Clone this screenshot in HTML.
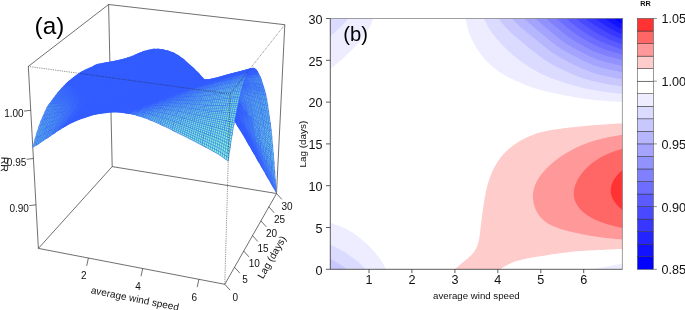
<!DOCTYPE html>
<html><head><meta charset="utf-8"><title>Figure</title>
<style>
html,body{margin:0;padding:0;background:#fff;}
svg{display:block;font-family:"Liberation Sans",sans-serif;fill:#000;}
svg{will-change:transform;opacity:0.9999;}
.f{fill:#84ffc8;}.l{fill:none;stroke:#325cff;}
</style></head><body>
<svg width="685" height="310" viewBox="0 0 685 310">
<rect width="685" height="310" fill="#fff"/>
<!-- panel a: 3D -->
<g stroke="#222" stroke-width="0.65" fill="none"><line x1="38.4" y1="248.4" x2="28.3" y2="66.4" /><line x1="28.3" y1="66.4" x2="108.6" y2="4.5" /><line x1="108.6" y1="4.5" x2="284.8" y2="24.7" /><line x1="284.8" y1="24.7" x2="276.5" y2="193.5" /><line x1="112.2" y1="166.6" x2="108.6" y2="4.5" /><line x1="112.2" y1="166.6" x2="276.5" y2="193.5" /><line x1="38.4" y1="248.4" x2="112.2" y2="166.6" /><line x1="38.4" y1="248.4" x2="224.8" y2="284.3" /><line x1="224.8" y1="284.3" x2="276.5" y2="193.5" /><line x1="88.4" y1="258.0" x2="86.7" y2="265.8" /><line x1="142.7" y1="268.5" x2="141.0" y2="276.3" /><line x1="198.9" y1="279.3" x2="197.2" y2="287.1" /><line x1="224.8" y1="284.3" x2="230.1" y2="290.2" /><line x1="234.5" y1="267.2" x2="239.8" y2="273.1" /><line x1="243.7" y1="251.0" x2="249.0" y2="256.9" /><line x1="252.5" y1="235.6" x2="257.8" y2="241.5" /><line x1="260.9" y1="220.9" x2="266.2" y2="226.8" /><line x1="268.9" y1="206.9" x2="274.2" y2="212.8" /><line x1="276.5" y1="193.5" x2="281.8" y2="199.4" /><line x1="36.0" y1="204.8" x2="29.3" y2="205.6" /><line x1="33.4" y1="158.5" x2="26.7" y2="159.3" /><line x1="30.7" y1="110.3" x2="24.0" y2="111.1" /></g>
<g stroke="none"><path d="M33.5 146.5l6-3.8l14.1-9.3l10.7-6.7l7.3-3.9l3.6-1.7l3.7-1.6l11.3-3.7l3.7-1.1l3.8-.8l7.6-1.2l3.9-.4l3.9-.2l3.9 0l3.8 .3l7.9 1l3.9 .7l7.8 1.9l4 1.2l4 1.6l7.9 3.4l11.9 5.5l20 10l16.1 8.2l12 6.7l4.1 2.5l7.5 5.3l2.7-18.8l1.8-11.3l1.6-8.8l.2-.3l.3-.1l.3 .2l3.8 6l9.7 16.2l19.1 33.2l8.5 15.1l-.8-8.9l-2.3-30l-1.4-16.5l-1.6-13.9l-2.7-18.3l-.9-5.5l-1.5-6.7l-3.8-12.4l-1.2-3.2l-1.1-2.7l-1.2-2.2l-1.2-1.7l-.6-.6l-1.2-.8l-.6-.2l-1.1-.1l-8 2.2l-15.2 3.9l-15.4 4.2l-5.1 1.2l-4.4 .2l-.2-.1l-2.6-3l-3.3-3.6l-6.7-6.3l-6.7-6l-3.3-2.6l-3.3-2.4l-3.4-2l-3.3-1.6l-3.3-1.1l-6.6-1.5l-3.3-.4l-3.3-.1l-3.2 .4l-3.3 .6l-3.3 .9l-3.2 1.1l-3.3 1.2l-8.1 3.6l-2.5 .9l-3.6 1.1l-5.5 1.3l-7.2 1.5l-15.3 2.7l-1.7 .8l-2.8 1.7l-6.5 2.9l-3.8 1.9l-2.8 1.7l-4.8 3.4l-4 3.1l-1.9 1.7l-4 3.8l-3 3.2l-3 3.5l-3.1 3.9l-5.1 7l-2.1 3.2l-2 4.1l-3.1 6.8l-3 7.6l-3 9.1z" fill="#325cff" fill-rule="evenodd"/><path d="M110 67.1l4.7-2.5l4.8-2.4l4.8-2.4l4.8-2.4l1.6-.8l-1.6 .6l-1.6 .6l-4.9 2.1l-4.8 2l-4.8 2.1l-4.7 2.2z" fill="#325cff"/><path d="M270.2 182.4l1.6 2.8l4.7 8.5l-.7-7l-4.8-8.1l-1.6-2.7z" fill="#3d71f8"/><path d="M265.4 174.2l1.6 2.7l4.8 8.3l1.5 2.9l-.7-6.8l-1.6-2.7l-4.8-8l-1.6-2.7z" fill="#3a6cfa"/><path d="M127.5 58.2l1.6-.8l4.9-2.3l1.6-.7l-1.6 .8l-1.7 .6l-4.8 2l-1.6 .7z" fill="#325cff"/><path d="M260.7 165.9l1.6 2.7l4.7 8.3l1.6 2.8l-.8-6.5l-1.6-2.6l-4.8-7.9l-1.6-2.6z" fill="#3766fb"/><path d="M132.4 55.9l1.6-.8l4.8-2.1l1.7-.7l-1.6 1.1l-1.7 .6l-4.9 1.8l-1.6 .7z" fill="#325cff"/><path d="M255.9 157.6l1.6 2.8l4.8 8.2l1.6 2.8l-.9-6.1l-1.6-2.6l-4.8-7.9l-1.6-2.6z" fill="#335efe"/><path d="M251.1 149.3l1.6 2.7l4.8 8.4l1.6 2.7l-.9-5.6l-1.6-2.7l-4.8-7.9l-1.6-2.6z" fill="#325cff"/><path d="M137.2 53.7l1.6-.7l5-1.9l1.6-.5l-1.6 1.3l-1.6 .5l-5 1.6l-1.6 .6z" fill="#325cff"/><path d="M246.3 141l1.6 2.7l4.8 8.3l1.6 2.8l-.9-5.2l-1.6-2.7l-4.9-7.9l-1.6-2.6z" fill="#325cff"/><path d="M142.1 51.7l1.7-.6l4.9-1.4l1.6-.3l-1.5 1.4l-1.7 .3l-4.9 1.3l-1.7 .5z" fill="#325cff"/><path d="M236.6 124.9l1.6 2.7l4.9 7.9l4.8 8.2l1.6 2.8l-1-4.8l-1.6-2.7l-4.9-7.8l-4.8-7.8l-1.7-2.6z" fill="#325cff"/><path d="M147 50.2l1.7-.5l4.9-.9l1.7-.1l-1.6 1.6l-1.6 .1l-5 .7l-1.6 .4z" fill="#325cff"/><path d="M231.7 117.2l1.7 2.6l4.8 7.8l1.7 2.6l-1.1-4.2l-1.6-2.6l-4.9-7.6l-1.7-2.5z" fill="#325cff"/><path d="M152 49.1l1.6-.3l5 0l1.7 .2l-1.6 1.6l-1.6-.2l-5 0l-1.7 .2z" fill="#325cff"/><path d="M226.8 109.6l1.7 2.5l4.9 7.7l1.6 2.5l-1.1-4l-1.6-2.5l-5-7.4l-1.6-2.4z" fill="#325cff"/><path d="M157 48.7l1.6 .1l5 .7l1.7 .4l-1.5 1.6l-1.7-.4l-5-.7l-1.7-.1z" fill="#325cff"/><path d="M217 95.4l1.6 2.3l5 7l4.9 7.4l1.6 2.5l-1.1-3.8l-1.7-2.4l-4.9-7l-5-6.4l-1.7-2z" fill="#325cff"/><path d="M162 49.2l1.6 .3l5 1.3l1.7 .5l-1.5 1.6l-1.7-.5l-5-1.3l-1.7-.3z" fill="#325cff"/><path d="M212 88.7l1.7 2.2l4.9 6.8l1.7 2.3l-1.2-2.9l-1.7-2.1l-5-6l-1.7-2z" fill="#325cff"/><path d="M167 50.3l1.6 .5l5.1 1.8l1.6 .8l-1.5 1.6l-1.7-.8l-5-1.8l-1.7-.5z" fill="#325cff"/><path d="M207.1 82.3l1.6 2.1l5 6.5l1.6 2.3l-1.2-2.3l-1.7-1.9l-5-5.8l-1.7-1.9z" fill="#325cff"/><path d="M172 51.9l1.7 .7l5 2.8l1.7 1.2l-1.5 1.3l-1.7-1.1l-5.1-2.6l-1.6-.7z" fill="#325cff"/><path d="M197.1 71.2l1.6 1.7l5 5.4l5 6.1l1.7 2.1l-1.3-1.4l-1.7-1.9l-5-5.4l-5.1-4.9l-1.6-1.5z" fill="#325cff"/><path d="M177 54.4l1.7 1l5 3.7l1.7 1.4l-1.5 1.1l-1.7-1.3l-5-3.5l-1.7-.9z" fill="#325cff"/><path d="M192.1 66.5l1.6 1.5l5 4.9l1.7 1.7l-1.4-.1l-1.7-1.6l-5-4.4l-1.7-1.4z" fill="#325cff"/><path d="M182 57.8l1.7 1.3l5 4.4l5 4.5l1.7 1.6l-1.4 .3l-1.7-1.4l-5-4.2l-5.1-4l-1.7-1.2z" fill="#325cff"/><path d="M108.7 66.5l4.8-2.4l4.7-2.1l4.8-2.1l4.9-2.2l4.8-2l1.7-.7l-2.1 1l-1.6 .5l-4.9 1.8l-4.9 1.6l-4.8 1.7l-4.8 1.8l-4.8 2z" fill="#325cff"/><path class="f" d="M269.6 177.6l1.6 2.7l1.6 2.7l1.6 2.8l1.6 2.7l-.9-9.6l-1.6-2.4l-1.6-2.5l-1.6-2.5l-1.6-2.5z"/><path class="l" stroke-width="0.66" d="M268.9 170.8l1.6 2.5l1.6 2.6l1.6 2.5l1.6 2.5M269.1 172.5l1.6 2.6l1.6 2.6l1.6 2.6l1.6 2.6M269.2 174.2l1.6 2.7l1.6 2.6l1.6 2.7l1.6 2.6M269.4 175.9l1.6 2.7l1.6 2.7l1.6 2.7l1.6 2.7M269.6 177.6l1.6 2.7l1.6 2.7l1.6 2.8l1.6 2.7M268.7 169l.2 1.8l.2 1.7l.1 1.7l.2 1.7l.2 1.7M270.3 171.5l.2 1.8l.2 1.8l.1 1.8l.2 1.7l.2 1.7M271.9 174l.2 1.9l.2 1.8l.1 1.8l.2 1.8l.2 1.7M273.5 176.5l.2 1.9l.2 1.9l.1 1.9l.2 1.8l.2 1.8M275.1 178.9l.2 2l.2 2l.1 1.9l.2 1.9l.2 1.8"/><path d="M131.1 56.3l1.6-.6l4.9-2l1.7-.6l-2.1 1.3l-1.6 .5l-4.9 1.6l-1.6 .6z" fill="#325cff"/><path d="M264.8 169.5l1.6 2.7l4.8 8.1l1.6 2.7l-.9-9l-1.6-2.5l-4.9-7.5l-1.6-2.5z" fill="#3f75f7"/><path d="M260 161.5l1.6 2.7l4.8 8l1.6 2.7l-.9-8.4l-1.7-2.5l-4.8-7.4l-1.6-2.4z" fill="#3b6ef9"/><path d="M136 54.3l1.6-.6l5-1.6l1.6-.5l-2 1.6l-1.7 .4l-4.9 1.3l-1.6 .5z" fill="#325cff"/><path d="M255.2 153.6l1.6 2.6l4.8 8l1.6 2.6l-1-7.7l-1.6-2.5l-4.9-7.4l-1.6-2.5z" fill="#3664fc"/><path d="M250.4 145.5l1.6 2.7l4.8 8l1.6 2.7l-1.1-7.2l-1.6-2.5l-4.9-7.4l-1.6-2.5z" fill="#335dff"/><path d="M140.9 52.6l1.7-.5l4.9-1.3l1.7-.3l-2 1.8l-1.7 .2l-5 1.1l-1.6 .4z" fill="#325cff"/><path d="M245.6 137.5l1.6 2.7l4.8 8l1.6 2.7l-1.2-6.6l-1.6-2.5l-4.9-7.5l-1.6-2.5z" fill="#325cff"/><path d="M145.8 51.2l1.7-.4l5-.8l1.6-.1l-1.9 2.1l-1.7 0l-5 .5l-1.6 .3z" fill="#325cff"/><path d="M240.7 129.6l1.6 2.7l4.9 7.9l1.6 2.7l-1.3-6.1l-1.6-2.5l-4.9-7.5l-1.6-2.6z" fill="#325cff"/><path d="M150.8 50.2l1.7-.2l5 0l1.6 .2l-1.9 2l-1.7-.1l-5-.1l-1.7 .1z" fill="#325cff"/><path d="M230.9 114.3l1.6 2.5l4.9 7.6l4.9 7.9l1.6 2.6l-1.3-5.6l-1.6-2.5l-4.9-7.6l-5-7.5l-1.6-2.4z" fill="#325cff"/><path d="M155.8 49.9l1.7 .1l5 .7l1.6 .4l-1.9 2l-1.7-.3l-5-.7l-1.7-.1z" fill="#325cff"/><path d="M226 106.9l1.6 2.4l4.9 7.5l1.7 2.5l-1.4-5.2l-1.7-2.4l-5-7.1l-1.6-2.2z" fill="#325cff"/><path d="M160.8 50.4l1.7 .3l5 1.3l1.7 .5l-1.9 2l-1.7-.5l-5.1-1.2l-1.6-.3z" fill="#325cff"/><path d="M221 100l1.7 2.3l4.9 7l1.7 2.5l-1.5-4.9l-1.7-2.3l-4.9-6.4l-1.7-2z" fill="#325cff"/><path d="M165.8 51.5l1.7 .5l5 1.8l1.7 .8l-1.9 2l-1.7-.8l-5-1.8l-1.7-.5z" fill="#325cff"/><path d="M216 93.6l1.7 2.1l5 6.6l1.6 2.3l-1.5-4.4l-1.6-2l-5.1-5.8l-1.6-1.8z" fill="#325cff"/><path d="M170.8 53.1l1.7 .7l5.1 2.7l1.6 1.1l-1.8 1.7l-1.7-1l-5.1-2.5l-1.7-.7z" fill="#325cff"/><path d="M211.1 87.4l1.6 2.1l5 6.2l1.7 2.2l-1.6-3.7l-1.7-1.8l-5-5.4l-1.7-1.7z" fill="#325cff"/><path d="M175.9 55.5l1.7 1l5 3.5l1.7 1.3l-1.9 1.3l-1.6-1.1l-5.1-3.2l-1.7-.9z" fill="#325cff"/><path d="M206.1 81.6l1.6 1.9l5 6l1.7 2l-1.6-2.7l-1.7-1.8l-5-5l-1.7-1.5z" fill="#325cff"/><path d="M180.9 58.8l1.7 1.2l5 4.1l1.7 1.4l-1.8 .9l-1.7-1.3l-5-3.6l-1.7-1.1z" fill="#325cff"/><path d="M201 76.2l1.7 1.7l5 5.6l1.7 1.9l-1.7-1.7l-1.6-1.7l-5.1-4.6l-1.7-1.5z" fill="#325cff"/><path d="M186 62.7l1.6 1.4l5.1 4.3l1.6 1.4l-1.7 .5l-1.7-1.4l-5.1-3.8l-1.7-1.2z" fill="#325cff"/><path d="M191 66.9l1.7 1.5l5 4.5l5 5l1.7 1.8l-1.7-.8l-1.7-1.5l-5.1-4.4l-5-4.1l-1.7-1.3z" fill="#325cff"/><path d="M106.9 65.6l4.8-2l4.8-1.9l4.9-1.8l4.8-1.7l4.9-1.8l4.9-1.7l4.9-1.4l1.7-.4l-2 1.5l-1.7 .3l-4.9 1.2l-5 1.3l-4.9 1.4l-4.9 1.4l-4.8 1.5l-4.8 1.5l-4.9 1.7z" fill="#325cff"/><path class="f" d="M264 163.2l1.6 2.5l1.7 2.5l1.6 2.6l1.6 2.5l1.6 2.6l1.6 2.5l1.6 2.5l-.8-10.6l-1.6-2.2l-1.7-2.1l-1.6-2.2l-1.7-2.3l-1.6-2.2l-1.7-2.2l-1.6-2.2z"/><path class="l" stroke-width="0.64" d="M263.2 156.6l1.6 2.3l1.7 2.2l1.6 2.3l1.7 2.3l1.6 2.3l1.6 2.3l1.7 2.2M263.4 158.2l1.6 2.4l1.7 2.4l1.6 2.3l1.6 2.4l1.7 2.3l1.6 2.4l1.6 2.2M263.6 159.9l1.6 2.4l1.7 2.4l1.6 2.5l1.6 2.4l1.6 2.4l1.6 2.4l1.7 2.4M263.8 161.5l1.6 2.5l1.7 2.5l1.6 2.5l1.6 2.5l1.6 2.5l1.6 2.5l1.6 2.4M264 163.2l1.6 2.5l1.7 2.5l1.6 2.6l1.6 2.5l1.6 2.6l1.6 2.5l1.6 2.5M263 154.9l.2 1.7l.2 1.6l.2 1.7l.2 1.6l.2 1.7M264.6 157.1l.2 1.8l.2 1.7l.2 1.7l.2 1.7l.2 1.7M266.3 159.3l.2 1.8l.2 1.9l.2 1.7l.2 1.8l.2 1.7M267.9 161.5l.2 1.9l.2 1.9l.2 1.9l.2 1.8l.2 1.8M269.6 163.8l.2 1.9l.1 2l.2 1.9l.2 1.9l.2 1.8M271.2 166l.2 2l.2 2l.1 2l.2 2l.2 1.9M272.9 168.1l.1 2.2l.2 2.1l.1 2l.2 2.1l.2 1.9M274.5 170.3l.2 2.2l.1 2.1l.2 2.2l.1 2.1l.2 2"/><path d="M139.3 53.7l1.6-.4l5-1.1l1.7-.3l-2 1.9l-1.7 .1l-5 .8l-1.6 .4z" fill="#325cff"/><path d="M259.2 155.7l1.6 2.5l4.8 7.5l1.7 2.5l-1-8.9l-1.7-2.2l-4.9-6.7l-1.6-2.3z" fill="#4078f5"/><path d="M254.3 148.1l1.6 2.5l4.9 7.6l1.6 2.5l-1-8.1l-1.7-2.2l-4.9-6.9l-1.7-2.4z" fill="#3b6ef9"/><path d="M144.3 52.5l1.6-.3l5-.6l1.7-.1l-2 2.1l-1.7 0l-5 .3l-1.7 .3z" fill="#325cff"/><path d="M249.4 140.5l1.7 2.6l4.8 7.5l1.7 2.5l-1.2-7.3l-1.6-2.3l-5-7l-1.6-2.4z" fill="#3562fd"/><path d="M149.2 51.7l1.7-.1l5 .1l1.7 .1l-2 2.1l-1.7-.2l-5-.1l-1.7 0z" fill="#325cff"/><path d="M239.6 125.3l1.7 2.6l4.9 7.6l4.9 7.6l1.6 2.5l-1.2-6.8l-1.7-2.3l-4.9-7l-5-7.2l-1.6-2.4z" fill="#325cff"/><path d="M154.2 51.6l1.7 .1l5 .7l1.7 .3l-1.9 2.1l-1.7-.4l-5.1-.7l-1.6-.1z" fill="#325cff"/><path d="M234.7 117.7l1.6 2.5l5 7.7l1.6 2.5l-1.3-5.6l-1.7-2.5l-4.9-7.4l-1.7-2.4z" fill="#325cff"/><path d="M159.2 52.1l1.7 .3l5.1 1.2l1.6 .5l-1.9 2.1l-1.7-.6l-5-1.2l-1.7-.3z" fill="#325cff"/><path d="M229.8 110.3l1.6 2.4l4.9 7.5l1.7 2.6l-1.4-5.4l-1.6-2.5l-5-7.2l-1.7-2.3z" fill="#325cff"/><path d="M164.3 53.1l1.7 .5l5 1.8l5.1 2.5l1.6 1.1l-1.8 1.6l-1.7-.9l-5.1-2.3l-5.1-1.8l-1.7-.4z" fill="#325cff"/><path d="M224.8 103.3l1.6 2.2l5 7.2l1.7 2.5l-1.5-5.1l-1.6-2.4l-5-6.6l-1.7-2z" fill="#325cff"/><path d="M174.4 57l1.7 .9l5 3.3l1.7 1.2l-1.8 1.3l-1.7-1.1l-5.1-2.9l-1.7-.8z" fill="#325cff"/><path d="M219.8 96.9l1.7 2.1l4.9 6.5l1.7 2.4l-1.5-4.7l-1.6-2.1l-5.1-5.8l-1.7-1.8z" fill="#325cff"/><path d="M179.4 60l1.7 1.2l5.1 3.7l1.7 1.3l-1.9 .8l-1.7-1.1l-5-3.3l-1.7-1z" fill="#325cff"/><path d="M214.8 91.1l1.6 1.9l5.1 6l1.6 2.1l-1.5-4l-1.7-1.8l-5-5.2l-1.7-1.6z" fill="#325cff"/><path d="M184.5 63.6l1.7 1.3l5 3.9l5.1 4.2l1.7 1.5l-1.8-.1l-1.7-1.3l-5.1-3.7l-5.1-3.5l-1.7-1.1z" fill="#325cff"/><path d="M209.7 85.7l1.7 1.8l5 5.5l1.7 1.9l-1.6-3.1l-1.6-1.7l-5.1-4.6l-1.7-1.5z" fill="#325cff"/><path d="M194.6 71.6l1.7 1.4l5 4.5l1.7 1.6l-1.7-.7l-1.7-1.4l-5.1-3.9l-1.7-1.3z" fill="#325cff"/><path d="M199.7 75.9l1.6 1.6l5.1 4.8l5 5.2l1.7 1.8l-1.6-2.3l-1.7-1.5l-5.1-4.4l-5.1-4.1l-1.7-1.3z" fill="#325cff"/><path d="M105.2 64.9l4.8-1.8l4.8-1.6l4.9-1.5l4.9-1.5l4.9-1.4l4.9-1.5l4.9-1.1l5-.9l5-.4l1.7 0l-2 1.9l-1.7 0l-5 .2l-5 .6l-5 .9l-4.9 1.1l-5 1.2l-4.9 1.1l-4.8 1.2l-4.9 1.3l-4.8 1.4z" fill="#325cff"/><path class="f" d="M268.1 163.4l1.7 2.3l1.6 2.3l1.6 2.3l1.7 2.2l-.8-11l-1.7-1.9l-1.7-1.9l-1.6-1.9l-1.7-1.9z"/><path class="l" stroke-width="0.61" d="M267.4 155.8l1.6 2l1.7 1.9l1.7 2l1.6 2M267.6 157.7l1.6 2.1l1.7 2l1.6 2l1.7 2.1M267.7 159.6l1.7 2.2l1.6 2.1l1.7 2.1l1.6 2.1M267.9 161.5l1.7 2.3l1.6 2.2l1.7 2.1l1.6 2.2M268.1 163.4l1.7 2.3l1.6 2.3l1.6 2.3l1.7 2.2M267.2 153.9l.2 1.9l.2 1.9l.1 1.9l.2 1.9l.2 1.9M268.9 155.8l.1 2l.2 2l.2 2l.2 2l.2 1.9M270.5 157.7l.2 2l.2 2.1l.1 2.1l.2 2.1l.2 2M272.2 159.6l.2 2.1l.1 2.1l.2 2.2l.2 2.1l.1 2.2M273.9 161.5l.1 2.2l.2 2.2l.1 2.2l.2 2.2l.2 2.2"/><path class="f" d="M263.2 156.6l1.6 2.3l1.7 2.2l1.6 2.3l1.7 2.3l1.6 2.3l-.9-10.3l-1.6-1.9l-1.7-1.9l-1.7-2l-1.7-1.9l-1.6-2z"/><path class="l" stroke-width="0.63" d="M262.4 149.7l1.6 2.1l1.7 2l1.7 2l1.6 2l1.7 1.9M262.6 151.5l1.6 2.1l1.7 2l1.7 2.1l1.6 2.1l1.7 2M262.8 153.2l1.6 2.1l1.7 2.2l1.6 2.1l1.7 2.2l1.6 2.1M263 154.9l1.6 2.2l1.7 2.2l1.6 2.2l1.7 2.3l1.6 2.2M263.2 156.6l1.6 2.3l1.7 2.2l1.6 2.3l1.7 2.3l1.6 2.3M262.2 148l.2 1.7l.2 1.8l.2 1.7l.2 1.7l.2 1.7M263.8 150l.2 1.8l.2 1.8l.2 1.7l.2 1.8l.2 1.8M265.5 151.9l.2 1.9l.2 1.8l.2 1.9l.2 1.8l.2 1.8M267.2 153.9l.2 1.9l.2 1.9l.1 1.9l.2 1.9l.2 1.9M268.9 155.8l.1 2l.2 2l.2 2l.2 2l.2 1.9M270.5 157.7l.2 2l.2 2.1l.1 2.1l.2 2.1l.2 2"/><path d="M147.6 53.3l1.7-.1l5 .1l1.7 .2l-2 2l-1.7-.2l-5-.2l-1.7 0z" fill="#325cff"/><path class="f" d="M258.3 149.6l1.6 2.3l1.7 2.4l1.6 2.3l1.6 2.3l1.7 2.2l-1-9.2l-1.7-1.9l-1.6-2l-1.7-2l-1.7-2l-1.6-2.1z"/><path class="l" stroke-width="0.65" d="M257.4 143.5l1.7 2.1l1.6 2.1l1.7 2l1.6 2.1l1.7 2M257.6 145l1.7 2.2l1.6 2.1l1.7 2.2l1.6 2.1l1.7 2M257.9 146.5l1.6 2.3l1.7 2.2l1.6 2.2l1.6 2.1l1.7 2.2M258.1 148.1l1.6 2.3l1.7 2.2l1.6 2.3l1.6 2.2l1.7 2.2M258.3 149.6l1.6 2.3l1.7 2.4l1.6 2.3l1.6 2.3l1.7 2.2M257.2 141.9l.2 1.6l.2 1.5l.3 1.5l.2 1.6l.2 1.5M258.8 144l.3 1.6l.2 1.6l.2 1.6l.2 1.6l.2 1.5M260.5 146l.2 1.7l.2 1.6l.3 1.7l.2 1.6l.2 1.7M262.2 148l.2 1.7l.2 1.8l.2 1.7l.2 1.7l.2 1.7M263.8 150l.2 1.8l.2 1.8l.2 1.7l.2 1.8l.2 1.8M265.5 151.9l.2 1.9l.2 1.8l.2 1.9l.2 1.8l.2 1.8"/><path d="M253.4 142.6l1.6 2.3l4.9 7l1.7 2.4l-1.1-8.3l-1.7-2l-4.9-6.4l-1.7-2.2z" fill="#3f75f7"/><path d="M152.6 53.2l1.7 .1l5.1 .7l1.6 .4l-1.9 2l-1.7-.4l-5.1-.7l-1.6-.1z" fill="#325cff"/><path d="M248.4 135.4l1.7 2.4l4.9 7.1l1.7 2.4l-1.2-7.5l-1.6-2.2l-5-6.6l-1.7-2.2z" fill="#3a6cfa"/><path d="M157.7 53.7l1.7 .3l5 1.2l1.7 .6l-1.9 1.9l-1.7-.5l-5.1-1.2l-1.7-.3z" fill="#325cff"/><path d="M243.5 128.3l1.6 2.4l5 7.1l1.6 2.4l-1.2-7l-1.6-2.2l-5-6.6l-1.7-2.1z" fill="#3562fd"/><path d="M238.5 121l1.7 2.4l4.9 7.3l1.7 2.4l-1.3-6.5l-1.6-2.2l-5.1-6.6l-1.6-2.3z" fill="#325cff"/><path d="M162.7 54.8l1.7 .4l5.1 1.8l5.1 2.4l1.6 .9l-1.8 1.6l-1.7-.8l-5.1-2.2l-5.1-1.7l-1.7-.4z" fill="#325cff"/><path d="M233.6 113.5l1.6 2.5l5 7.4l1.6 2.5l-1.3-5.8l-1.7-2.3l-5-7l-1.7-2.3z" fill="#325cff"/><path d="M172.9 58.5l1.7 .9l5 2.9l1.7 1.1l-1.8 1.2l-1.7-.9l-5.1-2.6l-1.7-.8z" fill="#325cff"/><path d="M228.6 106.4l1.7 2.3l4.9 7.3l1.7 2.5l-1.4-5.4l-1.7-2.3l-5-6.7l-1.7-2.1z" fill="#325cff"/><path d="M177.9 61.3l1.7 1l5.1 3.4l5.1 3.6l1.7 1.2l-1.8 .4l-1.7-1.1l-5.1-3.2l-5.1-2.9l-1.7-.9z" fill="#325cff"/><path d="M223.6 99.9l1.7 2.1l5 6.7l1.6 2.4l-1.4-4.8l-1.7-2.2l-5.1-6l-1.7-1.8z" fill="#325cff"/><path d="M188.1 68.1l1.7 1.2l5.1 3.8l5.1 4l1.6 1.4l-1.7-.5l-1.7-1.2l-5.1-3.6l-5.1-3.4l-1.7-1.1z" fill="#325cff"/><path d="M218.5 94.1l1.7 1.8l5.1 6.1l1.6 2.1l-1.5-4.1l-1.7-1.9l-5.1-5.1l-1.7-1.6z" fill="#325cff"/><path d="M198.3 75.7l1.7 1.4l5 4.2l5.1 4.5l1.7 1.6l-1.7-1.7l-1.7-1.4l-5.1-3.8l-5.1-3.7l-1.7-1.2z" fill="#325cff"/><path d="M208.4 84.3l1.7 1.5l5.1 4.8l5 5.3l1.7 2l-1.6-3.3l-1.7-1.6l-5.1-4.6l-5.1-4.1l-1.7-1.3z" fill="#325cff"/><path d="M103.4 64.2l4.8-1.4l4.9-1.4l4.9-1.2l4.9-1.3l4.9-1.2l4.9-1.1l5-1l5-.6l5-.3l5 .2l5.1 .7l1.7 .4l-2 1.9l-1.7-.3l-5.1-.7l-5-.3l-5 .1l-5.1 .5l-4.9 .7l-5 .8l-5 .9l-4.9 1l-4.9 .9l-4.9 1.1l-4.8 1.1z" fill="#325cff"/><path class="f" d="M267.4 155.8l1.6 2l1.7 1.9l1.7 2l1.6 2l-.8-10.8l-1.7-1.7l-1.7-1.7l-1.7-1.7l-1.7-1.6z"/><path class="l" stroke-width="0.60" d="M266.6 148.1l1.7 1.7l1.7 1.7l1.7 1.7l1.7 1.8M266.8 150l1.7 1.8l1.7 1.8l1.6 1.7l1.7 1.8M267 151.9l1.7 1.9l1.6 1.8l1.7 1.8l1.7 1.9M267.2 153.9l1.7 1.9l1.6 1.9l1.7 1.9l1.7 1.9M267.4 155.8l1.6 2l1.7 1.9l1.7 2l1.6 2M266.4 146.2l.2 1.9l.2 1.9l.2 1.9l.2 2l.2 1.9M268.1 147.8l.2 2l.2 2l.2 2l.2 2l.1 2M269.8 149.5l.2 2l.2 2.1l.1 2l.2 2.1l.2 2M271.5 151.2l.2 2l.1 2.1l.2 2.1l.2 2.2l.2 2.1M273.2 152.9l.2 2.1l.1 2.1l.2 2.2l.2 2.2l.1 2.2"/><path d="M156.1 55.3l1.7 .3l5.1 1.2l1.7 .5l-2 1.9l-1.7-.5l-5.1-1.1l-1.7-.3z" fill="#325cff"/><path class="f" d="M262.4 149.7l1.6 2.1l1.7 2l1.7 2l1.6 2l1.7 1.9l-.9-10.2l-1.7-1.7l-1.7-1.6l-1.7-1.7l-1.7-1.7l-1.7-1.7z"/><path class="l" stroke-width="0.61" d="M261.6 142.8l1.6 1.8l1.7 1.8l1.7 1.7l1.7 1.7l1.7 1.7M261.8 144.6l1.6 1.8l1.7 1.8l1.7 1.8l1.7 1.8l1.7 1.8M262 146.3l1.6 1.9l1.7 1.9l1.7 1.8l1.7 1.9l1.6 1.8M262.2 148l1.6 2l1.7 1.9l1.7 2l1.7 1.9l1.6 1.9M262.4 149.7l1.6 2.1l1.7 2l1.7 2l1.6 2l1.7 1.9M261.3 141.1l.3 1.7l.2 1.8l.2 1.7l.2 1.7l.2 1.7M263 142.8l.2 1.8l.2 1.8l.2 1.8l.2 1.8l.2 1.8M264.7 144.5l.2 1.9l.2 1.8l.2 1.9l.2 1.8l.2 1.9M266.4 146.2l.2 1.9l.2 1.9l.2 1.9l.2 2l.2 1.9M268.1 147.8l.2 2l.2 2l.2 2l.2 2l.1 2M269.8 149.5l.2 2l.2 2.1l.1 2l.2 2.1l.2 2"/><path class="f" d="M257.4 143.5l1.7 2.1l1.6 2.1l1.7 2l1.6 2.1l1.7 2l-1-9.3l-1.7-1.7l-1.7-1.7l-1.7-1.7l-1.6-1.8l-1.7-1.9z"/><path class="l" stroke-width="0.63" d="M256.5 137.2l1.7 2l1.7 1.8l1.7 1.8l1.6 1.8l1.7 1.8M256.7 138.8l1.7 2l1.7 1.9l1.7 1.9l1.6 1.8l1.7 1.8M257 140.3l1.6 2.1l1.7 2l1.7 1.9l1.6 1.9l1.7 1.9M257.2 141.9l1.6 2.1l1.7 2l1.7 2l1.6 2l1.7 1.9M257.4 143.5l1.7 2.1l1.6 2.1l1.7 2l1.6 2.1l1.7 2M256.3 135.7l.2 1.5l.2 1.6l.3 1.5l.2 1.6l.2 1.6M258 137.6l.2 1.6l.2 1.6l.2 1.6l.2 1.6l.3 1.6M259.6 139.4l.3 1.6l.2 1.7l.2 1.7l.2 1.6l.2 1.7M261.3 141.1l.3 1.7l.2 1.8l.2 1.7l.2 1.7l.2 1.7M263 142.8l.2 1.8l.2 1.8l.2 1.8l.2 1.8l.2 1.8M264.7 144.5l.2 1.9l.2 1.8l.2 1.9l.2 1.8l.2 1.9"/><path d="M161.2 56.4l1.7 .4l5 1.7l1.7 .7l-1.9 1.8l-1.7-.7l-5.1-1.6l-1.7-.4z" fill="#325cff"/><path class="f" d="M252.4 136.8l1.7 2.3l1.6 2.2l1.7 2.2l1.7 2.1l1.6 2.1l-1.1-8.3l-1.6-1.8l-1.7-1.9l-1.7-2l-1.7-2.1l-1.7-2.1z"/><path class="l" stroke-width="0.67" d="M251.5 131l1.6 2.1l1.7 2.1l1.7 2l1.7 2l1.7 1.8M251.7 132.4l1.7 2.2l1.7 2.1l1.6 2.1l1.7 2l1.7 1.9M252 133.9l1.6 2.2l1.7 2.1l1.7 2.1l1.6 2.1l1.7 2M252.2 135.4l1.7 2.2l1.6 2.2l1.7 2.1l1.6 2.1l1.7 2M252.4 136.8l1.7 2.3l1.6 2.2l1.7 2.2l1.7 2.1l1.6 2.1M251.2 129.5l.3 1.5l.2 1.4l.3 1.5l.2 1.5l.2 1.4M252.9 131.6l.2 1.5l.3 1.5l.2 1.5l.3 1.5l.2 1.5M254.6 133.7l.2 1.5l.3 1.5l.2 1.5l.2 1.6l.2 1.5M256.3 135.7l.2 1.5l.2 1.6l.3 1.5l.2 1.6l.2 1.6M258 137.6l.2 1.6l.2 1.6l.2 1.6l.2 1.6l.3 1.6M259.6 139.4l.3 1.6l.2 1.7l.2 1.7l.2 1.6l.2 1.7"/><path d="M247.4 130.1l1.7 2.3l5 6.7l1.6 2.2l-1.1-7.6l-1.7-2.1l-5-6.4l-1.7-2z" fill="#3e73f7"/><path d="M166.3 57.9l1.6 .6l5.1 2.2l1.7 .9l-1.9 1.5l-1.7-.8l-5.1-2l-1.7-.5z" fill="#325cff"/><path d="M242.4 123.5l1.7 2.2l5 6.7l1.7 2.2l-1.2-7.3l-1.7-2.1l-5.1-6.1l-1.7-2z" fill="#3b6ef9"/><path d="M171.3 59.9l1.7 .8l5.1 2.7l5.1 3.1l1.7 1l-1.8 .9l-1.7-1l-5.2-2.7l-5.1-2.4l-1.7-.7z" fill="#325cff"/><path d="M237.4 116.6l1.7 2.4l5 6.7l1.7 2.2l-1.3-6.8l-1.7-2l-5.1-6.1l-1.6-2.1z" fill="#3663fd"/><path d="M181.5 65.4l1.7 1.1l5.1 3.2l1.7 1.2l-1.8 .4l-1.7-1l-5.1-2.9l-1.7-.9z" fill="#325cff"/><path d="M232.4 109.5l1.7 2.3l5 7.2l1.7 2.3l-1.4-6.2l-1.7-2.1l-5-6.2l-1.7-2z" fill="#325cff"/><path d="M186.6 68.6l1.7 1.1l5.1 3.5l5.2 3.6l1.7 1.3l-1.8-.3l-1.7-1.1l-5.2-3.3l-5.1-3.1l-1.7-1z" fill="#325cff"/><path d="M227.4 102.8l1.7 2.2l5 6.8l1.7 2.4l-1.4-5.3l-1.7-2.1l-5.1-5.8l-1.7-1.8z" fill="#325cff"/><path d="M196.8 75.6l1.8 1.2l5.1 3.8l5.1 4l1.7 1.4l-1.7-1.2l-1.7-1.2l-5.2-3.5l-5.1-3.4l-1.7-1.1z" fill="#325cff"/><path d="M222.4 97l1.6 1.8l5.1 6.2l1.7 2.2l-1.5-4.3l-1.7-1.9l-5.1-5.2l-1.7-1.6z" fill="#325cff"/><path d="M207.1 83.2l1.7 1.4l5.1 4.2l1.7 1.5l-1.7-1.8l-1.7-1.3l-5.1-3.6l-1.8-1.2z" fill="#325cff"/><path d="M212.2 87.3l1.7 1.5l5.1 4.7l5 5.3l1.7 1.9l-1.5-3.3l-1.7-1.6l-5.2-4.5l-5.1-4.1l-1.7-1.2z" fill="#325cff"/><path d="M101.6 63.8l4.9-1.2l4.8-1.1l4.9-1l5-1l4.9-1l5-.9l5-.7l5-.5l5-.2l5 .3l5.1 .7l5.1 1.2l5.1 1.6l5.1 2l5.1 2.5l1.7 .9l-1.9 1.1l-1.7-.7l-5.1-2.2l-5.2-1.9l-5.1-1.5l-5.1-1.1l-5.1-.7l-5-.3l-5.1 0l-5 .3l-5 .6l-5 .6l-5 .7l-4.9 .8l-4.9 .8l-4.9 .8l-4.9 .9z" fill="#325cff"/><path class="f" d="M266.6 148.1l1.7 1.7l1.7 1.7l1.7 1.7l1.7 1.8l-.9-10.6l-1.7-1.5l-1.7-1.4l-1.8-1.5l-1.7-1.4z"/><path class="l" stroke-width="0.60" d="M265.8 140.5l1.7 1.5l1.7 1.5l1.8 1.5l1.7 1.5M266 142.4l1.7 1.5l1.7 1.6l1.7 1.5l1.7 1.6M266.2 144.3l1.7 1.6l1.7 1.6l1.7 1.6l1.7 1.6M266.4 146.2l1.7 1.6l1.7 1.7l1.7 1.7l1.7 1.7M266.6 148.1l1.7 1.7l1.7 1.7l1.7 1.7l1.7 1.8M265.6 138.6l.2 1.9l.2 1.9l.2 1.9l.2 1.9l.2 1.9M267.3 140l.2 2l.2 1.9l.2 2l.2 1.9l.2 2M269.1 141.5l.1 2l.2 2l.2 2l.2 2l.2 2M270.8 142.9l.2 2.1l.1 2l.2 2.1l.2 2.1l.2 2M272.5 144.4l.2 2.1l.1 2.1l.2 2.1l.2 2.2l.2 2.1"/><path d="M174.9 63.6l1.7 .9l5.1 2.7l1.8 1l-1.9 .8l-1.7-.8l-5.2-2.4l-1.7-.8z" fill="#325cff"/><path class="f" d="M256.5 137.2l1.7 2l1.7 1.8l1.7 1.8l1.6 1.8l1.7 1.8l1.7 1.7l1.7 1.7l1.7 1.7l-.9-10l-1.8-1.5l-1.7-1.4l-1.7-1.4l-1.7-1.5l-1.7-1.5l-1.7-1.5l-1.7-1.7l-1.7-1.7z"/><path class="l" stroke-width="0.61" d="M255.6 130.9l1.7 1.8l1.7 1.6l1.7 1.6l1.7 1.6l1.7 1.5l1.7 1.5l1.7 1.5l1.7 1.5M255.8 132.5l1.7 1.8l1.7 1.7l1.7 1.7l1.7 1.6l1.7 1.5l1.7 1.6l1.7 1.5l1.7 1.6M256 134.1l1.7 1.8l1.7 1.8l1.7 1.7l1.7 1.6l1.7 1.7l1.7 1.6l1.7 1.6l1.7 1.6M256.3 135.7l1.7 1.9l1.6 1.8l1.7 1.7l1.7 1.7l1.7 1.7l1.7 1.7l1.7 1.6l1.7 1.7M256.5 137.2l1.7 2l1.7 1.8l1.7 1.8l1.6 1.8l1.7 1.8l1.7 1.7l1.7 1.7l1.7 1.7M255.4 129.3l.2 1.6l.2 1.6l.2 1.6l.3 1.6l.2 1.5M257.1 131l.2 1.7l.2 1.6l.2 1.6l.3 1.7l.2 1.6M258.8 132.7l.2 1.6l.2 1.7l.2 1.7l.2 1.7l.3 1.6M260.5 134.2l.2 1.7l.2 1.8l.2 1.7l.2 1.7l.3 1.7M262.2 135.7l.2 1.8l.2 1.8l.2 1.7l.2 1.8l.2 1.8M263.9 137.2l.2 1.8l.2 1.8l.2 1.9l.2 1.8l.2 1.9M265.6 138.6l.2 1.9l.2 1.9l.2 1.9l.2 1.9l.2 1.9M267.3 140l.2 2l.2 1.9l.2 2l.2 1.9l.2 2M269.1 141.5l.1 2l.2 2l.2 2l.2 2l.2 2"/><path class="f" d="M251.5 131l1.6 2.1l1.7 2.1l1.7 2l1.7 2l1.7 1.8l-1.1-8.3l-1.7-1.7l-1.7-1.7l-1.7-1.9l-1.7-1.9l-1.7-2z"/><path class="l" stroke-width="0.65" d="M250.5 125l1.7 2l1.7 2l1.7 1.9l1.7 1.8l1.7 1.6M250.8 126.5l1.6 2l1.7 2.1l1.7 1.9l1.7 1.8l1.7 1.7M251 128l1.7 2.1l1.7 2l1.6 2l1.7 1.8l1.7 1.8M251.2 129.5l1.7 2.1l1.7 2.1l1.7 2l1.7 1.9l1.6 1.8M251.5 131l1.6 2.1l1.7 2.1l1.7 2l1.7 2l1.7 1.8M250.3 123.5l.2 1.5l.3 1.5l.2 1.5l.2 1.5l.3 1.5M252 125.5l.2 1.5l.2 1.5l.3 1.6l.2 1.5l.2 1.5M253.7 127.4l.2 1.6l.2 1.6l.3 1.5l.2 1.6l.2 1.5M255.4 129.3l.2 1.6l.2 1.6l.2 1.6l.3 1.6l.2 1.5M257.1 131l.2 1.7l.2 1.6l.2 1.6l.3 1.7l.2 1.6M258.8 132.7l.2 1.6l.2 1.7l.2 1.7l.2 1.7l.3 1.6"/><path d="M180 66.3l1.7 .9l5.2 3l1.7 1l-1.9 .6l-1.7-1l-5.1-2.6l-1.8-.8z" fill="#325cff"/><path d="M246.4 124.6l1.7 2.1l5 6.4l1.7 2.1l-1.1-7.8l-1.7-1.9l-5.1-6l-1.7-1.9z" fill="#3f76f6"/><path d="M185.2 69.2l1.7 1l5.1 3.2l5.1 3.3l1.7 1.1l-1.7-.1l-1.8-1.1l-5.1-2.9l-5.2-2.9l-1.7-.9z" fill="#325cff"/><path d="M241.4 118.4l1.7 2l5 6.3l1.7 2.1l-1.2-7.3l-1.7-2l-5.1-5.6l-1.8-1.8z" fill="#3d72f8"/><path d="M195.4 75.6l1.7 1.1l5.2 3.5l1.7 1.1l-1.8-.5l-1.7-1l-5.2-3.2l-1.7-1z" fill="#325cff"/><path d="M236.3 112.1l1.7 2.1l5.1 6.2l1.7 2.1l-1.3-6.8l-1.7-1.8l-5.2-5.4l-1.7-1.8z" fill="#3664fc"/><path d="M200.6 79l1.7 1.2l5.1 3.6l1.7 1.2l-1.7-.9l-1.7-1.1l-5.2-3.2l-1.7-1.1z" fill="#325cff"/><path d="M231.3 105.7l1.7 2.1l5 6.4l1.7 2.1l-1.4-6l-1.7-1.8l-5.1-5.3l-1.7-1.7z" fill="#325cff"/><path d="M205.7 82.6l1.7 1.2l5.1 3.7l1.8 1.3l-1.7-1.3l-1.7-1.2l-5.2-3.3l-1.7-1.1z" fill="#325cff"/><path d="M226.2 99.8l1.7 1.9l5.1 6.1l1.7 2.1l-1.5-5l-1.7-1.7l-5.1-4.9l-1.8-1.5z" fill="#325cff"/><path d="M210.8 86.2l1.7 1.3l5.2 4.1l5.1 4.7l5.1 5.4l1.7 2l-1.5-3.8l-1.7-1.6l-5.2-4.4l-5.2-4l-5.1-3.6l-1.8-1.1z" fill="#325cff"/><path d="M99.8 63.6l4.9-1l4.9-.8l4.9-.9l5-.8l4.9-.7l5-.7l5-.6l5-.3l5.1-.1l5 .4l5.1 .7l5.1 1.1l5.1 1.5l5.2 1.9l5.1 2.2l5.1 2.5l5.2 2.7l5.1 2.9l5.2 3l5.2 3.2l5.1 3.4l1.8 1.1l-1.8-.8l-1.7-1l-5.2-3l-5.2-2.9l-5.2-2.7l-5.2-2.5l-5.1-2.4l-5.2-2.2l-5.2-2l-5.1-1.7l-5.2-1.4l-5.1-1l-5.1-.7l-5.1-.4l-5 0l-5.1 .2l-5 .3l-5 .5l-5 .6l-5 .6l-4.9 .7l-4.9 .6l-4.9 .7z" fill="#325cff"/><path class="f" d="M255.6 130.9l1.7 1.8l1.7 1.6l1.7 1.6l1.7 1.6l1.7 1.5l-1-8.8l-1.8-1.3l-1.7-1.3l-1.7-1.4l-1.8-1.5l-1.7-1.6z"/><path class="l" stroke-width="0.62" d="M254.7 124.6l1.7 1.6l1.7 1.6l1.7 1.4l1.8 1.4l1.7 1.3M254.9 126.2l1.7 1.6l1.7 1.6l1.7 1.5l1.8 1.4l1.7 1.3M255.1 127.7l1.7 1.7l1.7 1.6l1.8 1.5l1.7 1.5l1.7 1.4M255.4 129.3l1.7 1.7l1.7 1.7l1.7 1.5l1.7 1.5l1.7 1.5M255.6 130.9l1.7 1.8l1.7 1.6l1.7 1.6l1.7 1.6l1.7 1.5M254.4 123.1l.3 1.5l.2 1.6l.2 1.5l.3 1.6l.2 1.6M256.1 124.7l.3 1.5l.2 1.6l.2 1.6l.3 1.6l.2 1.7M257.9 126.2l.2 1.6l.2 1.6l.2 1.6l.3 1.7l.2 1.6M259.6 127.6l.2 1.6l.2 1.7l.3 1.6l.2 1.7l.2 1.7M261.3 128.9l.3 1.7l.2 1.7l.2 1.7l.2 1.7l.2 1.8M263.1 130.2l.2 1.7l.2 1.7l.2 1.8l.2 1.8l.2 1.8"/><path class="f" d="M260.7 135.9l1.7 1.6l1.7 1.5l1.7 1.5l1.7 1.5l1.7 1.5l-.9-9.7l-1.8-1.2l-1.7-1.2l-1.7-1.2l-1.8-1.3l-1.7-1.3z"/><path class="l" stroke-width="0.60" d="M259.8 129.2l1.8 1.4l1.7 1.3l1.7 1.3l1.7 1.2l1.8 1.3M260 130.9l1.8 1.4l1.7 1.3l1.7 1.4l1.7 1.3l1.8 1.3M260.3 132.5l1.7 1.5l1.7 1.4l1.7 1.4l1.7 1.3l1.8 1.4M260.5 134.2l1.7 1.5l1.7 1.5l1.7 1.4l1.7 1.4l1.8 1.5M260.7 135.9l1.7 1.6l1.7 1.5l1.7 1.5l1.7 1.5l1.7 1.5M259.6 127.6l.2 1.6l.2 1.7l.3 1.6l.2 1.7l.2 1.7M261.3 128.9l.3 1.7l.2 1.7l.2 1.7l.2 1.7l.2 1.8M263.1 130.2l.2 1.7l.2 1.7l.2 1.8l.2 1.8l.2 1.8M264.8 131.4l.2 1.8l.2 1.8l.2 1.8l.2 1.8l.2 1.9M266.5 132.6l.2 1.8l.2 1.9l.2 1.8l.2 1.9l.2 2M268.3 133.8l.2 1.9l.2 1.9l.2 1.9l.2 2l.1 2"/><path class="f" d="M250.5 125l1.7 2l1.7 2l1.7 1.9l1.7 1.8l1.7 1.6l-1.1-8.1l-1.8-1.5l-1.7-1.6l-1.7-1.6l-1.7-1.7l-1.7-1.8z"/><path class="l" stroke-width="0.65" d="M249.5 119.3l1.7 1.9l1.7 1.7l1.8 1.7l1.7 1.6l1.7 1.6M249.8 120.7l1.7 1.9l1.7 1.8l1.7 1.8l1.7 1.6l1.7 1.6M250 122.1l1.7 1.9l1.7 1.9l1.7 1.8l1.7 1.7l1.7 1.6M250.3 123.5l1.7 2l1.7 1.9l1.7 1.9l1.7 1.7l1.7 1.7M250.5 125l1.7 2l1.7 2l1.7 1.9l1.7 1.8l1.7 1.6M249.3 118l.2 1.3l.3 1.4l.2 1.4l.3 1.4l.2 1.5M251 119.8l.2 1.4l.3 1.4l.2 1.4l.3 1.5l.2 1.5M252.7 121.5l.2 1.4l.3 1.5l.2 1.5l.3 1.5l.2 1.6M254.4 123.1l.3 1.5l.2 1.6l.2 1.5l.3 1.6l.2 1.6M256.1 124.7l.3 1.5l.2 1.6l.2 1.6l.3 1.6l.2 1.7M257.9 126.2l.2 1.6l.2 1.6l.2 1.6l.3 1.7l.2 1.6"/><path class="f" d="M265.8 140.5l1.7 1.5l1.7 1.5l1.8 1.5l1.7 1.5l-.9-10.1l-1.8-1.3l-1.7-1.3l-1.8-1.2l-1.7-1.2z"/><path class="l" stroke-width="0.60" d="M265 133.2l1.7 1.2l1.8 1.3l1.7 1.3l1.7 1.3M265.2 135l1.7 1.3l1.8 1.3l1.7 1.3l1.7 1.4M265.4 136.8l1.7 1.3l1.8 1.4l1.7 1.4l1.7 1.5M265.6 138.6l1.7 1.4l1.8 1.5l1.7 1.4l1.7 1.5M265.8 140.5l1.7 1.5l1.7 1.5l1.8 1.5l1.7 1.5M264.8 131.4l.2 1.8l.2 1.8l.2 1.8l.2 1.8l.2 1.9M266.5 132.6l.2 1.8l.2 1.9l.2 1.8l.2 1.9l.2 2M268.3 133.8l.2 1.9l.2 1.9l.2 1.9l.2 2l.1 2M270 135.1l.2 1.9l.2 1.9l.2 2l.2 2l.2 2.1M271.8 136.4l.1 1.9l.2 2l.2 2.1l.2 2l.2 2.1"/><path d="M204.3 82.1l1.7 1.1l5.2 3.4l1.7 1.1l-1.7-1.1l-1.7-1l-5.2-3.1l-1.7-1z" fill="#325cff"/><path d="M245.4 118.9l1.7 2l5.1 6.1l1.7 2l-1.2-7.5l-1.7-1.7l-5.2-5.4l-1.7-1.7z" fill="#3e74f7"/><path d="M209.5 85.4l1.7 1.2l5.2 3.6l1.7 1.3l-1.7-1.6l-1.7-1.1l-5.2-3.2l-1.7-1.1z" fill="#325cff"/><path d="M240.3 113.3l1.7 1.9l5.1 5.7l1.7 2.1l-1.3-6.8l-1.7-1.8l-5.1-5l-1.8-1.6z" fill="#396bfa"/><path d="M214.6 89l1.8 1.2l5.1 4.1l1.7 1.5l-1.6-2.3l-1.7-1.2l-5.2-3.5l-1.7-1.1z" fill="#325cff"/><path d="M235.2 107.7l1.7 1.9l5.1 5.6l1.7 1.8l-1.3-6l-1.7-1.6l-5.2-4.7l-1.7-1.5z" fill="#345ffe"/><path d="M230.1 102.3l1.7 1.8l5.1 5.5l1.7 1.8l-1.4-5.1l-1.7-1.6l-5.2-4.5l-1.7-1.4z" fill="#325cff"/><path d="M219.8 92.9l1.7 1.4l5.2 4.6l5.1 5.2l1.7 1.7l-1.5-4.1l-1.7-1.5l-5.2-4.1l-5.2-3.8l-1.7-1.2z" fill="#325cff"/><path d="M98 63.7l4.9-.7l4.9-.7l5-.7l4.9-.6l5-.6l5-.6l5-.4l5.1-.2l5 .1l5.1 .3l5.1 .7l5.1 1.1l5.2 1.4l5.1 1.7l5.2 2l5.1 2.3l5.2 2.4l5.2 2.7l5.2 2.7l5.1 3l5.2 3l5.2 3.2l5.2 3.3l5.2 3.6l5.2 3.9l1.7 1.4l-1.5-2.7l-1.8-1.1l-5.2-3.3l-5.3-3.2l-5.2-3l-5.2-2.8l-5.2-2.7l-5.3-2.5l-5.2-2.5l-5.2-2.3l-5.2-2.1l-5.2-2l-5.1-1.8l-5.2-1.5l-5.2-1.3l-5.1-1l-5.1-.6l-5.1-.4l-5.1-.1l-5.1 0l-5 .3l-5 .4l-5 .5l-5 .5l-5 .5l-4.9 .5l-4.9 .5z" fill="#325cff"/><path class="f" d="M249.5 119.3l1.7 1.9l1.7 1.7l1.8 1.7l1.7 1.6l1.7 1.6l-1.2-7.6l-1.7-1.3l-1.8-1.4l-1.7-1.5l-1.7-1.5l-1.8-1.5z"/><path class="l" stroke-width="0.65" d="M248.5 114.2l1.7 1.6l1.8 1.5l1.7 1.6l1.7 1.4l1.8 1.3M248.7 115.4l1.8 1.7l1.7 1.6l1.7 1.6l1.8 1.4l1.7 1.4M249 116.7l1.7 1.7l1.7 1.7l1.8 1.6l1.7 1.5l1.7 1.4M249.3 118l1.7 1.8l1.7 1.7l1.7 1.6l1.7 1.6l1.8 1.5M249.5 119.3l1.7 1.9l1.7 1.7l1.8 1.7l1.7 1.6l1.7 1.6M248.2 113l.3 1.2l.2 1.2l.3 1.3l.3 1.3l.2 1.3M250 114.5l.2 1.3l.3 1.3l.2 1.3l.3 1.4l.2 1.4M251.7 116l.3 1.3l.2 1.4l.2 1.4l.3 1.4l.2 1.4M253.4 117.5l.3 1.4l.2 1.4l.3 1.4l.2 1.4l.3 1.5M255.2 118.9l.2 1.4l.3 1.4l.2 1.5l.2 1.5l.3 1.5M256.9 120.2l.3 1.4l.2 1.5l.2 1.5l.3 1.6l.2 1.6"/><path d="M223.7 95.3l1.7 1.3l5.2 4.3l1.7 1.6l-1.5-3.6l-1.7-1.2l-5.3-3.5l-1.7-1.1z" fill="#325cff"/><path class="f" d="M254.7 124.6l1.7 1.6l1.7 1.6l1.7 1.4l1.8 1.4l1.7 1.3l-1.1-8.3l-1.8-1.1l-1.7-1.1l-1.8-1.2l-1.7-1.3l-1.8-1.4z"/><path class="l" stroke-width="0.62" d="M253.7 118.9l1.7 1.4l1.8 1.3l1.7 1.3l1.8 1.2l1.7 1.1M253.9 120.3l1.8 1.4l1.7 1.4l1.7 1.3l1.8 1.3l1.7 1.1M254.2 121.7l1.7 1.5l1.7 1.4l1.8 1.4l1.7 1.3l1.8 1.2M254.4 123.1l1.7 1.6l1.8 1.5l1.7 1.4l1.7 1.3l1.8 1.3M254.7 124.6l1.7 1.6l1.7 1.6l1.7 1.4l1.8 1.4l1.7 1.3M253.4 117.5l.3 1.4l.2 1.4l.3 1.4l.2 1.4l.3 1.5M255.2 118.9l.2 1.4l.3 1.4l.2 1.5l.2 1.5l.3 1.5M256.9 120.2l.3 1.4l.2 1.5l.2 1.5l.3 1.6l.2 1.6M258.7 121.4l.2 1.5l.2 1.5l.3 1.6l.2 1.6l.2 1.6M260.4 122.5l.3 1.6l.2 1.6l.2 1.6l.2 1.6l.3 1.7M262.2 123.6l.2 1.6l.2 1.6l.3 1.7l.2 1.7l.2 1.7"/><path d="M244.4 113.9l1.7 1.7l5.1 5.6l1.7 1.7l-1.2-6.9l-1.7-1.5l-5.3-4.6l-1.7-1.5z" fill="#3d72f8"/><path d="M228.9 99.5l1.7 1.4l5.2 4.7l1.7 1.6l-1.5-4.4l-1.7-1.3l-5.2-3.8l-1.8-1.2z" fill="#325cff"/><path class="f" d="M259.8 129.2l1.8 1.4l1.7 1.3l1.7 1.3l1.7 1.2l1.8 1.3l-1-8.9l-1.8-1l-1.8-1.1l-1.7-1.1l-1.8-1.1l-1.7-1.1z"/><path class="l" stroke-width="0.60" d="M258.9 122.9l1.8 1.2l1.7 1.1l1.8 1.1l1.7 1.1l1.8 1.1M259.1 124.4l1.8 1.3l1.7 1.1l1.8 1.2l1.7 1.1l1.8 1.1M259.4 126l1.7 1.3l1.8 1.2l1.7 1.2l1.7 1.2l1.8 1.1M259.6 127.6l1.7 1.3l1.8 1.3l1.7 1.2l1.7 1.2l1.8 1.2M259.8 129.2l1.8 1.4l1.7 1.3l1.7 1.3l1.7 1.2l1.8 1.3M258.7 121.4l.2 1.5l.2 1.5l.3 1.6l.2 1.6l.2 1.6M260.4 122.5l.3 1.6l.2 1.6l.2 1.6l.2 1.6l.3 1.7M262.2 123.6l.2 1.6l.2 1.6l.3 1.7l.2 1.7l.2 1.7M263.9 124.7l.3 1.6l.2 1.7l.2 1.7l.2 1.7l.2 1.8M265.7 125.8l.2 1.6l.2 1.7l.2 1.8l.2 1.7l.2 1.8M267.5 126.8l.2 1.7l.2 1.7l.2 1.8l.2 1.8l.2 1.9"/><path d="M234 104l1.8 1.6l5.1 4.9l1.8 1.6l-1.4-5.1l-1.8-1.4l-5.2-4.1l-1.7-1.3z" fill="#325cff"/><path d="M239.2 108.8l1.7 1.7l5.2 5.1l1.7 1.9l-1.3-6l-1.8-1.6l-5.2-4.3l-1.7-1.4z" fill="#3663fd"/><path class="f" d="M265 133.2l1.7 1.2l1.8 1.3l1.7 1.3l1.7 1.3l-.9-9.2l-1.8-1.2l-1.7-1.1l-1.8-1l-1.8-1.1z"/><path class="l" stroke-width="0.60" d="M264.2 126.3l1.7 1.1l1.8 1.1l1.7 1.1l1.8 1.2M264.4 128l1.7 1.1l1.8 1.1l1.7 1.2l1.8 1.2M264.6 129.7l1.7 1.2l1.8 1.1l1.7 1.2l1.8 1.2M264.8 131.4l1.7 1.2l1.8 1.2l1.7 1.3l1.8 1.3M265 133.2l1.7 1.2l1.8 1.3l1.7 1.3l1.7 1.3M263.9 124.7l.3 1.6l.2 1.7l.2 1.7l.2 1.7l.2 1.8M265.7 125.8l.2 1.6l.2 1.7l.2 1.8l.2 1.7l.2 1.8M267.5 126.8l.2 1.7l.2 1.7l.2 1.8l.2 1.8l.2 1.9M269.2 127.9l.2 1.7l.2 1.8l.2 1.8l.2 1.9l.2 1.9M271 129.1l.2 1.7l.2 1.8l.2 1.8l.2 2l.1 1.9"/><path d="M96.2 64.2l4.9-.6l5-.5l4.9-.6l5-.5l5-.5l5-.4l5.1-.3l5-.1l5.1 .1l5.1 .4l5.1 .6l5.1 1l5.2 1.3l5.2 1.6l5.1 1.8l5.2 2.1l5.2 2.2l5.2 2.3l5.2 2.6l5.2 2.6l5.2 2.7l5.3 2.9l5.2 3.1l5.2 3.2l5.2 3.4l5.3 3.7l5.2 4l5.2 4.2l1.8 1.4l-1.5-4.6l-1.7-1.2l-5.3-3.5l-5.3-3.2l-5.3-3.1l-5.2-2.9l-5.3-2.9l-5.3-2.7l-5.2-2.5l-5.3-2.4l-5.2-2.2l-5.3-2.2l-5.2-2.1l-5.2-1.9l-5.2-1.7l-5.2-1.6l-5.2-1.4l-5.2-1.1l-5.1-.9l-5.2-.6l-5.1-.4l-5.1-.2l-5.1 0l-5 .1l-5.1 .3l-5 .4l-5 .5l-4.9 .5l-5 .5l-4.9 .5z" fill="#325cff"/><path d="M238.1 105l1.7 1.5l5.2 4.5l1.8 1.6l-1.4-5.5l-1.8-1.3l-5.2-3.7l-1.8-1.2z" fill="#3561fd"/><path d="M243.3 109.4l1.7 1.6l5.2 4.8l1.8 1.5l-1.3-6.4l-1.8-1.2l-5.3-3.9l-1.7-1.2z" fill="#3e73f7"/><path class="f" d="M248.5 114.2l1.7 1.6l1.8 1.5l1.7 1.6l1.7 1.4l1.8 1.3l-1.2-7.1l-1.8-1.2l-1.8-1.1l-1.7-1.3l-1.8-1.2l-1.7-1.3z"/><path class="l" stroke-width="0.65" d="M247.4 109.5l1.8 1.4l1.7 1.3l1.8 1.3l1.7 1.2l1.8 1.2M247.7 110.7l1.7 1.4l1.8 1.3l1.7 1.4l1.8 1.3l1.7 1.2M248 111.8l1.7 1.5l1.7 1.4l1.8 1.4l1.7 1.3l1.8 1.3M248.2 113l1.8 1.5l1.7 1.5l1.7 1.5l1.8 1.4l1.7 1.3M248.5 114.2l1.7 1.6l1.8 1.5l1.7 1.6l1.7 1.4l1.8 1.3M247.2 108.4l.2 1.1l.3 1.2l.3 1.1l.2 1.2l.3 1.2M248.9 109.7l.3 1.2l.2 1.2l.3 1.2l.3 1.2l.2 1.3M250.7 110.9l.2 1.3l.3 1.2l.2 1.3l.3 1.3l.3 1.3M252.4 112.2l.3 1.3l.2 1.3l.3 1.3l.2 1.4l.3 1.4M254.2 113.3l.2 1.4l.3 1.4l.2 1.3l.3 1.5l.2 1.4M256 114.5l.2 1.4l.2 1.4l.3 1.4l.2 1.5l.3 1.4"/><path class="f" d="M253.7 118.9l1.7 1.4l1.8 1.3l1.7 1.3l1.8 1.2l1.7 1.1l1.8 1.1l1.7 1.1l1.8 1.1l-1.1-8l-1.8-1l-1.8-1l-1.7-.9l-1.8-1l-1.8-1.1l-1.7-1l-1.8-1.2l-1.8-1.1z"/><path class="l" stroke-width="0.61" d="M252.7 113.5l1.7 1.2l1.8 1.2l1.8 1.1l1.7 1l1.8 1.1l1.8 1l1.7 .9l1.8 1M252.9 114.8l1.8 1.3l1.7 1.2l1.8 1.1l1.8 1.1l1.7 1.1l1.8 1l1.8 1l1.7 1M253.2 116.1l1.7 1.3l1.8 1.3l1.7 1.2l1.8 1.1l1.8 1.1l1.7 1l1.8 1.1l1.8 1M253.4 117.5l1.8 1.4l1.7 1.3l1.8 1.2l1.7 1.1l1.8 1.1l1.7 1.1l1.8 1.1l1.8 1M253.7 118.9l1.7 1.4l1.8 1.3l1.7 1.3l1.8 1.2l1.7 1.1l1.8 1.1l1.7 1.1l1.8 1.1M252.4 112.2l.3 1.3l.2 1.3l.3 1.3l.2 1.4l.3 1.4M254.2 113.3l.2 1.4l.3 1.4l.2 1.3l.3 1.5l.2 1.4M256 114.5l.2 1.4l.2 1.4l.3 1.4l.2 1.5l.3 1.4M257.7 115.5l.3 1.5l.2 1.4l.2 1.5l.3 1.5l.2 1.5M259.5 116.6l.2 1.4l.3 1.5l.2 1.5l.2 1.5l.3 1.6M261.3 117.6l.2 1.5l.2 1.5l.3 1.5l.2 1.5l.2 1.6M263 118.5l.3 1.6l.2 1.5l.2 1.5l.2 1.6l.3 1.6M264.8 119.5l.2 1.5l.3 1.6l.2 1.6l.2 1.6l.2 1.6M266.6 120.5l.2 1.5l.2 1.6l.3 1.6l.2 1.6l.2 1.7"/><path class="f" d="M264.2 126.3l1.7 1.1l1.8 1.1l1.7 1.1l1.8 1.2l-1-8.3l-1.8-1l-1.8-1l-1.8-1l-1.8-1z"/><path class="l" stroke-width="0.60" d="M263.3 120.1l1.7 .9l1.8 1l1.8 1l1.8 1.1M263.5 121.6l1.8 1l1.7 1l1.8 1l1.8 1.1M263.7 123.1l1.8 1.1l1.8 1l1.7 1.1l1.8 1.1M263.9 124.7l1.8 1.1l1.8 1l1.7 1.1l1.8 1.2M264.2 126.3l1.7 1.1l1.8 1.1l1.7 1.1l1.8 1.2M263 118.5l.3 1.6l.2 1.5l.2 1.5l.2 1.6l.3 1.6M264.8 119.5l.2 1.5l.3 1.6l.2 1.6l.2 1.6l.2 1.6M266.6 120.5l.2 1.5l.2 1.6l.3 1.6l.2 1.6l.2 1.7M268.4 121.5l.2 1.5l.2 1.6l.2 1.7l.2 1.6l.2 1.7M270.2 122.5l.2 1.6l.2 1.6l.2 1.7l.2 1.7l.2 1.7"/><path d="M94.4 65.1l5-.5l4.9-.5l5-.5l5-.5l5-.4l5-.3l5.1-.2l5 0l5.1 .2l5.1 .4l5.2 .6l5.1 .9l5.2 1.2l5.2 1.4l5.2 1.6l5.2 1.8l5.2 2l5.2 2.1l5.2 2.3l5.3 2.3l5.2 2.5l5.3 2.5l5.2 2.8l5.3 3l5.3 3l5.2 3.2l5.3 3.3l5.3 3.6l1.7 1.3l-1.4-4.4l-1.8-1.1l-5.3-2.9l-5.4-2.8l-5.3-2.6l-5.3-2.6l-5.3-2.5l-5.3-2.5l-5.3-2.1l-5.3-2.1l-5.2-1.9l-5.3-1.9l-5.2-1.8l-5.3-1.7l-5.2-1.5l-5.2-1.4l-5.2-1.2l-5.2-1l-5.2-.9l-5.1-.6l-5.2-.4l-5.1-.2l-5.1 0l-5 0l-5.1 .2l-5 .3l-5 .4l-5 .5l-5 .5l-4.9 .5z" fill="#325cff"/><path d="M236.9 101.7l1.8 1.2l5.2 3.9l1.8 1.4l-1.4-5.3l-1.8-1l-5.3-3.2l-1.8-1z" fill="#3868fb"/><path d="M242.2 105.5l1.7 1.3l5.3 4.1l1.7 1.3l-1.3-6.1l-1.8-1.1l-5.3-3.1l-1.8-1.1z" fill="#4078f5"/><path class="f" d="M247.4 109.5l1.8 1.4l1.7 1.3l1.8 1.3l1.7 1.2l1.8 1.2l-1.2-6.8l-1.8-1l-1.8-1l-1.8-1l-1.8-1.1l-1.7-1z"/><path class="l" stroke-width="0.64" d="M246.3 105.1l1.8 1.1l1.8 1.1l1.8 1l1.7 1.1l1.8 1M246.6 106.2l1.8 1.1l1.7 1.2l1.8 1.1l1.8 1.1l1.8 1M246.9 107.3l1.7 1.2l1.8 1.2l1.8 1.2l1.7 1.1l1.8 1.1M247.2 108.4l1.7 1.3l1.8 1.2l1.7 1.3l1.8 1.1l1.8 1.2M247.4 109.5l1.8 1.4l1.7 1.3l1.8 1.3l1.7 1.2l1.8 1.2M246.1 104l.2 1.1l.3 1.1l.3 1.1l.3 1.1l.2 1.1M247.8 105l.3 1.2l.3 1.1l.2 1.2l.3 1.2l.3 1.2M249.6 106.1l.3 1.2l.2 1.2l.3 1.2l.3 1.2l.2 1.3M251.4 107.1l.3 1.2l.2 1.3l.3 1.3l.2 1.3l.3 1.3M253.2 108.1l.2 1.3l.3 1.3l.2 1.3l.3 1.3l.2 1.4M255 109.1l.2 1.3l.3 1.3l.2 1.4l.3 1.4l.2 1.4"/><path class="f" d="M252.7 113.5l1.7 1.2l1.8 1.2l1.8 1.1l1.7 1l1.8 1.1l1.8 1l1.7 .9l1.8 1l-1.1-7.5l-1.8-.9l-1.8-.9l-1.8-.9l-1.8-.9l-1.7-.9l-1.8-.9l-1.8-1l-1.8-1z"/><path class="l" stroke-width="0.61" d="M251.7 108.3l1.7 1.1l1.8 1l1.8 1l1.8 .9l1.8 .9l1.8 .9l1.7 1l1.8 .9M251.9 109.6l1.8 1.1l1.8 1l1.7 1l1.8 1l1.8 1l1.8 .9l1.8 .9l1.8 1M252.2 110.9l1.7 1.1l1.8 1.1l1.8 1l1.8 1l1.7 1l1.8 1l1.8 .9l1.8 1M252.4 112.2l1.8 1.1l1.8 1.2l1.7 1l1.8 1.1l1.8 1l1.7 .9l1.8 1l1.8 1M252.7 113.5l1.7 1.2l1.8 1.2l1.8 1.1l1.7 1l1.8 1.1l1.8 1l1.7 .9l1.8 1M251.4 107.1l.3 1.2l.2 1.3l.3 1.3l.2 1.3l.3 1.3M253.2 108.1l.2 1.3l.3 1.3l.2 1.3l.3 1.3l.2 1.4M255 109.1l.2 1.3l.3 1.3l.2 1.4l.3 1.4l.2 1.4M256.8 110l.2 1.4l.2 1.3l.3 1.4l.2 1.4l.3 1.5M258.5 110.9l.3 1.4l.2 1.4l.3 1.4l.2 1.5l.2 1.4M260.3 111.8l.3 1.4l.2 1.5l.2 1.4l.3 1.5l.2 1.5M262.1 112.7l.3 1.4l.2 1.5l.2 1.5l.2 1.4l.3 1.6M263.9 113.6l.2 1.5l.3 1.4l.2 1.5l.2 1.5l.2 1.5M265.7 114.5l.2 1.5l.3 1.5l.2 1.5l.2 1.5l.2 1.5"/><path class="f" d="M263.3 120.1l1.7 .9l1.8 1l1.8 1l1.8 1.1l-1.1-7.8l-1.8-.9l-1.8-.9l-1.8-.9l-1.8-.9z"/><path class="l" stroke-width="0.60" d="M262.4 114.1l1.7 1l1.8 .9l1.8 .9l1.8 .9M262.6 115.6l1.8 .9l1.8 1l1.7 .9l1.8 1M262.8 117.1l1.8 .9l1.8 1l1.8 .9l1.7 1M263 118.5l1.8 1l1.8 1l1.8 1l1.8 1M263.3 120.1l1.7 .9l1.8 1l1.8 1l1.8 1.1M262.1 112.7l.3 1.4l.2 1.5l.2 1.5l.2 1.4l.3 1.6M263.9 113.6l.2 1.5l.3 1.4l.2 1.5l.2 1.5l.2 1.5M265.7 114.5l.2 1.5l.3 1.5l.2 1.5l.2 1.5l.2 1.5M267.5 115.4l.2 1.5l.2 1.5l.3 1.5l.2 1.6l.2 1.5M269.3 116.3l.2 1.5l.2 1.6l.2 1.5l.3 1.6l.2 1.6"/><path d="M92.6 66.3l5-.5l4.9-.6l5-.5l5-.4l5-.3l5.1-.2l5.1-.1l5.1 0l5.1 .2l5.1 .4l5.1 .7l5.2 .8l5.2 1l5.2 1.3l5.2 1.4l5.2 1.6l5.3 1.8l5.2 1.8l5.3 2l5.2 2l5.3 2.1l5.3 2.3l5.3 2.5l5.3 2.6l5.3 2.7l5.3 2.7l5.3 2.9l1.7 1l-1.5-3.7l-1.8-.8l-5.3-2.4l-5.4-2.2l-5.3-2.2l-5.4-2.1l-5.3-2.2l-5.3-1.9l-5.3-1.7l-5.3-1.6l-5.3-1.6l-5.3-1.5l-5.2-1.5l-5.3-1.3l-5.2-1.2l-5.2-1.1l-5.2-.9l-5.2-.7l-5.2-.6l-5.1-.4l-5.2-.2l-5.1-.1l-5.1 0l-5 .1l-5.1 .2l-5 .4l-5 .3l-5 .4l-5 .4z" fill="#325cff"/><path d="M230.4 95.5l1.8 1l5.3 3.1l1.8 1.1l-1.5-4.4l-1.8-.9l-5.4-2.4l-1.8-.8z" fill="#335efe"/><path d="M235.7 98.5l1.8 1.1l5.3 3.2l1.8 1.2l-1.4-5.1l-1.8-.9l-5.4-2.6l-1.8-.8z" fill="#3a6df9"/><path class="f" d="M241 101.7l1.8 1.1l1.8 1.2l1.7 1.1l1.8 1.1l1.8 1.1l-1.4-5.8l-1.8-.9l-1.7-.9l-1.8-.8l-1.8-.9l-1.8-.9z"/><path class="l" stroke-width="0.68" d="M239.9 98l1.8 1l1.7 .9l1.8 .9l1.8 .9l1.8 .9M240.2 99l1.7 .9l1.8 1l1.8 .9l1.8 1l1.8 .9M240.4 99.9l1.8 1l1.8 1l1.8 1l1.8 1l1.8 1M240.7 100.8l1.8 1.1l1.8 1l1.8 1.1l1.7 1l1.8 1.1M241 101.7l1.8 1.1l1.8 1.2l1.7 1.1l1.8 1.1l1.8 1.1M239.6 97.1l.3 .9l.3 1l.2 .9l.3 .9l.3 .9M241.4 98l.3 1l.2 .9l.3 1l.3 1l.3 .9M243.2 98.9l.2 1l.3 1l.3 1l.3 1l.3 1.1M245 99.7l.2 1.1l.3 1l.3 1.1l.3 1.1l.2 1.1M246.7 100.6l.3 1.1l.3 1.1l.3 1.1l.2 1.1l.3 1.2M248.5 101.5l.3 1.1l.3 1.1l.3 1.2l.2 1.2l.3 1.2"/><path class="f" d="M246.3 105.1l1.8 1.1l1.8 1.1l1.8 1l1.7 1.1l1.8 1l-1.3-6.5l-1.8-.8l-1.8-.8l-1.8-.8l-1.8-.9l-1.7-.9z"/><path class="l" stroke-width="0.64" d="M245.2 100.8l1.8 .9l1.8 .9l1.8 .9l1.8 .8l1.8 .9M245.5 101.8l1.8 1l1.8 .9l1.8 1l1.8 .9l1.8 .9M245.8 102.9l1.8 1l1.8 1l1.7 1l1.8 .9l1.8 1M246.1 104l1.7 1l1.8 1.1l1.8 1l1.8 1l1.8 1M246.3 105.1l1.8 1.1l1.8 1.1l1.8 1l1.7 1.1l1.8 1M245 99.7l.2 1.1l.3 1l.3 1.1l.3 1.1l.2 1.1M246.7 100.6l.3 1.1l.3 1.1l.3 1.1l.2 1.1l.3 1.2M248.5 101.5l.3 1.1l.3 1.1l.3 1.2l.2 1.2l.3 1.2M250.3 102.3l.3 1.2l.3 1.2l.2 1.2l.3 1.2l.3 1.2M252.1 103.1l.3 1.2l.3 1.3l.2 1.2l.3 1.3l.2 1.3M253.9 103.9l.3 1.3l.3 1.3l.2 1.3l.3 1.3l.2 1.3"/><path class="f" d="M251.7 108.3l1.7 1.1l1.8 1l1.8 1l1.8 .9l1.8 .9l1.8 .9l1.7 1l1.8 .9l-1.1-7.4l-1.8-.7l-1.8-.8l-1.8-.8l-1.9-.8l-1.8-.8l-1.8-.8l-1.8-.8l-1.8-.8z"/><path class="l" stroke-width="0.62" d="M250.6 103.5l1.8 .8l1.8 .9l1.8 .8l1.8 .9l1.8 .8l1.8 .8l1.8 .8l1.8 .8M250.9 104.7l1.8 .9l1.8 .9l1.8 .8l1.7 .9l1.8 .8l1.8 .9l1.8 .8l1.8 .8M251.1 105.9l1.8 .9l1.8 1l1.8 .9l1.8 .8l1.8 .9l1.8 .9l1.8 .8l1.8 .9M251.4 107.1l1.8 1l1.8 1l1.8 .9l1.7 .9l1.8 .9l1.8 .9l1.8 .9l1.8 .9M251.7 108.3l1.7 1.1l1.8 1l1.8 1l1.8 .9l1.8 .9l1.8 .9l1.7 1l1.8 .9M250.3 102.3l.3 1.2l.3 1.2l.2 1.2l.3 1.2l.3 1.2M252.1 103.1l.3 1.2l.3 1.3l.2 1.2l.3 1.3l.2 1.3M253.9 103.9l.3 1.3l.3 1.3l.2 1.3l.3 1.3l.2 1.3M255.7 104.7l.3 1.3l.3 1.3l.2 1.4l.3 1.3l.2 1.4M257.5 105.5l.3 1.4l.2 1.3l.3 1.3l.2 1.4l.3 1.4M259.4 106.3l.2 1.4l.2 1.3l.3 1.4l.2 1.4l.3 1.4M261.2 107.1l.2 1.4l.2 1.4l.3 1.4l.2 1.4l.3 1.4M263 107.9l.2 1.4l.2 1.4l.3 1.4l.2 1.5l.2 1.5M264.8 108.6l.2 1.5l.2 1.4l.3 1.5l.2 1.5l.2 1.5"/><path class="f" d="M262.4 114.1l1.7 1l1.8 .9l1.8 .9l1.8 .9l-1.1-7.6l-1.8-.8l-1.8-.8l-1.8-.7l-1.8-.8z"/><path class="l" stroke-width="0.60" d="M261.4 108.5l1.8 .8l1.8 .8l1.8 .8l1.8 .8M261.6 109.9l1.8 .8l1.8 .8l1.8 .9l1.8 .8M261.9 111.3l1.8 .8l1.8 .9l1.8 .9l1.8 .8M262.1 112.7l1.8 .9l1.8 .9l1.8 .9l1.8 .9M262.4 114.1l1.7 1l1.8 .9l1.8 .9l1.8 .9M261.2 107.1l.2 1.4l.2 1.4l.3 1.4l.2 1.4l.3 1.4M263 107.9l.2 1.4l.2 1.4l.3 1.4l.2 1.5l.2 1.5M264.8 108.6l.2 1.5l.2 1.4l.3 1.5l.2 1.5l.2 1.5M266.6 109.4l.2 1.5l.2 1.5l.3 1.5l.2 1.5l.2 1.5M268.4 110.2l.2 1.5l.2 1.5l.3 1.5l.2 1.6l.2 1.5"/><path d="M90.8 67.1l4.9-.3l5-.4l5-.5l5-.3l5.1-.3l5.1-.1l5 0l5.2 .1l5.1 .2l5.1 .4l5.2 .6l5.2 .8l5.2 .9l5.2 1.1l5.2 1.2l5.3 1.4l5.2 1.5l5.3 1.6l5.3 1.7l5.2 1.7l5.3 1.8l5.4 1.9l5.3 2.3l5.3 2.2l5.3 2.3l5.4 2.3l5.3 2.5l1.8 .8l-1.5-3.6l-1.8-.6l-5.4-2l-5.4-1.8l-5.4-1.8l-5.4-1.8l-5.3-1.8l-5.4-1.5l-5.3-1.4l-5.3-1.4l-5.3-1.3l-5.3-1.3l-5.3-1.2l-5.3-1.2l-5.2-1l-5.3-.9l-5.2-.8l-5.2-.7l-5.2-.5l-5.1-.4l-5.2-.2l-5.1-.2l-5.1-.1l-5.1 .1l-5.1 .1l-5 .3l-5.1 .2l-5 .3l-4.9 .1z" fill="#325cff"/><path d="M229.2 92.9l1.7 .8l5.4 2.6l1.8 .8l-1.5-4.1l-1.8-.7l-5.4-2l-1.8-.7z" fill="#3460fe"/><path d="M234.5 95.4l1.8 .9l5.4 2.7l1.7 .9l-1.4-4.8l-1.8-.7l-5.4-2.1l-1.8-.7z" fill="#3b6ff9"/><path class="f" d="M239.9 98l1.8 1l1.7 .9l1.8 .9l1.8 .9l1.8 .9l-1.4-5.4l-1.8-.7l-1.8-.7l-1.8-.7l-1.8-.7l-1.8-.7z"/><path class="l" stroke-width="0.68" d="M238.7 94.5l1.8 .8l1.8 .7l1.8 .7l1.8 .8l1.8 .7M239 95.4l1.8 .8l1.8 .7l1.8 .8l1.8 .8l1.8 .8M239.3 96.3l1.8 .8l1.8 .8l1.8 .8l1.8 .8l1.8 .9M239.6 97.1l1.8 .9l1.8 .9l1.8 .8l1.7 .9l1.8 .9M239.9 98l1.8 1l1.7 .9l1.8 .9l1.8 .9l1.8 .9M238.4 93.7l.3 .8l.3 .9l.3 .9l.3 .8l.3 .9M240.2 94.4l.3 .9l.3 .9l.3 .9l.3 .9l.3 1M242 95.1l.3 .9l.3 .9l.3 1l.3 1l.2 1M243.8 95.8l.3 .9l.3 1l.3 1l.3 1l.2 1.1M245.6 96.5l.3 1l.3 1l.3 1l.2 1.1l.3 1.1M247.4 97.2l.3 1l.3 1.1l.3 1.1l.2 1.1l.3 1.1"/><path class="f" d="M245.2 100.8l1.8 .9l1.8 .9l1.8 .9l1.8 .8l1.8 .9l-1.3-6l-1.8-.7l-1.8-.7l-1.9-.6l-1.8-.7l-1.8-.7z"/><path class="l" stroke-width="0.64" d="M244.1 96.7l1.8 .8l1.8 .7l1.8 .7l1.8 .7l1.9 .7M244.4 97.7l1.8 .8l1.8 .8l1.8 .7l1.8 .8l1.8 .7M244.7 98.7l1.8 .8l1.8 .9l1.8 .8l1.8 .7l1.8 .8M245 99.7l1.7 .9l1.8 .9l1.8 .8l1.8 .8l1.8 .8M245.2 100.8l1.8 .9l1.8 .9l1.8 .9l1.8 .8l1.8 .9M243.8 95.8l.3 .9l.3 1l.3 1l.3 1l.2 1.1M245.6 96.5l.3 1l.3 1l.3 1l.2 1.1l.3 1.1M247.4 97.2l.3 1l.3 1.1l.3 1.1l.2 1.1l.3 1.1M249.3 97.8l.2 1.1l.3 1.1l.3 1.2l.2 1.1l.3 1.2M251.1 98.5l.2 1.1l.3 1.2l.3 1.1l.2 1.2l.3 1.2M252.9 99.2l.3 1.1l.2 1.2l.3 1.2l.2 1.2l.3 1.3"/><path class="f" d="M250.6 103.5l1.8 .8l1.8 .9l1.8 .8l1.8 .9l1.8 .8l1.8 .8l1.8 .8l1.8 .8l-1.2-7.2l-1.8-.6l-1.8-.6l-1.8-.6l-1.9-.6l-1.8-.7l-1.8-.6l-1.8-.7l-1.8-.7z"/><path class="l" stroke-width="0.62" d="M249.5 98.9l1.8 .7l1.9 .7l1.8 .7l1.8 .7l1.8 .7l1.8 .6l1.9 .7l1.8 .6M249.8 100l1.8 .8l1.8 .7l1.8 .7l1.8 .7l1.9 .8l1.8 .7l1.8 .6l1.8 .7M250.1 101.2l1.8 .7l1.8 .8l1.8 .8l1.8 .7l1.8 .8l1.8 .7l1.8 .7l1.8 .8M250.3 102.3l1.8 .8l1.8 .8l1.8 .8l1.8 .8l1.9 .8l1.8 .8l1.8 .8l1.8 .7M250.6 103.5l1.8 .8l1.8 .9l1.8 .8l1.8 .9l1.8 .8l1.8 .8l1.8 .8l1.8 .8M249.3 97.8l.2 1.1l.3 1.1l.3 1.2l.2 1.1l.3 1.2M251.1 98.5l.2 1.1l.3 1.2l.3 1.1l.2 1.2l.3 1.2M252.9 99.2l.3 1.1l.2 1.2l.3 1.2l.2 1.2l.3 1.3M254.7 99.8l.3 1.2l.2 1.2l.3 1.3l.2 1.2l.3 1.3M256.5 100.5l.3 1.2l.2 1.2l.3 1.3l.2 1.3l.3 1.4M258.4 101.1l.2 1.3l.3 1.3l.2 1.3l.3 1.3l.2 1.4M260.2 101.7l.2 1.3l.3 1.4l.2 1.3l.3 1.4l.2 1.4M262 102.3l.3 1.4l.2 1.3l.2 1.4l.3 1.5l.2 1.4M263.8 102.9l.3 1.4l.2 1.4l.2 1.5l.3 1.4l.2 1.5"/><path class="f" d="M261.4 108.5l1.8 .8l1.8 .8l1.8 .8l1.8 .8l-1.1-7.6l-1.8-.6l-1.9-.6l-1.8-.6l-1.8-.6z"/><path class="l" stroke-width="0.60" d="M260.4 103l1.9 .7l1.8 .6l1.8 .7l1.8 .6M260.7 104.4l1.8 .6l1.8 .7l1.8 .7l1.9 .7M260.9 105.7l1.8 .7l1.8 .8l1.9 .7l1.8 .7M261.2 107.1l1.8 .8l1.8 .7l1.8 .8l1.8 .8M261.4 108.5l1.8 .8l1.8 .8l1.8 .8l1.8 .8M260.2 101.7l.2 1.3l.3 1.4l.2 1.3l.3 1.4l.2 1.4M262 102.3l.3 1.4l.2 1.3l.2 1.4l.3 1.5l.2 1.4M263.8 102.9l.3 1.4l.2 1.4l.2 1.5l.3 1.4l.2 1.5M265.7 103.5l.2 1.5l.2 1.4l.3 1.5l.2 1.5l.2 1.5M267.5 104.1l.2 1.5l.3 1.5l.2 1.5l.2 1.6l.2 1.5"/><path d="M88.9 67.9l5-.1l5-.3l5-.3l5.1-.3l5-.2l5.1 0l5.1 0l5.1 .2l5.2 .2l5.1 .4l5.2 .6l5.2 .6l5.2 .8l5.3 1l5.2 1.1l5.3 1.2l5.3 1.2l5.2 1.4l5.3 1.4l5.4 1.4l5.3 1.5l5.3 1.6l5.4 1.9l5.3 1.9l5.4 1.8l5.4 2l5.4 2l1.8 .7l-1.6-3.3l-1.8-.5l-5.5-1.6l-5.4-1.4l-5.4-1.5l-5.4-1.4l-5.4-1.4l-5.4-1.2l-5.3-1.2l-5.4-1.1l-5.3-1.1l-5.3-1l-5.3-1l-5.3-1l-5.3-.9l-5.2-.8l-5.2-.6l-5.3-.6l-5.2-.5l-5.2-.3l-5.1-.3l-5.2-.2l-5.1-.2l-5.1 0l-5.1 .1l-5 .1l-5.1 .1l-5 .1l-5 .1z" fill="#325cff"/><path d="M227.9 90.2l1.8 .7l5.4 2.2l1.8 .7l-1.5-3.8l-1.9-.6l-5.4-1.6l-1.8-.5z" fill="#335dff"/><path d="M233.3 92.3l1.8 .8l5.4 2.2l1.8 .7l-1.5-4.4l-1.8-.5l-5.5-1.7l-1.8-.5z" fill="#396bfa"/><path d="M238.7 94.5l1.8 .8l5.4 2.2l1.8 .7l-1.4-4.9l-1.8-.6l-5.5-1.6l-1.8-.6z" fill="#4078f5"/><path class="f" d="M244.1 96.7l1.8 .8l1.8 .7l1.8 .7l1.8 .7l1.9 .7l1.8 .7l1.8 .7l1.8 .7l-1.3-6.1l-1.8-.4l-1.9-.5l-1.8-.6l-1.8-.5l-1.9-.5l-1.8-.5l-1.8-.6l-1.8-.5z"/><path class="l" stroke-width="0.64" d="M242.9 93l1.9 .6l1.8 .6l1.8 .6l1.9 .5l1.8 .6l1.8 .5l1.8 .6l1.9 .5M243.2 93.9l1.9 .6l1.8 .7l1.8 .6l1.8 .6l1.9 .5l1.8 .6l1.8 .6l1.8 .5M243.5 94.8l1.8 .7l1.9 .6l1.8 .7l1.8 .6l1.8 .6l1.8 .7l1.9 .6l1.8 .5M243.8 95.8l1.8 .7l1.8 .7l1.9 .6l1.8 .7l1.8 .7l1.8 .6l1.8 .7l1.9 .6M244.1 96.7l1.8 .8l1.8 .7l1.8 .7l1.8 .7l1.9 .7l1.8 .7l1.8 .7l1.8 .7M242.7 92.2l.2 .8l.3 .9l.3 .9l.3 1l.3 .9M244.5 92.7l.3 .9l.3 .9l.2 1l.3 1l.3 1M246.3 93.3l.3 .9l.3 1l.3 .9l.2 1.1l.3 1M248.1 93.8l.3 1l.3 1l.3 1l.3 1l.2 1.1M250 94.3l.3 1l.2 1.1l.3 1l.3 1.1l.2 1.1M251.8 94.8l.3 1.1l.3 1l.2 1.1l.3 1.2l.3 1.1M253.6 95.4l.3 1l.3 1.1l.2 1.2l.3 1.1l.3 1.2M255.5 95.9l.2 1.1l.3 1.1l.3 1.2l.2 1.2l.3 1.2M257.3 96.3l.3 1.2l.2 1.1l.3 1.2l.3 1.3l.2 1.3"/><path class="f" d="M255 101l1.8 .7l1.8 .7l1.8 .6l1.9 .7l1.8 .6l-1.2-6.6l-1.9-.4l-1.8-.5l-1.9-.5l-1.8-.4l-1.9-.5z"/><path class="l" stroke-width="0.62" d="M253.9 96.4l1.8 .6l1.9 .5l1.8 .5l1.9 .5l1.8 .4M254.2 97.5l1.8 .6l1.8 .5l1.9 .6l1.8 .5l1.9 .5M254.4 98.7l1.9 .6l1.8 .5l1.8 .6l1.9 .6l1.8 .6M254.7 99.8l1.8 .7l1.9 .6l1.8 .6l1.8 .6l1.8 .6M255 101l1.8 .7l1.8 .7l1.8 .6l1.9 .7l1.8 .6M253.6 95.4l.3 1l.3 1.1l.2 1.2l.3 1.1l.3 1.2M255.5 95.9l.2 1.1l.3 1.1l.3 1.2l.2 1.2l.3 1.2M257.3 96.3l.3 1.2l.2 1.1l.3 1.2l.3 1.3l.2 1.3M259.2 96.8l.2 1.2l.3 1.2l.2 1.2l.3 1.3l.2 1.3M261 97.3l.3 1.2l.2 1.2l.3 1.3l.2 1.3l.3 1.4M262.9 97.7l.2 1.2l.3 1.3l.2 1.4l.2 1.3l.3 1.4"/><path class="f" d="M260.4 103l1.9 .7l1.8 .6l1.8 .7l1.8 .6l-1.1-7l-1.9-.5l-1.8-.4l-1.9-.4l-1.8-.5z"/><path class="l" stroke-width="0.61" d="M259.4 98l1.9 .5l1.8 .4l1.9 .5l1.8 .5M259.7 99.2l1.8 .5l1.9 .5l1.8 .5l1.8 .6M259.9 100.4l1.9 .6l1.8 .6l1.8 .5l1.9 .6M260.2 101.7l1.8 .6l1.8 .6l1.9 .6l1.8 .6M260.4 103l1.9 .7l1.8 .6l1.8 .7l1.8 .6M259.2 96.8l.2 1.2l.3 1.2l.2 1.2l.3 1.3l.2 1.3M261 97.3l.3 1.2l.2 1.2l.3 1.3l.2 1.3l.3 1.4M262.9 97.7l.2 1.2l.3 1.3l.2 1.4l.2 1.3l.3 1.4M264.7 98.1l.3 1.3l.2 1.3l.2 1.4l.3 1.4l.2 1.5M266.6 98.6l.2 1.3l.2 1.4l.3 1.4l.2 1.4l.2 1.5"/><path d="M87.1 68.8l5-.1l5-.2l5-.1l5.1-.2l5.1-.1l5.1 0l5.1 .2l5.1 .2l5.2 .3l5.2 .3l5.2 .5l5.2 .6l5.2 .7l5.2 .8l5.3 .9l5.3 1l5.3 1.1l5.3 1.1l5.3 1.1l5.4 1.2l5.3 1.2l5.4 1.4l5.4 1.4l5.4 1.6l5.4 1.5l5.4 1.5l5.4 1.7l5.5 1.7l1.8 .6l-1.6-3.4l-1.8-.4l-5.5-1.3l-5.5-1.2l-5.5-1.1l-5.4-1.1l-5.4-1.1l-5.4-1l-5.4-1l-5.4-.9l-5.4-.9l-5.4-.8l-5.3-.9l-5.3-.8l-5.3-.8l-5.3-.7l-5.3-.7l-5.2-.5l-5.3-.5l-5.2-.4l-5.2-.4l-5.2-.3l-5.1-.2l-5.2-.2l-5.1-.1l-5.1-.1l-5.1 0l-5 0l-5.1 0l-5-.1z" fill="#325cff"/><path d="M232 89.5l1.9 .6l5.4 1.8l1.8 .5l-1.5-3.8l-1.8-.4l-5.5-1.3l-1.9-.4z" fill="#3561fd"/><path d="M237.5 91.3l1.8 .6l5.5 1.7l1.8 .6l-1.5-4.3l-1.8-.4l-5.5-1.3l-1.9-.4z" fill="#3c70f8"/><path class="f" d="M242.9 93l1.9 .6l1.8 .6l1.8 .6l1.9 .5l1.8 .6l-1.4-4.8l-1.9-.4l-1.8-.4l-1.9-.4l-1.8-.4l-1.8-.5z"/><path class="l" stroke-width="0.68" d="M241.8 89.8l1.8 .4l1.8 .5l1.9 .4l1.8 .5l1.9 .4M242.1 90.6l1.8 .4l1.8 .5l1.9 .5l1.8 .4l1.9 .5M242.4 91.4l1.8 .5l1.8 .5l1.9 .5l1.8 .5l1.8 .4M242.7 92.2l1.8 .5l1.8 .6l1.8 .5l1.9 .5l1.8 .5M242.9 93l1.9 .6l1.8 .6l1.8 .6l1.9 .5l1.8 .6M241.5 89l.3 .8l.3 .8l.3 .8l.3 .8l.2 .8M243.3 89.5l.3 .7l.3 .8l.3 .9l.3 .8l.3 .9M245.1 89.9l.3 .8l.3 .8l.3 .9l.3 .9l.3 .9M247 90.3l.3 .8l.3 .9l.3 .9l.2 .9l.3 1M248.8 90.7l.3 .9l.3 .8l.3 1l.3 .9l.3 1M250.7 91.1l.3 .9l.3 .9l.2 .9l.3 1l.3 1.1"/><path class="f" d="M248.4 94.8l1.9 .5l1.8 .6l1.8 .5l1.8 .6l1.9 .5l1.8 .5l1.9 .5l1.8 .4l-1.3-5.6l-1.8-.4l-1.9-.3l-1.9-.4l-1.8-.3l-1.9-.4l-1.8-.4l-1.9-.4l-1.8-.4z"/><path class="l" stroke-width="0.64" d="M247.3 91.1l1.8 .5l1.9 .4l1.8 .4l1.9 .4l1.8 .4l1.9 .4l1.8 .3l1.9 .4M247.6 92l1.8 .4l1.9 .5l1.8 .4l1.8 .5l1.9 .4l1.8 .4l1.9 .4l1.9 .4M247.9 92.9l1.8 .5l1.8 .4l1.9 .5l1.8 .5l1.9 .4l1.8 .5l1.9 .4l1.8 .4M248.1 93.8l1.9 .5l1.8 .5l1.8 .6l1.9 .5l1.8 .4l1.9 .5l1.8 .5l1.9 .4M248.4 94.8l1.9 .5l1.8 .6l1.8 .5l1.8 .6l1.9 .5l1.8 .5l1.9 .5l1.8 .4M247 90.3l.3 .8l.3 .9l.3 .9l.2 .9l.3 1M248.8 90.7l.3 .9l.3 .8l.3 1l.3 .9l.3 1M250.7 91.1l.3 .9l.3 .9l.2 .9l.3 1l.3 1.1M252.5 91.5l.3 .9l.3 .9l.3 1l.2 1.1l.3 1M254.4 91.9l.3 .9l.2 1l.3 1l.3 1.1l.2 1.1M256.2 92.2l.3 1l.3 1l.3 1l.2 1.1l.3 1.2M258.1 92.6l.3 1l.2 1l.3 1.1l.3 1.1l.2 1.2M260 92.9l.2 1l.3 1.1l.3 1.1l.2 1.2l.3 1.2M261.8 93.3l.3 1l.3 1.1l.2 1.1l.3 1.2l.2 1.2"/><path class="f" d="M259.4 98l1.9 .5l1.8 .4l1.9 .5l1.8 .5l-1.2-6l-1.9-.3l-1.9-.3l-1.8-.4l-1.9-.3z"/><path class="l" stroke-width="0.62" d="M258.4 93.6l1.8 .3l1.9 .4l1.9 .3l1.8 .4M258.6 94.6l1.9 .4l1.9 .4l1.8 .3l1.9 .5M258.9 95.7l1.9 .4l1.8 .4l1.9 .4l1.8 .4M259.2 96.8l1.8 .5l1.9 .4l1.8 .4l1.9 .5M259.4 98l1.9 .5l1.8 .4l1.9 .5l1.8 .5M258.1 92.6l.3 1l.2 1l.3 1.1l.3 1.1l.2 1.2M260 92.9l.2 1l.3 1.1l.3 1.1l.2 1.2l.3 1.2M261.8 93.3l.3 1l.3 1.1l.2 1.1l.3 1.2l.2 1.2M263.7 93.6l.3 1l.2 1.1l.3 1.2l.2 1.2l.3 1.3M265.6 93.9l.2 1.1l.3 1.2l.2 1.1l.3 1.3l.2 1.3"/><path d="M85.2 69.6l5 .1l5-.1l5.1 0l5.1 0l5.1 0l5.1 .1l5.1 .2l5.2 .2l5.2 .3l5.2 .4l5.2 .4l5.2 .5l5.2 .6l5.3 .7l5.3 .7l5.3 .9l5.3 .8l5.3 .9l5.4 .9l5.3 1l5.4 .9l5.4 1.1l5.4 1.1l5.5 1.1l5.4 1.2l5.4 1.3l5.5 1.3l5.5 1.3l5.5 1.4l1.8 .4l-1.5-3.3l-1.9-.3l-5.5-1l-5.5-.9l-5.5-1l-5.5-.8l-5.5-.8l-5.5-.7l-5.4-.7l-5.5-.7l-5.4-.7l-5.4-.7l-5.3-.6l-5.4-.7l-5.3-.6l-5.3-.6l-5.4-.6l-5.2-.5l-5.3-.5l-5.3-.4l-5.2-.4l-5.2-.3l-5.2-.3l-5.2-.3l-5.1-.2l-5.2-.2l-5.1-.1l-5.1-.2l-5.1-.1l-5.1-.1l-5-.2z" fill="#325cff"/><path d="M236.3 88.4l1.8 .5l5.5 1.3l1.8 .5l-1.5-3.7l-1.8-.4l-5.6-.9l-1.8-.3z" fill="#3765fc"/><path d="M241.8 89.8l1.8 .4l5.5 1.4l1.9 .4l-1.5-4.1l-1.8-.3l-5.6-1l-1.9-.3z" fill="#3d71f8"/><path class="f" d="M247.3 91.1l1.8 .5l1.9 .4l1.8 .4l1.9 .4l1.8 .4l-1.4-4.5l-1.8-.3l-1.9-.2l-1.9-.3l-1.8-.3l-1.9-.3z"/><path class="l" stroke-width="0.69" d="M246.1 88l1.9 .3l1.8 .3l1.9 .3l1.8 .3l1.9 .3M246.4 88.7l1.9 .4l1.8 .3l1.9 .4l1.8 .3l1.9 .3M246.7 89.5l1.8 .4l1.9 .3l1.9 .4l1.8 .4l1.9 .3M247 90.3l1.8 .4l1.9 .4l1.8 .4l1.9 .4l1.8 .3M247.3 91.1l1.8 .5l1.9 .4l1.8 .4l1.9 .4l1.8 .4M245.8 87.3l.3 .7l.3 .7l.3 .8l.3 .8l.3 .8M247.7 87.6l.3 .7l.3 .8l.2 .8l.3 .8l.3 .9M249.5 87.9l.3 .7l.3 .8l.3 .8l.3 .9l.3 .9M251.4 88.2l.3 .7l.3 .9l.3 .8l.2 .9l.3 .9M253.3 88.4l.2 .8l.3 .9l.3 .9l.3 .9l.3 .9M255.1 88.7l.3 .8l.3 .9l.3 .9l.2 .9l.3 1"/><path class="f" d="M252.8 92.4l1.9 .4l1.8 .4l1.9 .4l1.8 .3l1.9 .4l1.9 .3l1.8 .4l-1.3-5l-1.9-.3l-1.8-.2l-1.9-.3l-1.9-.2l-1.9-.3l-1.8-.3l-1.9-.2z"/><path class="l" stroke-width="0.65" d="M251.7 88.9l1.8 .3l1.9 .3l1.9 .3l1.9 .3l1.8 .3l1.9 .3l1.9 .2M252 89.8l1.8 .3l1.9 .3l1.9 .3l1.8 .3l1.9 .3l1.9 .3l1.8 .3M252.3 90.6l1.8 .4l1.9 .3l1.8 .3l1.9 .3l1.9 .4l1.8 .3l1.9 .3M252.5 91.5l1.9 .4l1.8 .3l1.9 .4l1.9 .3l1.8 .4l1.9 .3l1.9 .3M252.8 92.4l1.9 .4l1.8 .4l1.9 .4l1.8 .3l1.9 .4l1.9 .3l1.8 .4M251.4 88.2l.3 .7l.3 .9l.3 .8l.2 .9l.3 .9M253.3 88.4l.2 .8l.3 .9l.3 .9l.3 .9l.3 .9M255.1 88.7l.3 .8l.3 .9l.3 .9l.2 .9l.3 1M257 89l.3 .8l.3 .9l.2 .9l.3 1l.3 1M258.9 89.2l.3 .9l.2 .9l.3 .9l.3 1l.2 1M260.8 89.5l.2 .9l.3 .9l.3 1l.2 1l.3 1M262.6 89.7l.3 1l.3 .9l.2 1l.3 1l.3 1M264.5 90l.3 .9l.2 1l.3 1l.3 1l.2 1.1"/><path d="M83.3 70.6l5 .1l5.1 .1l5.1 .1l5.1 .1l5.1 .1l5.1 .2l5.2 .2l5.1 .2l5.2 .3l5.2 .4l5.3 .4l5.2 .4l5.3 .5l5.3 .6l5.3 .6l5.3 .7l5.3 .6l5.4 .7l5.3 .7l5.4 .7l5.4 .8l5.4 .8l5.5 .7l5.4 .8l5.5 .9l5.5 .9l5.5 1l5.5 1l5.5 1.1l1.9 .3l-1.6-2.9l-1.8-.2l-5.6-.7l-5.6-.6l-5.5-.7l-5.6-.6l-5.5-.5l-5.5-.4l-5.4-.4l-5.5-.5l-5.4-.4l-5.4-.5l-5.4-.4l-5.4-.5l-5.4-.4l-5.3-.5l-5.3-.4l-5.3-.5l-5.3-.4l-5.3-.3l-5.2-.4l-5.3-.3l-5.2-.3l-5.2-.2l-5.1-.3l-5.2-.2l-5.1-.3l-5.2-.2l-5.1-.2l-5-.3l-5.1-.2z" fill="#325cff"/><path d="M235 85.9l1.8 .4l5.6 1l1.8 .3l-1.5-3.2l-1.8-.2l-5.6-.7l-1.9-.2z" fill="#335dff"/><path d="M240.5 87l1.9 .3l5.6 1l1.8 .3l-1.5-3.6l-1.8-.2l-5.6-.6l-1.9-.3z" fill="#3868fb"/><path d="M246.1 88l1.9 .3l5.5 .9l1.9 .3l-1.4-3.9l-1.9-.2l-5.6-.6l-1.9-.2z" fill="#3e73f7"/><path class="f" d="M251.7 88.9l1.8 .3l1.9 .3l1.9 .3l1.9 .3l1.8 .3l-1.3-4.3l-1.9-.1l-1.9-.2l-1.9-.2l-1.9-.2l-1.9-.2z"/><path class="l" stroke-width="0.69" d="M250.5 85.9l1.9 .2l1.9 .2l1.9 .2l1.8 .3l1.9 .2M250.8 86.6l1.9 .3l1.9 .2l1.8 .2l1.9 .3l1.9 .2M251.1 87.4l1.9 .2l1.9 .3l1.8 .3l1.9 .2l1.9 .2M251.4 88.2l1.9 .2l1.8 .3l1.9 .3l1.9 .2l1.9 .3M251.7 88.9l1.8 .3l1.9 .3l1.9 .3l1.9 .3l1.8 .3M250.2 85.2l.3 .7l.3 .7l.3 .8l.3 .8l.3 .7M252.1 85.4l.3 .7l.3 .8l.3 .7l.3 .8l.2 .8M254 85.6l.3 .7l.3 .8l.3 .8l.2 .8l.3 .8M255.9 85.8l.3 .7l.2 .8l.3 .9l.3 .8l.3 .8M257.8 86l.2 .8l.3 .8l.3 .8l.3 .8l.3 .9M259.7 86.1l.2 .9l.3 .8l.3 .8l.3 .9l.2 .9"/><path class="f" d="M257.3 89.8l1.9 .3l1.8 .3l1.9 .3l1.9 .2l-1.4-4.4l-1.8-.2l-1.9-.2l-1.9-.1l-1.9-.2z"/><path class="l" stroke-width="0.67" d="M256.2 86.5l1.8 .3l1.9 .2l1.9 .2l1.9 .1M256.4 87.3l1.9 .3l1.9 .2l1.9 .2l1.9 .2M256.7 88.2l1.9 .2l1.9 .2l1.9 .3l1.9 .2M257 89l1.9 .2l1.9 .3l1.8 .2l1.9 .3M257.3 89.8l1.9 .3l1.8 .3l1.9 .3l1.9 .2M255.9 85.8l.3 .7l.2 .8l.3 .9l.3 .8l.3 .8M257.8 86l.2 .8l.3 .8l.3 .8l.3 .8l.3 .9M259.7 86.1l.2 .9l.3 .8l.3 .8l.3 .9l.2 .9M261.6 86.3l.2 .9l.3 .8l.3 .9l.2 .8l.3 1M263.4 86.5l.3 .8l.3 .9l.3 .9l.2 .9l.3 .9"/><path d="M81.4 71.6l5 .2l5.1 .2l5.1 .3l5.1 .2l5.2 .2l5.1 .2l5.2 .2l5.2 .3l5.2 .3l5.2 .3l5.3 .4l5.2 .4l5.3 .4l5.3 .4l5.3 .5l5.4 .5l5.3 .5l5.4 .5l5.4 .5l5.4 .5l5.4 .5l5.5 .5l5.4 .5l5.5 .5l5.5 .6l5.5 .6l5.6 .7l5.5 .8l5.6 .7l5.6 .8l1.8 .2l-1.5-3l-1.9-.1l-5.6-.3l-5.7-.3l-5.6-.4l-5.5-.5l-5.6-.3l-5.5-.3l-5.5-.1l-5.5-.2l-5.5-.2l-5.5-.2l-5.4-.3l-5.4-.2l-5.4-.3l-5.4-.3l-5.4-.3l-5.3-.3l-5.3-.4l-5.3-.3l-5.3-.3l-5.3-.3l-5.2-.3l-5.2-.3l-5.3-.2l-5.1-.3l-5.2-.3l-5.2-.3l-5.1-.4l-5.1-.3l-5.1-.3l-5.1-.3z" fill="#325cff"/><path d="M239.3 84.5l1.9 .3l5.6 .7l1.8 .2l-1.5-3.3l-1.9-.1l-5.6-.4l-1.9-.1z" fill="#3561fd"/><path d="M244.9 85.2l1.9 .3l5.6 .6l1.9 .2l-1.5-3.7l-1.9-.1l-5.7-.2l-1.8-.2z" fill="#3b6ff9"/><path d="M250.5 85.9l1.9 .2l5.6 .7l1.9 .2l-1.4-4.1l-1.9-.1l-5.7-.3l-1.9-.1z" fill="#4179f5"/><path class="f" d="M256.2 86.5l1.8 .3l1.9 .2l1.9 .2l1.9 .1l-1.3-4.2l-2-.1l-1.9-.1l-1.9-.1l-1.9-.1z"/><path class="l" stroke-width="0.67" d="M255 83.5l1.9 .1l1.9 .1l1.9 .1l1.9 .1M255.3 84.2l1.9 .2l1.9 .1l1.9 .2l1.9 .1M255.6 85l1.9 .2l1.9 .1l1.9 .2l1.9 .1M255.9 85.8l1.9 .2l1.9 .1l1.9 .2l1.8 .2M256.2 86.5l1.8 .3l1.9 .2l1.9 .2l1.9 .1M254.7 82.7l.3 .8l.3 .7l.3 .8l.3 .8l.3 .7M256.6 82.8l.3 .8l.3 .8l.3 .8l.3 .8l.2 .8M258.5 82.9l.3 .8l.3 .8l.3 .8l.3 .8l.2 .9M260.4 83l.3 .8l.3 .9l.3 .8l.3 .8l.2 .9M262.4 83.1l.2 .8l.3 .9l.3 .8l.2 .9l.3 .8"/><path d="M79.5 72.7l5 .3l5.1 .4l5.2 .3l5.1 .3l5.1 .3l5.2 .3l5.2 .2l5.2 .3l5.2 .3l5.3 .3l5.2 .3l5.3 .3l5.3 .4l5.3 .3l5.4 .4l5.3 .3l5.4 .3l5.4 .4l5.4 .3l5.4 .3l5.5 .3l5.4 .2l5.5 .2l5.5 .3l5.6 .3l5.5 .4l5.6 .5l5.6 .4l5.6 .5l5.6 .4l1.9 .1l-1.6-2.7l-1.9 0l-5.7 .1l-5.6-.1l-5.6-.1l-5.6-.1l-5.6-.2l-5.6 0l-5.5 .1l-5.6 0l-5.5 0l-5.4 0l-5.5-.1l-5.4 0l-5.5-.2l-5.4-.1l-5.3-.2l-5.4-.2l-5.3-.3l-5.3-.2l-5.3-.3l-5.3-.2l-5.3-.3l-5.2-.3l-5.3-.2l-5.2-.3l-5.2-.4l-5.1-.4l-5.2-.4l-5.1-.4l-5.2-.4l-5.1-.3z" fill="#325cff"/><path d="M238 82.3l1.9 .2l5.7 .4l1.8 .1l-1.5-3.2l-1.9 0l-5.7 .1l-1.9 0z" fill="#345ffe"/><path d="M243.7 82.7l1.9 .2l5.6 .3l1.9 .1l-1.5-3.6l-1.9 0l-5.7 .1l-1.9 .1z" fill="#3c70f8"/><path class="f" d="M249.3 83.1l1.9 .1l1.9 .1l1.9 .2l1.9 .1l1.9 .1l-1.4-4.1l-1.9 0l-1.9 0l-2 .1l-1.9 0l-1.9 0z"/><path class="l" stroke-width="0.69" d="M248.1 80.4l1.9 0l1.9 0l2 0l1.9 0l1.9 0M248.4 81.1l1.9 0l1.9 0l1.9 .1l2 0l1.9 0M248.7 81.8l1.9 0l1.9 .1l1.9 0l1.9 .1l2 .1M249 82.4l1.9 .1l1.9 .1l1.9 .1l1.9 .1l1.9 .1M249.3 83.1l1.9 .1l1.9 .1l1.9 .2l1.9 .1l1.9 .1M247.8 79.7l.3 .7l.3 .7l.3 .7l.3 .6l.3 .7M249.7 79.7l.3 .7l.3 .7l.3 .7l.3 .7l.3 .7M251.6 79.7l.3 .7l.3 .7l.3 .8l.3 .7l.3 .7M253.6 79.6l.3 .8l.2 .8l.3 .7l.3 .8l.3 .8M255.5 79.6l.3 .8l.3 .8l.2 .8l.3 .8l.3 .8M257.4 79.6l.3 .8l.3 .8l.3 .9l.2 .8l.3 .8"/><path class="f" d="M255 83.5l1.9 .1l1.9 .1l1.9 .1l1.9 .1l-1.3-4.4l-2 .1l-1.9 0l-1.9 0l-1.9 0z"/><path class="l" stroke-width="0.66" d="M253.9 80.4l1.9 0l1.9 0l1.9 0l1.9 0M254.1 81.2l2 0l1.9 0l1.9 .1l1.9 0M254.4 81.9l1.9 .1l2 .1l1.9 0l1.9 .1M254.7 82.7l1.9 .1l1.9 .1l1.9 .1l2 .1M255 83.5l1.9 .1l1.9 .1l1.9 .1l1.9 .1M253.6 79.6l.3 .8l.2 .8l.3 .7l.3 .8l.3 .8M255.5 79.6l.3 .8l.3 .8l.2 .8l.3 .8l.3 .8M257.4 79.6l.3 .8l.3 .8l.3 .9l.2 .8l.3 .8M259.3 79.6l.3 .8l.3 .9l.3 .8l.2 .9l.3 .8M261.3 79.5l.2 .9l.3 .9l.3 .9l.3 .9l.2 .8"/><path d="M77.5 74l5.1 .4l5.1 .4l5.2 .4l5.1 .3l5.2 .4l5.2 .3l5.2 .3l5.2 .3l5.3 .3l5.2 .3l5.3 .2l5.3 .3l5.3 .3l5.3 .2l5.4 .2l5.4 .3l5.4 .2l5.4 .1l5.4 .2l5.4 .1l5.5 0l5.5 .1l5.5 0l5.6 0l5.5 0l5.6 .2l5.6 .3l5.6 .2l5.7 .1l5.6 0l1.9 0l-1.6-2.4l-1.9 .1l-5.7 .5l-5.7 .3l-5.7 .2l-5.6 .1l-5.6 .1l-5.6 .2l-5.6 .2l-5.5 .2l-5.5 .2l-5.5 .1l-5.5 .1l-5.5 .1l-5.4 0l-5.4 0l-5.4-.1l-5.4-.1l-5.4-.1l-5.3-.2l-5.3-.2l-5.3-.2l-5.3-.3l-5.2-.2l-5.3-.3l-5.2-.3l-5.2-.4l-5.2-.4l-5.2-.5l-5.1-.5l-5.2-.4l-5.1-.4z" fill="#325cff"/><path d="M236.7 80.4l1.9 0l5.7 0l1.9 0l-1.5-3l-1.9 .2l-5.8 .5l-1.9 .2z" fill="#335dff"/><path d="M242.4 80.4l1.9 0l5.7 0l1.9 0l-1.5-3.5l-1.9 .2l-5.7 .5l-2 .2z" fill="#396bfa"/><path d="M248.1 80.4l1.9 0l5.8 0l1.9 0l-1.5-3.8l-1.9 .1l-5.8 .4l-1.9 .1z" fill="#4077f6"/><path class="f" d="M253.9 80.4l1.9 0l1.9 0l1.9 0l1.9 0l-1.4-4.1l-1.9 .1l-2 .2l-1.9 .1l-1.9 .1z"/><path class="l" stroke-width="0.68" d="M252.7 77.5l1.9-.1l1.9-.1l2-.1l1.9-.2M253 78.2l1.9-.1l1.9-.1l2-.1l1.9-.1M253.3 78.9l1.9 0l1.9-.1l1.9-.1l2-.1M253.6 79.6l1.9 0l1.9 0l1.9 0l2-.1M253.9 80.4l1.9 0l1.9 0l1.9 0l1.9 0M252.4 76.8l.3 .7l.3 .7l.3 .7l.3 .7l.3 .8M254.3 76.7l.3 .7l.3 .7l.3 .8l.3 .7l.3 .8M256.2 76.6l.3 .7l.3 .7l.3 .8l.3 .8l.3 .8M258.2 76.4l.3 .8l.3 .7l.2 .8l.3 .9l.3 .8M260.1 76.3l.3 .7l.3 .8l.3 .8l.3 .9l.2 .9"/><path d="M75.6 75.4l5.1 .4l5.1 .5l5.2 .4l5.2 .5l5.2 .4l5.2 .3l5.2 .3l5.2 .3l5.3 .3l5.2 .2l5.3 .3l5.3 .2l5.4 .2l5.3 .1l5.4 .2l5.4 .1l5.4 0l5.4 .1l5.5-.1l5.5 0l5.5-.1l5.5-.2l5.5-.2l5.6-.2l5.6-.1l5.6 0l5.6 0l5.7-.2l5.6-.2l5.7-.3l5.8-.5l1.9-.1l-1.6-2.6l-1.9 .3l-5.8 .9l-5.8 .8l-5.7 .7l-5.7 .5l-5.6 .4l-5.7 .3l-5.6 .3l-5.6 .4l-5.6 .4l-5.5 .3l-5.5 .3l-5.5 .2l-5.5 .2l-5.5 .2l-5.4 .1l-5.4 0l-5.4 0l-5.4-.1l-5.3-.1l-5.4-.2l-5.3-.1l-5.3-.3l-5.3-.2l-5.2-.3l-5.3-.3l-5.2-.4l-5.2-.5l-5.2-.5l-5.2-.5l-5.1-.5l-5.2-.4z" fill="#325cff"/><path d="M241.2 78.3l1.9-.2l5.7-.4l1.9-.1l-1.5-3l-1.9 .3l-5.8 .8l-2 .3z" fill="#345ffe"/><path d="M246.9 77.8l1.9-.1l5.8-.3l1.9-.1l-1.5-3.3l-1.9 .2l-5.8 .7l-2 .2z" fill="#396afa"/><path d="M252.7 77.5l1.9-.1l5.8-.4l-1.4-3.5l-5.9 .7l-1.9 .2z" fill="#3e73f7"/><path d="M73.6 76.9l5.2 .4l5.1 .5l5.2 .5l5.2 .5l5.2 .4l5.2 .4l5.2 .4l5.3 .2l5.3 .3l5.3 .2l5.3 .2l5.3 .2l5.3 .1l5.4 .1l5.4 .1l5.4-.1l5.4 0l5.5-.1l5.5-.2l5.5-.2l5.5-.3l5.5-.3l5.6-.3l5.6-.3l5.6-.3l5.6-.3l5.7-.3l5.7-.4l5.7-.6l5.7-.7l5.8-.8l5.8-.8l1.9-.2l-1.6-2.4l-1.9 .3l-5.8 1.1l-5.9 1.2l-5.8 1.1l-5.7 1.1l-5.7 .7l-5.7 .7l-5.7 .5l-5.6 .5l-5.7 .5l-5.5 .4l-5.6 .5l-5.6 .4l-5.5 .4l-5.5 .4l-5.5 .2l-5.4 .2l-5.4 .1l-5.4 .1l-5.4 0l-5.4-.1l-5.4-.1l-5.3-.1l-5.3-.2l-5.3-.3l-5.3-.3l-5.2-.3l-5.3-.4l-5.2-.5l-5.2-.5l-5.2-.6l-5.2-.5l-5.1-.5z" fill="#325cff"/><path d="M245.7 75.6l1.9-.2l5.8-.6l1.9-.2l-1.5-2.7l-1.9 .2l-5.9 1l-2 .3z" fill="#335dff"/><path d="M251.5 75l1.9-.2l5.8-.6l-1.4-2.9l-5.9 .8l-2 .3z" fill="#3562fd"/><path d="M71.7 78.4l5.1 .5l5.2 .5l5.2 .5l5.2 .6l5.2 .4l5.2 .5l5.3 .3l5.3 .3l5.3 .2l5.3 .2l5.3 .2l5.3 .1l5.4 .1l5.4 0l5.4 0l5.4-.1l5.5-.2l5.4-.2l5.5-.3l5.5-.4l5.6-.4l5.5-.4l5.6-.5l5.6-.4l5.7-.5l5.6-.4l5.7-.6l5.7-.7l5.8-1l5.8-1.1l5.8-1.1l5.8-1l5.9-.9l5.9-.8l-1.6-2.2l-5.9 1l-5.9 1.2l-5.9 1.2l-5.8 1.4l-5.9 1.4l-5.7 1.3l-5.8 1.1l-5.7 .9l-5.7 .7l-5.7 .6l-5.6 .6l-5.6 .6l-5.6 .6l-5.6 .6l-5.5 .5l-5.6 .4l-5.4 .4l-5.5 .3l-5.5 .2l-5.4 .1l-5.4 .1l-5.4 0l-5.3-.1l-5.4-.1l-5.3-.2l-5.3-.2l-5.3-.3l-5.3-.4l-5.3-.4l-5.2-.5l-5.2-.5l-5.2-.6l-5.2-.5l-5.2-.6z" fill="#325cff"/><path d="M69.7 80l5.2 .5l5.2 .6l5.2 .5l5.2 .6l5.2 .5l5.3 .4l5.2 .3l5.3 .3l5.3 .3l5.4 .2l5.3 .1l5.4 .1l5.3 0l5.4 0l5.5-.2l5.4-.2l5.5-.2l5.5-.4l5.5-.4l5.5-.5l5.6-.5l5.6-.5l5.6-.6l5.6-.6l5.7-.6l5.7-.7l5.7-.8l5.7-1l5.8-1.2l5.8-1.4l5.9-1.3l5.8-1.2l5.9-1.1l5.9-1.1l-1.6-1.5l-5.9 1.3l-5.9 1.3l-6 1.4l-5.8 1.5l-5.9 1.5l-5.8 1.5l-5.8 1.3l-5.7 1.1l-5.8 .9l-5.6 .8l-5.7 .7l-5.6 .7l-5.7 .8l-5.5 .6l-5.6 .7l-5.5 .5l-5.5 .5l-5.5 .3l-5.5 .3l-5.4 .2l-5.5 .1l-5.4 .1l-5.4-.1l-5.3-.1l-5.4-.2l-5.3-.2l-5.3-.3l-5.3-.4l-5.3-.4l-5.2-.4l-5.3-.6l-5.2-.5l-5.2-.5l-5.2-.6z" fill="#325cff"/><path d="M67.7 81.8l5.2 .5l5.2 .5l5.2 .6l5.3 .5l5.2 .5l5.3 .4l5.3 .4l5.3 .3l5.3 .2l5.3 .2l5.4 .1l5.4 .1l5.4-.1l5.4-.1l5.4-.2l5.5-.2l5.5-.4l5.5-.4l5.5-.5l5.6-.6l5.6-.7l5.6-.7l5.6-.7l5.7-.7l5.6-.7l5.7-.9l5.8-1l5.8-1.3l5.8-1.4l5.8-1.5l5.9-1.5l5.9-1.4l5.9-1.2l6-1.3l-1.7-.8l-6 1.5l-5.9 1.4l-6 1.5l-5.9 1.5l-5.8 1.7l-5.9 1.6l-5.8 1.4l-5.8 1.3l-5.7 1l-5.7 .9l-5.7 .9l-5.7 .9l-5.6 .8l-5.6 .8l-5.6 .7l-5.5 .6l-5.6 .6l-5.5 .4l-5.5 .4l-5.4 .2l-5.5 .2l-5.4 .1l-5.4 0l-5.4-.1l-5.3-.2l-5.4-.2l-5.3-.3l-5.3-.4l-5.3-.4l-5.3-.4l-5.2-.5l-5.3-.5l-5.2-.5l-5.2-.6z" fill="#325cff"/><path d="M65.7 83.7l5.2 .5l1.8 .2l-2.5 2.5l-1.8-.2l-5.2-.5z" fill="#345ffe"/><path d="M69.2 84l1.7 .2l5.2 .5l1.8 .2l-2.5 2.4l-1.7-.1l-5.3-.5l-1.7-.2z" fill="#335dff"/><path d="M74.4 84.5l1.7 .2l5.3 .5l5.2 .5l5.3 .5l5.3 .4l5.3 .3l5.3 .3l5.3 .3l5.4 .1l5.4 .1l5.4 0l5.4 0l5.4-.2l5.5-.2l5.5-.4l5.5-.4l5.5-.5l5.5-.6l5.6-.7l5.6-.8l5.6-.8l5.7-.8l5.7-.8l5.7-.9l5.7-1l5.8-1.3l5.8-1.4l5.8-1.6l5.9-1.6l5.9-1.5l5.9-1.4l6-1.4l6-1.5l-1.7-.2l-6 1.7l-6 1.6l-6 1.5l-5.9 1.6l-5.9 1.6l-5.9 1.7l-5.8 1.5l-5.8 1.3l-5.8 1.2l-5.7 1l-5.7 1l-5.7 1l-5.7 .9l-5.6 .9l-5.6 .8l-5.6 .7l-5.5 .6l-5.5 .5l-5.5 .4l-5.5 .3l-5.5 .2l-5.4 .2l-5.4 0l-5.4-.1l-5.4-.1l-5.4-.2l-5.3-.3l-5.3-.4l-5.3-.3l-5.3-.4l-5.3-.5l-5.2-.4l-1.8-.2z" fill="#325cff"/><path d="M63.7 85.7l5.2 .5l1.8 .2l-2.5 2.6l-1.8-.2l-5.2-.4z" fill="#3663fd"/><path d="M67.2 86l1.7 .2l5.3 .5l1.7 .1l-2.5 2.6l-1.7-.1l-5.3-.5l-1.7-.1z" fill="#3561fd"/><path d="M72.4 86.5l1.8 .2l5.2 .4l1.8 .2l-2.5 2.5l-1.8-.1l-5.2-.4l-1.8-.2z" fill="#335efe"/><path d="M77.7 87l1.7 .1l5.3 .5l5.3 .4l5.3 .4l5.3 .3l5.3 .3l5.4 .2l5.3 .2l5.4 .1l5.5-.1l5.4-.1l5.4-.2l5.5-.3l5.5-.4l5.5-.5l5.6-.5l5.5-.7l5.6-.8l5.7-.9l5.6-.9l5.7-.9l5.7-1l5.7-1l5.8-1.1l5.8-1.4l5.8-1.5l5.9-1.6l5.9-1.6l5.9-1.6l5.9-1.5l6-1.6l6-1.6l-1.7 .5l-6 1.8l-6 1.7l-6 1.6l-6 1.6l-5.9 1.6l-5.9 1.6l-5.8 1.6l-5.9 1.4l-5.8 1.2l-5.7 1.1l-5.7 1.1l-5.7 1.1l-5.7 1l-5.7 .9l-5.6 .9l-5.6 .8l-5.5 .6l-5.6 .6l-5.5 .4l-5.5 .4l-5.5 .2l-5.4 .2l-5.5 0l-5.4 0l-5.4-.1l-5.4-.2l-5.3-.3l-5.4-.3l-5.3-.3l-5.3-.4l-5.3-.3l-1.7-.2z" fill="#325cff"/><path d="M61.7 87.8l5.2 .5l1.8 .1l-2.5 2.8l-1.8-.1l-5.2-.4z" fill="#3868fb"/><path d="M65.2 88.1l1.7 .2l5.3 .4l1.7 .2l-2.5 2.7l-1.7-.1l-5.3-.4l-1.7-.1z" fill="#3664fc"/><path d="M70.4 88.6l1.8 .1l5.2 .4l1.8 .2l-2.5 2.6l-1.8-.1l-5.2-.3l-1.8-.2z" fill="#3561fd"/><path d="M75.7 89l1.7 .1l5.3 .4l1.8 .2l-2.5 2.5l-1.8-.1l-5.3-.3l-1.7-.1z" fill="#335dff"/><path d="M81 89.4l1.7 .1l5.3 .4l5.3 .3l5.4 .4l5.3 .2l5.4 .2l5.4 .2l5.4 0l5.4-.1l5.5-.1l5.4-.3l5.5-.3l5.6-.4l5.5-.6l5.6-.6l5.5-.8l5.7-.8l5.6-.9l5.7-1l5.7-1.1l5.7-1.1l5.7-1l5.8-1.3l5.8-1.4l5.9-1.5l5.9-1.6l5.9-1.7l5.9-1.6l6-1.5l6-1.7l6.1-1.8l-1.8 1.3l-6.1 1.9l-6 1.8l-6 1.5l-6 1.6l-5.9 1.6l-5.9 1.6l-5.9 1.6l-5.8 1.4l-5.9 1.3l-5.7 1.1l-5.8 1.1l-5.7 1.1l-5.7 1.1l-5.7 1l-5.6 .9l-5.6 .8l-5.6 .7l-5.6 .6l-5.5 .4l-5.5 .4l-5.5 .3l-5.5 .2l-5.4 .1l-5.5 0l-5.4-.1l-5.4-.2l-5.3-.2l-5.4-.3l-5.3-.2l-5.4-.3l-1.7-.1z" fill="#325cff"/><path d="M59.7 90.1l5.2 .4l1.8 .2l-2.6 2.9l-1.7-.1l-5.3-.4z" fill="#3a6cfa"/><path d="M63.2 90.4l1.7 .1l5.3 .4l1.7 .1l-2.5 2.8l-1.7-.1l-5.3-.2l-1.8-.1z" fill="#3868fb"/><path d="M68.4 90.8l1.8 .1l5.2 .3l1.8 .1l-2.5 2.7l-1.8 0l-5.2-.3l-1.8 0z" fill="#3663fd"/><path d="M73.7 91.1l1.7 .1l5.3 .3l1.8 .1l-2.5 2.6l-1.7 0l-5.4-.2l-1.7-.1z" fill="#345ffe"/><path d="M79 91.4l1.7 .1l5.4 .4l1.7 .1l-2.4 2.5l-1.8-.1l-5.3-.2l-1.8-.1z" fill="#335dff"/><path d="M84.3 91.8l1.8 .1l5.3 .2l5.3 .3l5.4 .3l5.4 .1l5.4 .1l5.4 0l5.5-.1l5.4-.1l5.5-.3l5.5-.4l5.6-.4l5.5-.6l5.6-.7l5.6-.8l5.7-.9l5.6-1l5.7-1l5.7-1.1l5.8-1.2l5.7-1.1l5.8-1.2l5.9-1.5l5.9-1.5l5.9-1.6l5.9-1.6l6-1.6l6-1.6l6-1.7l6.1-1.9l-1.8 2.3l-6.1 1.8l-6.1 1.7l-6 1.5l-6 1.5l-6 1.6l-5.9 1.6l-5.9 1.5l-5.9 1.4l-5.8 1.3l-5.8 1.1l-5.8 1.1l-5.7 1.1l-5.7 1.1l-5.7 1l-5.6 .9l-5.7 .8l-5.6 .7l-5.6 .6l-5.5 .5l-5.6 .3l-5.5 .4l-5.5 .2l-5.4 .1l-5.5 .1l-5.4-.1l-5.4-.1l-5.4-.2l-5.4-.2l-5.3-.2l-1.8-.1z" fill="#325cff"/><path d="M57.6 92.5l5.3 .4l1.7 .1l-2.5 3l-1.8 0l-5.2-.3z" fill="#3b6ff9"/><path d="M61.1 92.8l1.8 .1l5.3 .3l1.7 0l-2.5 3l-1.8-.1l-5.3-.1l-1.7-.1z" fill="#396bfa"/><path d="M66.4 93.1l1.8 .1l5.2 .2l1.8 .1l-2.5 2.8l-1.8-.1l-5.3-.1l-1.7 0z" fill="#3765fc"/><path d="M71.7 93.3l1.7 .1l5.4 .2l1.7 .1l-2.5 2.7l-1.7 0l-5.4-.2l-1.7 0z" fill="#3562fd"/><path d="M77 93.6l1.8 0l5.3 .3l1.8 .1l-2.5 2.5l-1.8 0l-5.3-.1l-1.8-.1z" fill="#335efe"/><path d="M82.3 93.8l1.8 .1l5.3 .2l5.4 .2l5.4 .2l5.4 .2l5.4 0l5.5 0l5.4-.1l5.5-.3l5.5-.3l5.5-.3l5.6-.5l5.6-.6l5.6-.7l5.6-.8l5.6-.9l5.7-1l5.7-1.1l5.8-1.1l5.7-1.1l5.8-1.2l5.9-1.2l5.8-1.4l5.9-1.6l5.9-1.6l6-1.5l6-1.6l6-1.5l2-.6l-1.9 3l-2 .5l-6 1.4l-6.1 1.5l-5.9 1.5l-6 1.5l-5.9 1.5l-5.9 1.4l-5.8 1.1l-5.8 1.1l-5.8 1l-5.8 1.1l-5.7 1l-5.7 .9l-5.7 .9l-5.7 .8l-5.6 .7l-5.6 .6l-5.5 .5l-5.6 .4l-5.5 .3l-5.5 .3l-5.5 .2l-5.5 .1l-5.4 0l-5.4-.1l-5.5-.1l-5.3-.2l-5.4-.1l-1.8-.1z" fill="#325cff"/><path d="M234.6 74.8l2-.5l6-1.7l2.1-.6l-1.9 3.2l-2 .5l-6.1 1.5l-2 .5z" fill="#335efe"/><path d="M240.6 73.2l2-.6l6.1-1.9l-1.8 3.3l-6.1 1.7l-2.1 .5z" fill="#345ffe"/><path d="M55.6 95.1l5.3 .2l1.7 .1l-2.5 3.2l-1.8 0l-5.3-.1z" fill="#3d72f8"/><path d="M59.1 95.3l1.8 0l5.2 .2l1.8 .1l-2.5 3l-1.8 0l-5.3 0l-1.8 0z" fill="#3a6cfa"/><path d="M64.4 95.5l1.7 0l5.3 .2l1.8 0l-2.5 2.9l-1.8 0l-5.3 0l-1.8 0z" fill="#3869fb"/><path d="M69.7 95.6l1.7 .1l5.4 .1l1.7 .1l-2.5 2.8l-1.8-.1l-5.3 0l-1.8 0z" fill="#3664fc"/><path d="M75 95.8l1.8 0l5.3 .2l1.8 0l-2.5 2.7l-1.8 0l-5.4-.1l-1.7 0z" fill="#3460fe"/><path d="M80.3 95.9l1.8 .1l5.4 .1l1.7 .1l-2.4 2.6l-1.8-.1l-5.4 0l-1.8 0z" fill="#335dff"/><path d="M85.7 96.1l1.8 0l5.3 .2l5.4 .1l5.5 .1l5.4 0l5.5-.1l5.4-.1l5.5-.3l5.6-.3l5.5-.4l5.6-.5l5.6-.6l5.6-.7l5.6-.8l5.7-.9l5.7-1l5.7-1l5.8-1.1l5.8-1l5.8-1.1l5.8-1.2l2-.4l-2.1 3l-1.9 .4l-5.9 1.1l-5.8 .9l-5.8 .9l-5.8 .9l-5.7 .9l-5.8 .9l-5.7 .8l-5.6 .8l-5.7 .7l-5.6 .6l-5.6 .5l-5.6 .4l-5.5 .3l-5.5 .3l-5.5 .2l-5.5 .1l-5.5 .1l-5.4 0l-5.4 0l-5.4-.1l-1.8 0z" fill="#325cff"/><path d="M197.4 85.8l1.9-.4l5.9-1.4l2-.4l-2 3.2l-2 .4l-5.9 1.2l-2 .4z" fill="#335efe"/><path d="M203.2 84.5l2-.5l5.9-1.5l2-.5l-2 3.3l-2 .5l-5.9 1.4l-2 .4z" fill="#3460fe"/><path d="M209.1 83l2-.5l6-1.5l2-.5l-2 3.4l-2 .4l-6 1.5l-2 .5z" fill="#3561fd"/><path d="M215.1 81.5l2-.5l5.9-1.5l2-.5l-1.9 3.4l-2 .5l-6 1.4l-2 .5z" fill="#3664fc"/><path d="M221 80l2-.5l6-1.5l2.1-.5l-2 3.6l-2 .5l-6 1.3l-2 .5z" fill="#3868fb"/><path d="M227 78.5l2-.5l6.1-1.5l2-.4l-1.9 3.7l-2 .5l-6.1 1.3l-2 .4z" fill="#3a6df9"/><path d="M233.1 77l2-.5l6.1-1.5l2-.6l-1.9 4l-2.1 .5l-6 1.4l-2.1 .4z" fill="#3d71f8"/><path d="M239.1 75.5l2.1-.5l6.1-1.8l-1.9 4.2l-6.2 1.5l-2 .5z" fill="#3f75f7"/><path d="M53.5 97.8l5.3 .1l1.8 0l-2.6 3.4l-1.8 0l-5.2 0z" fill="#3d72f8"/><path d="M57.1 97.9l1.7 0l5.3 .1l1.8 0l-2.6 3.2l-1.8 0l-5.3 .1l-1.7 0z" fill="#3b6ff9"/><path d="M62.3 98l1.8 0l5.3 0l1.8 0l-2.6 3.1l-1.7 0l-5.4 .1l-1.7 .1z" fill="#3a6cfa"/><path d="M67.6 98l1.8 0l5.3 .1l1.8 0l-2.5 2.9l-1.8 .1l-5.3 0l-1.8 .1z" fill="#3868fb"/><path d="M73 98l1.7 .1l5.4 0l1.8 0l-2.5 2.8l-1.8 .1l-5.4 .1l-1.8 0z" fill="#3663fd"/><path d="M78.3 98.1l1.8 0l5.4 .1l1.8 0l-2.5 2.7l-1.8 0l-5.4 .1l-1.8 0z" fill="#345ffe"/><path d="M83.7 98.2l1.8 0l5.4 .1l5.4 0l5.4 .1l5.5-.1l5.4-.1l5.5-.2l5.6-.3l5.5-.4l5.6-.3l5.6-.5l5.6-.6l5.6-.7l5.7-.8l5.7-.9l5.7-.9l5.7-.9l5.8-.9l5.8-1l1.9-.3l-2.1 3.1l-1.9 .2l-5.8 .7l-5.8 .8l-5.8 .8l-5.7 .8l-5.7 .7l-5.7 .8l-5.7 .6l-5.6 .6l-5.6 .4l-5.6 .4l-5.6 .4l-5.5 .3l-5.6 .2l-5.5 .2l-5.4 .2l-5.5 .1l-5.4 .1l-5.4 0l-1.8 0z" fill="#325cff"/><path d="M184.1 90.1l1.9-.3l5.8-1l2-.3l-2.1 3.3l-2 .3l-5.8 .7l-1.9 .3z" fill="#3460fe"/><path d="M189.9 89.2l1.9-.4l5.9-1l2-.4l-2.1 3.5l-2 .4l-5.9 .8l-1.9 .2z" fill="#3868fb"/><path d="M195.7 88.1l2-.3l5.9-1.3l2-.4l-2.1 3.8l-2 .4l-5.9 1l-1.9 .2z" fill="#3b6ef9"/><path d="M201.6 86.9l2-.4l5.9-1.4l2-.5l-2 4.1l-2 .4l-6 1.2l-1.9 .3z" fill="#3e73f7"/><path d="M207.5 85.6l2-.5l6-1.5l2-.5l-2 4.2l-2 .5l-6 1.3l-2 .4z" fill="#4077f6"/><path class="f" d="M213.5 84.1l2-.5l2-.5l2-.5l2-.5l2-.4l2-.5l2-.4l2-.5l2-.4l2-.5l2.1-.4l-2 4.6l-2 .4l-2 .4l-2.1 .4l-2 .3l-2 .5l-2 .4l-2 .4l-2 .4l-2 .5l-2 .5l-2 .4z"/><path class="l" stroke-width="0.68" d="M211.9 87.3l2-.4l2-.5l2-.5l2-.4l2-.5l2-.4l2-.4l2-.4l2.1-.4l2-.4l2-.4M212.3 86.5l2-.5l2-.5l2-.5l2-.4l2-.5l2-.4l2-.4l2-.5l2-.4l2.1-.4l2-.4M212.7 85.6l2-.5l2-.4l2-.5l2-.5l2-.4l2-.5l2-.4l2-.4l2-.5l2.1-.4l2-.4M213.1 84.8l2-.5l2-.4l2-.5l2-.5l2-.5l2-.4l2-.4l2-.5l2-.4l2.1-.4l2-.5M213.5 84.1l2-.5l2-.5l2-.5l2-.5l2-.4l2-.5l2-.4l2-.5l2-.4l2-.5l2.1-.4M211.5 88.2l.4-.9l.4-.8l.4-.9l.4-.8l.4-.7M213.5 87.8l.4-.9l.4-.9l.4-.9l.4-.8l.4-.7M215.5 87.3l.4-.9l.4-.9l.4-.8l.4-.8l.4-.8M217.5 86.8l.4-.9l.4-.9l.4-.8l.4-.8l.4-.8M219.5 86.4l.4-.9l.4-.9l.4-.9l.4-.8l.4-.8M221.5 86l.4-1l.4-.9l.4-.8l.4-.9l.4-.7M223.5 85.6l.4-1l.4-.9l.4-.9l.4-.8l.4-.8M225.5 85.1l.4-.9l.4-.9l.4-.9l.4-.8l.4-.8M227.5 84.8l.4-1l.4-1l.4-.8l.4-.9l.4-.8M229.6 84.4l.4-1l.3-1l.4-.9l.4-.8l.4-.8M231.6 84l.4-1l.4-1l.4-.9l.4-.8l.3-.9M233.6 83.6l.4-1l.4-1l.4-.9l.4-.9l.4-.8"/><path class="f" d="M231.5 79.9l2-.5l2.1-.4l2-.5l2-.4l2.1-.5l2-.6l2.1-.5l-2 5.1l-2 .4l-2.1 .4l-2 .4l-2.1 .4l-2 .4l-2 .4l-2 .4z"/><path class="l" stroke-width="0.65" d="M230 83.4l2-.4l2-.4l2-.4l2.1-.4l2-.5l2.1-.4l2-.5M230.3 82.4l2.1-.4l2-.4l2-.4l2.1-.4l2-.5l2-.4l2.1-.5M230.7 81.5l2.1-.4l2-.4l2-.4l2.1-.5l2-.4l2-.5l2.1-.5M231.1 80.7l2.1-.4l2-.5l2-.4l2-.5l2.1-.5l2-.5l2.1-.5M231.5 79.9l2-.5l2.1-.4l2-.5l2-.4l2.1-.5l2-.6l2.1-.5M229.6 84.4l.4-1l.3-1l.4-.9l.4-.8l.4-.8M231.6 84l.4-1l.4-1l.4-.9l.4-.8l.3-.9M233.6 83.6l.4-1l.4-1l.4-.9l.4-.9l.4-.8M235.6 83.2l.4-1l.4-1l.4-.9l.4-.9l.4-.9M237.7 82.8l.4-1l.4-1l.4-1l.3-.9l.4-.8M239.7 82.4l.4-1.1l.4-1l.4-.9l.4-1l.4-.8M241.8 82l.4-1.1l.3-1l.4-1l.4-1l.4-.9M243.8 81.6l.4-1.2l.4-1l.4-1l.4-1l.4-.9"/><path d="M51.5 100.6l5.3 0l1.7 0l-2.5 3.6l-1.8 0l-5.3 .1z" fill="#4077f6"/><path d="M55 100.6l1.8 0l5.3 0l1.7-.1l-2.5 3.5l-1.8 .1l-5.3 .1l-1.8 .1z" fill="#3e74f7"/><path d="M60.3 100.6l1.8 0l5.3-.1l1.8 0l-2.6 3.3l-1.8 .1l-5.3 .2l-1.8 0z" fill="#3d71f8"/><path d="M65.6 100.5l1.8 0l5.3-.1l1.8 0l-2.5 3.1l-1.8 .1l-5.4 .3l-1.8 0z" fill="#3a6cfa"/><path d="M70.9 100.5l1.8-.1l5.4 0l1.8 0l-2.5 2.9l-1.8 .1l-5.4 .2l-1.8 .1z" fill="#3766fb"/><path d="M76.3 100.4l1.8 0l5.4 0l1.8-.1l-2.5 2.8l-1.8 .1l-5.4 .2l-1.8 .1z" fill="#3561fd"/><path d="M81.7 100.4l1.8 0l5.4-.1l1.8 0l-2.5 2.6l-1.8 .1l-5.4 .2l-1.8 0z" fill="#335dff"/><path d="M87.1 100.3l1.8 0l5.4 0l5.5-.1l5.4-.1l5.5-.2l5.5-.2l5.6-.3l5.5-.4l5.6-.4l5.6-.5l5.7-.5l5.6-.7l5.7-.7l5.7-.8l5.7-.8l5.8-.9l5.8-.7l1.9-.3l-2.1 3l-1.9 .2l-5.9 .6l-5.7 .6l-5.8 .7l-5.7 .7l-5.7 .6l-5.7 .6l-5.7 .5l-5.6 .5l-5.6 .4l-5.6 .3l-5.6 .4l-5.5 .3l-5.5 .2l-5.5 .3l-5.5 .2l-5.4 .2l-1.8 .1z" fill="#325cff"/><path d="M176.6 93.2l1.9-.2l5.8-.8l2-.3l-2.2 3.4l-1.9 .1l-5.8 .5l-2 .2z" fill="#3562fd"/><path d="M182.4 92.4l1.9-.2l5.9-.8l1.9-.3l-2.1 3.7l-1.9 .2l-5.9 .4l-2 .2z" fill="#3a6cfa"/><path d="M188.2 91.7l2-.3l5.8-.9l2-.3l-2.1 4l-1.9 .2l-5.9 .6l-2 .1z" fill="#3f75f7"/><path class="f" d="M194.1 90.8l1.9-.3l2-.3l2-.4l2-.3l1.9-.4l-2 4.4l-2 .3l-2 .2l-2 .2l-1.9 .2l-2 .2z"/><path class="l" stroke-width="0.68" d="M192.4 93.8l2-.2l1.9-.2l2-.3l2-.2l2-.3M192.8 93l2-.2l2-.3l1.9-.2l2-.3l2-.3M193.2 92.3l2-.3l2-.3l2-.3l1.9-.3l2-.3M193.7 91.5l1.9-.2l2-.4l2-.3l1.9-.3l2-.4M194.1 90.8l1.9-.3l2-.3l2-.4l2-.3l1.9-.4M192 94.6l.4-.8l.4-.8l.4-.7l.5-.8l.4-.7M194 94.4l.4-.8l.4-.8l.4-.8l.4-.7l.4-.8M195.9 94.2l.4-.8l.5-.9l.4-.8l.4-.8l.4-.7M197.9 94l.4-.9l.4-.8l.5-.9l.4-.8l.4-.8M199.9 93.8l.4-.9l.4-.9l.4-.9l.4-.8l.5-.8M201.9 93.5l.4-.9l.4-.9l.4-.9l.4-.9l.4-.8"/><path class="f" d="M200 89.8l2-.3l1.9-.4l2-.4l2-.5l2-.4l2-.5l2-.4l2-.5l2-.5l2-.4l2-.5l-2 5.3l-2.1 .4l-2 .4l-2 .4l-2 .4l-2 .4l-2 .3l-2 .3l-2 .3l-1.9 .3l-2 .3l-2 .2z"/><path class="l" stroke-width="0.65" d="M198.3 93.1l2-.2l2-.3l2-.3l1.9-.4l2-.3l2-.4l2-.4l2-.4l2-.4l2.1-.5l2-.4M198.7 92.3l2-.3l2-.3l2-.4l2-.3l2-.4l1.9-.4l2-.5l2-.4l2.1-.4l2-.5l2-.4M199.2 91.4l1.9-.3l2-.3l2-.4l2-.4l2-.4l2-.4l2-.5l2-.4l2-.5l2-.4l2-.4M199.6 90.6l1.9-.3l2-.4l2-.4l2-.4l2-.4l2-.5l2-.4l2-.5l2-.5l2-.4l2-.4M200 89.8l2-.3l1.9-.4l2-.4l2-.5l2-.4l2-.5l2-.4l2-.5l2-.5l2-.4l2-.5M197.9 94l.4-.9l.4-.8l.5-.9l.4-.8l.4-.8M199.9 93.8l.4-.9l.4-.9l.4-.9l.4-.8l.5-.8M201.9 93.5l.4-.9l.4-.9l.4-.9l.4-.9l.4-.8M203.8 93.2l.5-.9l.4-1l.4-.9l.4-.9l.4-.8M205.8 92.9l.4-1l.5-.9l.4-1l.4-.9l.4-.9M207.8 92.6l.4-1l.5-1l.4-1l.4-.9l.4-.9M209.8 92.3l.4-1.1l.4-1l.5-1l.4-1l.4-.9M211.8 91.9l.4-1.1l.4-1.1l.5-1l.4-.9l.4-.9M213.8 91.5l.4-1.1l.4-1.1l.5-1l.4-1l.4-.9M215.8 91.1l.4-1.1l.5-1.1l.4-1.1l.4-1l.4-.9M217.8 90.7l.5-1.2l.4-1.1l.4-1l.4-1l.4-.9M219.9 90.3l.4-1.2l.4-1.1l.4-1l.4-1l.4-1"/><path class="f" d="M217.9 85.9l2-.4l2-.5l2-.4l2-.4l2-.4l2.1-.4l2-.4l2-.4l2-.4l2.1-.4l2-.5l2.1-.4l2-.5l-2 6.2l-2 .3l-2.1 .4l-2 .3l-2.1 .3l-2 .3l-2 .3l-2.1 .4l-2 .3l-2 .3l-2 .4l-2 .4l-2.1 .4l-2 .4z"/><path class="l" stroke-width="0.62" d="M216.2 90l2.1-.5l2-.4l2-.4l2-.3l2-.4l2-.3l2.1-.4l2-.3l2-.4l2.1-.3l2-.3l2.1-.4l2-.4M216.7 88.9l2-.5l2-.4l2-.4l2-.4l2-.3l2.1-.4l2-.3l2-.4l2-.4l2.1-.3l2-.4l2.1-.4l2-.3M217.1 87.8l2-.4l2-.4l2-.4l2-.4l2-.4l2.1-.4l2-.4l2-.3l2-.4l2.1-.4l2-.4l2.1-.4l2-.4M217.5 86.8l2-.4l2-.4l2-.4l2-.5l2-.3l2.1-.4l2-.4l2-.4l2-.4l2.1-.4l2-.4l2.1-.4l2-.4M217.9 85.9l2-.4l2-.5l2-.4l2-.4l2-.4l2.1-.4l2-.4l2-.4l2-.4l2.1-.4l2-.5l2.1-.4l2-.5M215.8 91.1l.4-1.1l.5-1.1l.4-1.1l.4-1l.4-.9M217.8 90.7l.5-1.2l.4-1.1l.4-1l.4-1l.4-.9M219.9 90.3l.4-1.2l.4-1.1l.4-1l.4-1l.4-1M221.9 89.9l.4-1.2l.4-1.1l.4-1l.4-1l.4-1M223.9 89.5l.4-1.1l.4-1.2l.4-1l.4-1.1l.4-.9M225.9 89.2l.4-1.2l.4-1.1l.4-1.1l.4-1l.4-1M227.9 88.9l.4-1.2l.5-1.2l.4-1.1l.4-1l.4-1M230 88.5l.4-1.2l.4-1.1l.4-1.2l.4-1l.4-1M232 88.2l.4-1.2l.4-1.2l.4-1.1l.4-1.1l.4-1M234 87.9l.4-1.3l.4-1.2l.4-1.1l.4-1.1l.4-1M236.1 87.6l.4-1.3l.4-1.2l.4-1.2l.4-1.1l.4-1M238.1 87.3l.4-1.3l.4-1.3l.4-1.2l.4-1.1l.4-1.1M240.2 86.9l.4-1.3l.4-1.3l.4-1.2l.4-1.1l.4-1.1M242.2 86.6l.4-1.4l.4-1.2l.4-1.3l.4-1.1l.4-1.2"/><path class="f" d="M49.4 103.6l1.8-.1l1.7 0l1.8 0l1.8-.1l-2.6 4.1l-1.8 .2l-1.7 .1l-1.8 .1l-1.8 .1z"/><path class="l" stroke-width="0.65" d="M47.3 107l1.8-.1l1.8-.1l1.7-.1l1.8 0M47.9 106.1l1.7-.1l1.8-.1l1.8 0l1.7-.1M48.4 105.2l1.7-.1l1.8 0l1.8-.1l1.7 0M48.9 104.3l1.8 0l1.7 0l1.8-.1l1.8 0M49.4 103.6l1.8-.1l1.7 0l1.8 0l1.8-.1M46.8 108l.5-1l.6-.9l.5-.9l.5-.9l.5-.7M48.6 107.9l.5-1l.5-.9l.5-.9l.6-.8l.5-.8M50.4 107.8l.5-1l.5-.9l.5-.8l.5-.8l.5-.8M52.1 107.7l.5-1l.6-.8l.5-.9l.5-.8l.5-.7M53.9 107.5l.5-.8l.5-.9l.5-.8l.6-.8l.5-.8"/><path class="f" d="M52.9 103.5l1.8 0l1.8-.1l1.7 0l1.8-.1l1.8 0l-2.6 3.8l-1.8 .2l-1.7 .1l-1.8 .1l-1.8 .2l-1.7 .1z"/><path class="l" stroke-width="0.67" d="M50.9 106.8l1.7-.1l1.8 0l1.8-.2l1.8-.1l1.7-.1M51.4 105.9l1.8 0l1.7-.1l1.8-.1l1.8-.1l1.7-.1M51.9 105.1l1.8-.1l1.7 0l1.8-.1l1.8-.1l1.8 0M52.4 104.3l1.8-.1l1.8 0l1.7-.1l1.8 0l1.8-.1M52.9 103.5l1.8 0l1.8-.1l1.7 0l1.8-.1l1.8 0M50.4 107.8l.5-1l.5-.9l.5-.8l.5-.8l.5-.8M52.1 107.7l.5-1l.6-.8l.5-.9l.5-.8l.5-.7M53.9 107.5l.5-.8l.5-.9l.5-.8l.6-.8l.5-.8M55.7 107.4l.5-.9l.5-.8l.5-.8l.5-.8l.5-.7M57.4 107.3l.6-.9l.5-.8l.5-.8l.5-.7l.5-.8M59.2 107.1l.5-.8l.5-.8l.6-.7l.5-.8l.5-.7"/><path d="M58.2 103.4l1.8-.1l5.3-.1l1.8-.1l-2.5 3.6l-1.8 .1l-5.4 .5l-1.7 .1z" fill="#3f76f6"/><path d="M63.6 103.2l1.7 0l5.4-.2l1.8-.1l-2.6 3.3l-1.8 .2l-5.3 .4l-1.8 .2z" fill="#3d71f8"/><path d="M68.9 103l1.8 0l5.4-.2l1.8-.1l-2.6 3.1l-1.8 .1l-5.4 .5l-1.8 .1z" fill="#396bfa"/><path d="M74.3 102.8l1.8 0l5.4-.2l1.8 0l-2.6 2.8l-1.8 .2l-5.4 .3l-1.8 .2z" fill="#3664fc"/><path d="M79.7 102.7l1.8-.1l5.4-.2l1.8 0l-2.5 2.7l-1.8 .1l-5.5 .4l-1.8 .1z" fill="#335efe"/><path d="M85.1 102.5l1.8-.1l5.4-.1l5.5-.2l5.5-.2l5.5-.3l5.5-.3l5.6-.3l5.5-.3l5.7-.4l5.6-.5l5.6-.5l5.7-.6l5.7-.7l5.7-.7l5.8-.7l5.8-.7l1.9-.2l-2.2 3l-1.9 .1l-5.8 .5l-5.8 .5l-5.8 .6l-5.7 .6l-5.7 .5l-5.7 .4l-5.6 .4l-5.6 .4l-5.6 .3l-5.6 .4l-5.6 .4l-5.5 .4l-5.5 .3l-5.5 .4l-5.4 .3l-1.8 .1z" fill="#325cff"/><path d="M169 96.1l2-.2l5.8-.6l1.9-.2l-2.1 3.3l-2 0l-5.8 .4l-2 .2z" fill="#3561fd"/><path d="M174.8 95.5l2-.2l5.8-.5l2-.2l-2.2 3.5l-1.9 .1l-5.9 .2l-1.9 .2z" fill="#3a6cfa"/><path d="M180.7 94.9l1.9-.1l5.9-.6l1.9-.2l-2.1 4l-1.9 0l-5.9 .2l-2 .1z" fill="#3f75f7"/><path class="f" d="M186.5 94.4l2-.2l1.9-.2l2-.2l2-.2l1.9-.2l-2.1 4.4l-1.9 0l-2 .1l-2 .1l-1.9 0l-2 .1z"/><path class="l" stroke-width="0.68" d="M184.8 97.3l2-.1l1.9 0l2-.1l2-.1l2-.1M185.2 96.6l2-.1l2-.1l1.9-.2l2-.1l2-.1M185.7 95.8l1.9-.1l2-.1l2-.2l1.9-.1l2-.2M186.1 95.1l2-.1l1.9-.2l2-.2l2-.2l1.9-.2M186.5 94.4l2-.2l1.9-.2l2-.2l2-.2l1.9-.2M184.4 98.1l.4-.8l.4-.7l.5-.8l.4-.7l.4-.7M186.4 98l.4-.8l.4-.7l.4-.8l.5-.7l.4-.8M188.3 98l.4-.8l.5-.8l.4-.8l.4-.8l.4-.8M190.3 97.9l.4-.8l.4-.9l.5-.8l.4-.8l.4-.8M192.3 97.8l.4-.8l.4-.9l.4-.8l.5-.9l.4-.8M194.2 97.8l.5-.9l.4-.9l.4-.9l.4-.9l.4-.8"/><path class="f" d="M192.4 93.8l2-.2l1.9-.2l2-.3l2-.2l2-.3l-2.1 4.9l-2 .1l-2 .1l-2 .1l-1.9 0l-2 .1z"/><path class="l" stroke-width="0.65" d="M190.7 97.1l2-.1l2-.1l1.9-.1l2-.2l2-.1M191.1 96.2l2-.1l2-.1l2-.2l1.9-.1l2-.2M191.6 95.4l1.9-.1l2-.2l2-.2l2-.2l1.9-.2M192 94.6l2-.2l1.9-.2l2-.2l2-.2l2-.3M192.4 93.8l2-.2l1.9-.2l2-.3l2-.2l2-.3M190.3 97.9l.4-.8l.4-.9l.5-.8l.4-.8l.4-.8M192.3 97.8l.4-.8l.4-.9l.4-.8l.5-.9l.4-.8M194.2 97.8l.5-.9l.4-.9l.4-.9l.4-.9l.4-.8M196.2 97.7l.4-.9l.5-1l.4-.9l.4-.9l.4-.9M198.2 97.6l.4-1l.4-.9l.5-1l.4-.9l.4-.9M200.2 97.5l.4-1l.4-1l.4-1l.5-1l.4-.9"/><path class="f" d="M198.3 93.1l2-.2l2-.3l2-.3l1.9-.4l2-.3l2-.4l2-.4l2-.4l2-.4l2.1-.5l2-.4l-2.1 6.3l-2 .3l-2 .3l-2 .3l-2 .3l-2 .2l-2 .2l-2 .2l-2 .1l-2 .2l-2 .1l-2 .1z"/><path class="l" stroke-width="0.62" d="M196.6 96.8l2-.2l2-.1l2-.2l2-.2l2-.2l2-.3l2-.2l2-.3l2-.4l2-.3l2-.3M197.1 95.8l1.9-.1l2-.2l2-.2l2-.3l2-.2l2-.3l2-.3l2-.4l2-.3l2-.4l2-.3M197.5 94.9l2-.2l1.9-.2l2-.3l2-.2l2-.3l2-.4l2-.3l2-.4l2-.3l2-.4l2-.4M197.9 94l2-.2l2-.3l1.9-.3l2-.3l2-.3l2-.3l2-.4l2-.4l2-.4l2-.4l2.1-.4M198.3 93.1l2-.2l2-.3l2-.3l1.9-.4l2-.3l2-.4l2-.4l2-.4l2-.4l2.1-.5l2-.4M196.2 97.7l.4-.9l.5-1l.4-.9l.4-.9l.4-.9M198.2 97.6l.4-1l.4-.9l.5-1l.4-.9l.4-.9M200.2 97.5l.4-1l.4-1l.4-1l.5-1l.4-.9M202.2 97.3l.4-1l.4-1l.4-1.1l.4-1l.5-.9M204.2 97.2l.4-1.1l.4-1.1l.4-1l.4-1.1l.4-1M206.2 97l.4-1.1l.4-1.1l.4-1.1l.4-1.1l.4-1M208.2 96.8l.4-1.2l.4-1.1l.4-1.2l.4-1l.4-1.1M210.2 96.6l.4-1.2l.4-1.2l.4-1.2l.4-1.1l.4-1.1M212.2 96.3l.4-1.2l.4-1.3l.4-1.2l.4-1.1l.4-1.1M214.2 96l.4-1.3l.4-1.2l.4-1.2l.4-1.2l.4-1.1M216.2 95.7l.4-1.3l.4-1.3l.4-1.2l.4-1.2l.5-1.2M218.2 95.4l.4-1.3l.4-1.3l.4-1.3l.5-1.2l.4-1.2"/><path class="f" d="M216.2 90l2.1-.5l2-.4l2-.4l2-.3l2-.4l2-.3l2.1-.4l2-.3l2-.4l2.1-.3l2-.3l2.1-.4l2-.4l-2 7.4l-2.1 .2l-2 .2l-2.1 .3l-2 .2l-2 .3l-2.1 .2l-2 .3l-2 .2l-2.1 .3l-2 .3l-2 .3l-2 .3l-2 .3z"/><path class="l" stroke-width="0.60" d="M214.6 94.7l2-.3l2-.3l2-.4l2.1-.3l2-.3l2-.3l2-.2l2.1-.3l2-.3l2.1-.2l2-.3l2-.2l2.1-.3M215 93.5l2-.4l2-.3l2.1-.4l2-.3l2-.4l2-.2l2.1-.3l2-.3l2-.3l2.1-.3l2-.3l2.1-.3l2-.2M215.4 92.3l2-.4l2-.4l2.1-.4l2-.3l2-.4l2-.3l2.1-.3l2-.3l2-.3l2.1-.3l2-.3l2.1-.3l2-.3M215.8 91.1l2-.4l2.1-.4l2-.4l2-.4l2-.3l2-.3l2.1-.4l2-.3l2-.3l2.1-.3l2-.3l2.1-.4l2-.3M216.2 90l2.1-.5l2-.4l2-.4l2-.3l2-.4l2-.3l2.1-.4l2-.3l2-.4l2.1-.3l2-.3l2.1-.4l2-.4M214.2 96l.4-1.3l.4-1.2l.4-1.2l.4-1.2l.4-1.1M216.2 95.7l.4-1.3l.4-1.3l.4-1.2l.4-1.2l.5-1.2M218.2 95.4l.4-1.3l.4-1.3l.4-1.3l.5-1.2l.4-1.2M220.2 95.1l.4-1.4l.5-1.3l.4-1.3l.4-1.2l.4-1.2M222.2 94.8l.5-1.4l.4-1.3l.4-1.3l.4-1.3l.4-1.1M224.3 94.5l.4-1.4l.4-1.4l.4-1.3l.4-1.2l.4-1.2M226.3 94.3l.4-1.5l.4-1.3l.4-1.4l.4-1.2l.4-1.2M228.3 94l.4-1.4l.5-1.4l.4-1.4l.4-1.3l.4-1.2M230.4 93.8l.4-1.5l.4-1.4l.4-1.4l.4-1.3l.4-1.2M232.4 93.5l.4-1.5l.4-1.4l.4-1.4l.4-1.3l.4-1.3M234.4 93.3l.5-1.5l.4-1.5l.4-1.4l.4-1.3l.4-1.3M236.5 93l.4-1.5l.4-1.5l.4-1.4l.4-1.3l.4-1.3M238.5 92.8l.4-1.5l.5-1.6l.4-1.4l.4-1.4l.4-1.3M240.6 92.6l.4-1.6l.4-1.5l.4-1.5l.4-1.4l.4-1.4"/><path class="f" d="M47.3 107l1.8-.1l1.8-.1l1.7-.1l1.8 0l1.8-.2l1.8-.1l1.7-.1l-2.5 4.3l-1.8 .2l-1.8 .3l-1.8 .2l-1.7 .3l-1.8 .2l-1.7 .3l-1.8 .3z"/><path class="l" stroke-width="0.64" d="M45.3 111.2l1.8-.2l1.7-.2l1.8-.2l1.8-.3l1.7-.2l1.8-.2l1.8-.2M45.8 110.1l1.8-.2l1.7-.1l1.8-.2l1.8-.2l1.7-.2l1.8-.2l1.8-.2M46.3 109l1.8-.1l1.7-.2l1.8-.1l1.8-.2l1.8-.1l1.7-.2l1.8-.2M46.8 108l1.8-.1l1.8-.1l1.7-.1l1.8-.2l1.8-.1l1.7-.1l1.8-.2M47.3 107l1.8-.1l1.8-.1l1.7-.1l1.8 0l1.8-.2l1.8-.1l1.7-.1M44.8 112.4l.5-1.2l.5-1.1l.5-1.1l.5-1l.5-1M46.6 112.1l.5-1.1l.5-1.1l.5-1l.5-1l.5-1M48.3 111.8l.5-1l.5-1l.5-1.1l.6-.9l.5-1M50.1 111.6l.5-1l.5-1l.5-1l.5-.9l.5-1M51.8 111.3l.6-1l.5-.9l.5-1l.5-.9l.5-.8M53.6 111.1l.5-1l.5-.9l.6-.9l.5-.9l.5-.9M55.4 110.8l.5-.9l.5-.9l.5-.9l.5-.8l.6-.9M57.2 110.6l.5-.9l.5-.9l.5-.9l.5-.8l.5-.8"/><path class="f" d="M56.2 106.5l1.8-.1l1.7-.1l1.8-.1l1.8-.2l1.8-.1l-2.6 3.9l-1.8 .3l-1.8 .2l-1.7 .3l-1.8 .2l-1.8 .3z"/><path class="l" stroke-width="0.67" d="M54.1 110.1l1.8-.2l1.8-.2l1.8-.3l1.7-.2l1.8-.2M54.6 109.2l1.8-.2l1.8-.2l1.8-.2l1.8-.2l1.7-.2M55.2 108.3l1.7-.2l1.8-.2l1.8-.1l1.8-.2l1.8-.2M55.7 107.4l1.7-.1l1.8-.2l1.8-.1l1.8-.2l1.8-.1M56.2 106.5l1.8-.1l1.7-.1l1.8-.1l1.8-.2l1.8-.1M53.6 111.1l.5-1l.5-.9l.6-.9l.5-.9l.5-.9M55.4 110.8l.5-.9l.5-.9l.5-.9l.5-.8l.6-.9M57.2 110.6l.5-.9l.5-.9l.5-.9l.5-.8l.5-.8M58.9 110.3l.6-.9l.5-.8l.5-.8l.5-.8l.5-.8M60.7 110.1l.5-.9l.6-.8l.5-.8l.5-.8l.5-.8M62.5 109.8l.5-.8l.5-.8l.6-.8l.5-.7l.5-.8"/><path d="M61.5 106.2l1.8-.2l5.3-.3l1.8-.2l-2.5 3.6l-1.8 .2l-5.4 .8l-1.8 .2z" fill="#3f75f7"/><path d="M66.9 105.8l1.7-.1l5.4-.4l1.8-.1l-2.5 3.3l-1.8 .2l-5.4 .6l-1.8 .3z" fill="#3b6ef9"/><path d="M72.2 105.4l1.8-.1l5.4-.3l1.8-.1l-2.5 3l-1.8 .2l-5.4 .6l-1.8 .2z" fill="#3766fb"/><path d="M77.6 105.1l1.8-.1l5.5-.4l1.8-.1l-2.5 2.9l-1.9 .1l-5.4 .6l-1.8 .2z" fill="#345ffe"/><path d="M83.1 104.7l1.8-.1l5.4-.3l5.5-.3l5.5-.3l5.5-.3l5.6-.4l5.5-.4l5.6-.3l5.7-.4l5.6-.4l5.7-.5l5.7-.5l5.7-.6l5.8-.6l5.7-.6l2-.2l-2.3 3l-1.9 .1l-5.8 .3l-5.8 .5l-5.7 .4l-5.7 .4l-5.7 .4l-5.7 .3l-5.7 .4l-5.6 .3l-5.6 .4l-5.5 .5l-5.6 .5l-5.5 .5l-5.5 .5l-5.5 .5l-1.8 .2z" fill="#325cff"/><path d="M161.5 98.9l1.9-.2l5.8-.5l2-.1l-2.2 3.1l-2 .1l-5.8 .3l-1.9 .1z" fill="#3460fe"/><path d="M167.3 98.4l1.9-.2l5.9-.4l1.9-.1l-2.2 3.4l-1.9 0l-5.9 .2l-1.9 .1z" fill="#396bfa"/><path d="M173.1 97.9l2-.1l5.8-.3l2-.1l-2.2 3.7l-2 0l-5.8 0l-2 .1z" fill="#3e74f7"/><path class="f" d="M179 97.6l1.9-.1l2-.1l1.9-.1l2-.1l1.9 0l-2.1 4.1l-2-.1l-1.9 0l-2-.1l-2 0l-1.9 0z"/><path class="l" stroke-width="0.68" d="M177.2 100.4l2 0l1.9 0l2 0l2 0l1.9 0M177.7 99.7l1.9-.1l2 0l1.9 0l2 0l2 0M178.1 99l1.9-.1l2 0l2-.1l1.9 0l2 0M178.5 98.3l2-.1l1.9-.1l2 0l2-.1l1.9 0M179 97.6l1.9-.1l2-.1l1.9-.1l2-.1l1.9 0M176.8 101.1l.4-.7l.5-.7l.4-.7l.4-.7l.5-.7M178.7 101.1l.5-.7l.4-.8l.4-.7l.5-.7l.4-.7M180.7 101.1l.4-.7l.5-.8l.4-.7l.4-.8l.5-.7M182.7 101.2l.4-.8l.4-.8l.5-.8l.4-.7l.4-.8M184.6 101.2l.5-.8l.4-.8l.4-.8l.5-.8l.4-.8M186.6 101.3l.4-.9l.5-.8l.4-.8l.4-.8l.4-.8"/><path class="f" d="M184.8 97.3l2-.1l1.9 0l2-.1l2-.1l2-.1l1.9-.1l2-.2l2-.1l-2.1 5.1l-2 0l-2 0l-2-.1l-1.9-.1l-2 0l-2-.1l-2-.1l-1.9 0z"/><path class="l" stroke-width="0.65" d="M183.1 100.4l2 0l1.9 0l2 .1l2 0l2 0l1.9 .1l2 0l2 0M183.5 99.6l2 0l2 0l1.9 0l2 0l2 0l2 0l2 0l1.9 0M184 98.8l1.9 0l2 0l2 0l1.9-.1l2 0l2 0l2-.1l2-.1M184.4 98.1l2-.1l1.9 0l2-.1l2-.1l1.9 0l2-.1l2-.1l2-.1M184.8 97.3l2-.1l1.9 0l2-.1l2-.1l2-.1l1.9-.1l2-.2l2-.1M182.7 101.2l.4-.8l.4-.8l.5-.8l.4-.7l.4-.8M184.6 101.2l.5-.8l.4-.8l.4-.8l.5-.8l.4-.8M186.6 101.3l.4-.9l.5-.8l.4-.8l.4-.8l.4-.8M188.6 101.4l.4-.9l.4-.9l.5-.8l.4-.9l.4-.8M190.6 101.4l.4-.9l.4-.9l.4-.9l.5-.9l.4-.8M192.5 101.5l.5-1l.4-.9l.4-.9l.4-.9l.5-.9M194.5 101.6l.4-1l.5-1l.4-.9l.4-1l.4-.9M196.5 101.6l.4-1l.5-1l.4-1l.4-1l.4-1M198.5 101.6l.4-1l.4-1l.5-1.1l.4-1l.4-1"/><path class="f" d="M196.6 96.8l2-.2l2-.1l2-.2l2-.2l2-.2l-2.1 5.8l-2 0l-2 0l-2-.1l-2 0l-2 0z"/><path class="l" stroke-width="0.62" d="M194.9 100.6l2 0l2 0l2 0l2-.1l2 0M195.4 99.6l2 0l1.9 0l2-.1l2-.1l2-.1M195.8 98.7l2-.1l2-.1l2-.1l1.9-.1l2-.1M196.2 97.7l2-.1l2-.1l2-.2l2-.1l2-.2M196.6 96.8l2-.2l2-.1l2-.2l2-.2l2-.2M194.5 101.6l.4-1l.5-1l.4-.9l.4-1l.4-.9M196.5 101.6l.4-1l.5-1l.4-1l.4-1l.4-1M198.5 101.6l.4-1l.4-1l.5-1.1l.4-1l.4-1M200.5 101.7l.4-1.1l.4-1.1l.5-1.1l.4-1.1l.4-1M202.5 101.7l.4-1.2l.4-1.1l.4-1.1l.5-1.1l.4-1.1M204.5 101.7l.4-1.2l.4-1.2l.4-1.1l.5-1.2l.4-1.1"/><path class="f" d="M202.6 96.3l2-.2l2-.2l2-.3l2-.2l2-.3l2-.4l2-.3l2-.3l2-.4l2.1-.3l2-.3l-2.1 7.5l-2 .2l-2.1 .1l-2 .2l-2 .1l-2 .2l-2 .1l-2 .1l-2 .1l-2 0l-2 0l-2 0z"/><path class="l" stroke-width="0.60" d="M200.9 100.6l2-.1l2 0l2-.1l2 0l2-.2l2-.2l2-.2l2-.2l2.1-.2l2-.1l2-.2M201.3 99.5l2-.1l2-.1l2-.1l2-.1l2-.2l2-.2l2-.3l2.1-.2l2-.2l2-.3l2-.2M201.8 98.4l1.9-.1l2-.1l2-.2l2-.2l2-.2l2.1-.3l2-.2l2-.3l2-.3l2-.2l2.1-.3M202.2 97.3l2-.1l2-.2l2-.2l2-.2l2-.3l2-.3l2-.3l2-.3l2-.3l2-.3l2.1-.3M202.6 96.3l2-.2l2-.2l2-.3l2-.2l2-.3l2-.4l2-.3l2-.3l2-.4l2.1-.3l2-.3M200.5 101.7l.4-1.1l.4-1.1l.5-1.1l.4-1.1l.4-1M202.5 101.7l.4-1.2l.4-1.1l.4-1.1l.5-1.1l.4-1.1M204.5 101.7l.4-1.2l.4-1.2l.4-1.1l.5-1.2l.4-1.1M206.5 101.7l.4-1.3l.4-1.2l.4-1.2l.5-1.2l.4-1.2M208.5 101.6l.4-1.2l.4-1.3l.4-1.3l.5-1.2l.4-1.2M210.5 101.5l.4-1.3l.4-1.3l.4-1.3l.5-1.3l.4-1.2M212.5 101.4l.4-1.4l.4-1.3l.5-1.4l.4-1.3l.4-1.3M214.5 101.2l.4-1.4l.4-1.4l.5-1.3l.4-1.4l.4-1.3M216.5 101.1l.4-1.5l.5-1.4l.4-1.4l.4-1.4l.4-1.3M218.5 100.9l.5-1.5l.4-1.4l.4-1.5l.4-1.4l.4-1.4M220.6 100.8l.4-1.5l.4-1.6l.4-1.4l.4-1.5l.5-1.4M222.6 100.6l.4-1.5l.4-1.6l.5-1.5l.4-1.5l.4-1.4"/><path class="f" d="M220.6 93.7l2.1-.3l2-.3l2-.3l2-.2l2.1-.3l2-.3l2.1-.2l2-.3l2-.2l2.1-.3l-2.1 8.6l-2 .1l-2.1 .1l-2 .1l-2.1 .1l-2 .2l-2 .1l-2.1 .2l-2 .1l-2 .2l-2.1 .1z"/><path class="l" stroke-width="0.58" d="M219 99.4l2-.1l2-.2l2-.2l2.1-.2l2-.2l2.1-.2l2-.1l2-.2l2.1-.1l2-.2M219.4 98l2-.3l2-.2l2.1-.2l2-.2l2-.2l2.1-.2l2-.2l2.1-.2l2-.2l2.1-.1M219.8 96.5l2-.2l2.1-.3l2-.2l2-.3l2-.2l2.1-.2l2-.2l2.1-.3l2-.2l2.1-.2M220.2 95.1l2-.3l2.1-.3l2-.2l2-.3l2.1-.2l2-.3l2-.2l2.1-.3l2-.2l2.1-.2M220.6 93.7l2.1-.3l2-.3l2-.3l2-.2l2.1-.3l2-.3l2.1-.2l2-.3l2-.2l2.1-.3M218.5 100.9l.5-1.5l.4-1.4l.4-1.5l.4-1.4l.4-1.4M220.6 100.8l.4-1.5l.4-1.6l.4-1.4l.4-1.5l.5-1.4M222.6 100.6l.4-1.5l.4-1.6l.5-1.5l.4-1.5l.4-1.4M224.6 100.5l.4-1.6l.5-1.6l.4-1.5l.4-1.5l.4-1.5M226.7 100.3l.4-1.6l.4-1.6l.4-1.6l.4-1.5l.4-1.4M228.7 100.2l.4-1.7l.4-1.6l.4-1.6l.5-1.5l.4-1.5M230.7 100l.5-1.7l.4-1.6l.4-1.6l.4-1.6l.4-1.5M232.8 99.9l.4-1.7l.4-1.7l.4-1.6l.4-1.6l.5-1.5M234.8 99.8l.4-1.8l.5-1.7l.4-1.7l.4-1.6l.4-1.5M236.9 99.7l.4-1.8l.4-1.8l.4-1.7l.4-1.6l.4-1.5M238.9 99.6l.4-1.9l.5-1.7l.4-1.8l.4-1.6l.4-1.6"/><path class="f" d="M45.3 111.2l1.8-.2l1.7-.2l1.8-.2l1.8-.3l1.7-.2l1.8-.2l1.8-.2l-2.6 4.7l-1.8 .3l-1.7 .4l-1.8 .4l-1.8 .3l-1.7 .4l-1.8 .4l-1.7 .3z"/><path class="l" stroke-width="0.64" d="M43.3 115.8l1.7-.4l1.8-.3l1.7-.4l1.8-.3l1.8-.3l1.8-.4l1.7-.3M43.8 114.6l1.7-.3l1.8-.3l1.8-.3l1.7-.3l1.8-.4l1.8-.3l1.7-.3M44.3 113.5l1.7-.3l1.8-.3l1.8-.3l1.7-.3l1.8-.3l1.8-.2l1.8-.3M44.8 112.4l1.8-.3l1.7-.3l1.8-.2l1.7-.3l1.8-.2l1.8-.3l1.8-.2M45.3 111.2l1.8-.2l1.7-.2l1.8-.2l1.8-.3l1.7-.2l1.8-.2l1.8-.2M42.8 116.9l.5-1.1l.5-1.2l.5-1.1l.5-1.1l.5-1.2M44.5 116.6l.5-1.2l.5-1.1l.5-1.1l.6-1.1l.5-1.1M46.3 116.2l.5-1.1l.5-1.1l.5-1.1l.5-1.1l.5-1M48 115.8l.5-1.1l.6-1l.5-1.1l.5-1l.5-1M49.8 115.5l.5-1.1l.5-1l.5-1.1l.5-1l.6-1M51.6 115.1l.5-1l.5-1.1l.5-1l.5-.9l.5-1M53.3 114.7l.6-1l.5-1l.5-.9l.5-1l.5-.9M55.1 114.4l.5-1l.5-1l.6-.9l.5-.9l.5-.9"/><path class="f" d="M54.1 110.1l1.8-.2l1.8-.2l1.8-.3l1.7-.2l1.8-.2l-2.5 4.3l-1.8 .3l-1.8 .4l-1.8 .4l-1.8 .3l-1.7 .4z"/><path class="l" stroke-width="0.66" d="M52.1 114.1l1.8-.4l1.7-.3l1.8-.4l1.8-.3l1.8-.3M52.6 113l1.8-.3l1.7-.3l1.8-.3l1.8-.3l1.8-.3M53.1 112l1.8-.2l1.8-.3l1.7-.3l1.8-.3l1.8-.2M53.6 111.1l1.8-.3l1.8-.2l1.7-.3l1.8-.2l1.8-.3M54.1 110.1l1.8-.2l1.8-.2l1.8-.3l1.7-.2l1.8-.2M51.6 115.1l.5-1l.5-1.1l.5-1l.5-.9l.5-1M53.3 114.7l.6-1l.5-1l.5-.9l.5-1l.5-.9M55.1 114.4l.5-1l.5-1l.6-.9l.5-.9l.5-.9M56.9 114l.5-1l.5-.9l.5-.9l.5-.9l.6-.9M58.7 113.6l.5-.9l.5-.9l.5-.9l.5-.8l.5-.9M60.5 113.3l.5-.9l.5-.9l.5-.8l.5-.9l.5-.8"/><path d="M59.5 109.4l1.7-.2l5.4-.6l1.8-.2l-2.6 3.9l-1.8 .3l-5.3 1l-1.8 .4z" fill="#4078f5"/><path d="M64.8 108.8l1.8-.2l5.4-.6l1.8-.2l-2.6 3.5l-1.8 .3l-5.4 1l-1.8 .3z" fill="#3d71f8"/><path d="M70.2 108.2l1.8-.2l5.4-.6l1.8-.1l-2.5 3.2l-1.9 .3l-5.4 .8l-1.8 .3z" fill="#396afa"/><path d="M75.6 107.6l1.8-.2l5.4-.5l1.9-.1l-2.6 2.9l-1.8 .3l-5.5 .8l-1.8 .3z" fill="#3561fd"/><path d="M81 107.1l1.8-.2l5.5-.4l5.5-.5l5.5-.5l5.6-.4l5.5-.5l5.6-.4l5.6-.3l5.7-.4l5.6-.3l5.7-.4l5.7-.4l5.8-.5l5.7-.5l2-.2l-2.3 2.9l-1.9 0l-5.8 .3l-5.8 .3l-5.7 .3l-5.7 .3l-5.7 .2l-5.7 .3l-5.6 .4l-5.6 .4l-5.6 .6l-5.6 .6l-5.5 .7l-5.5 .7l-5.5 .8l-1.8 .2z" fill="#325cff"/><path d="M153.9 101.5l1.9-.1l5.8-.4l2-.1l-2.3 3.1l-1.9 0l-5.8 .1l-2 .1z" fill="#345ffe"/><path d="M159.7 101.1l1.9-.1l5.9-.3l1.9-.1l-2.2 3.4l-2-.1l-5.8 .1l-1.9 0z" fill="#396afa"/><path d="M165.5 100.7l2 0l5.8-.2l2-.1l-2.2 3.7l-2 0l-5.9-.2l-1.9 0z" fill="#3e74f7"/><path class="f" d="M171.4 100.5l1.9 0l2-.1l1.9 0l2 0l1.9 0l-2.1 4l-2-.1l-2-.1l-1.9-.1l-2 0l-2-.1z"/><path class="l" stroke-width="0.68" d="M169.6 103.3l1.9 0l2 0l2 .1l1.9 .1l2 .1M170 102.6l2 0l1.9 0l2 0l2 .1l1.9 0M170.5 101.9l1.9-.1l2 0l1.9 .1l2 0l2 0M170.9 101.2l2-.1l1.9 0l2 0l1.9 0l2 0M171.4 100.5l1.9 0l2-.1l1.9 0l2 0l1.9 0M169.1 104l.5-.7l.4-.7l.5-.7l.4-.7l.5-.7M171.1 104.1l.4-.8l.5-.7l.4-.8l.5-.7l.4-.6M173.1 104.1l.4-.8l.4-.7l.5-.8l.4-.7l.5-.7M175 104.2l.5-.8l.4-.8l.4-.7l.5-.8l.4-.7M177 104.3l.4-.8l.5-.8l.4-.8l.4-.8l.5-.7M179 104.4l.4-.8l.4-.9l.5-.8l.4-.8l.4-.7"/><path class="f" d="M177.2 100.4l2 0l1.9 0l2 0l2 0l1.9 0l2 .1l2 0l2 0l-2.2 4.9l-2-.2l-1.9-.2l-2-.1l-2-.2l-2-.2l-1.9-.1l-2-.1l-2-.1z"/><path class="l" stroke-width="0.65" d="M175.5 103.4l1.9 .1l2 .1l2 .1l1.9 .1l2 .1l2 .2l2 .1l2 .2M175.9 102.6l2 .1l1.9 0l2 .1l2 .1l2 .1l1.9 .2l2 .1l2 .1M176.3 101.9l2 0l2 0l1.9 .1l2 .1l2 .1l2 0l1.9 .1l2 .1M176.8 101.1l1.9 0l2 0l2 .1l1.9 0l2 .1l2 .1l2 0l1.9 .1M177.2 100.4l2 0l1.9 0l2 0l2 0l1.9 0l2 .1l2 0l2 0M175 104.2l.5-.8l.4-.8l.4-.7l.5-.8l.4-.7M177 104.3l.4-.8l.5-.8l.4-.8l.4-.8l.5-.7M179 104.4l.4-.8l.4-.9l.5-.8l.4-.8l.4-.7M180.9 104.5l.5-.8l.4-.9l.4-.8l.5-.8l.4-.8M182.9 104.7l.4-.9l.5-.9l.4-.8l.4-.9l.5-.8M184.9 104.9l.4-1l.5-.9l.4-.8l.4-.9l.4-.9M186.9 105l.4-.9l.4-.9l.5-1l.4-.8l.4-.9M188.8 105.2l.5-1l.4-.9l.4-1l.5-.9l.4-.9M190.8 105.4l.5-1l.4-1l.4-1l.4-.9l.5-1"/><path class="f" d="M189 100.5l2 0l2 0l1.9 .1l2 0l2 0l2 0l2-.1l2 0l-2.1 6l-2-.2l-2-.2l-2-.1l-2-.2l-2-.2l-2-.2l-2-.2l-1.9-.2z"/><path class="l" stroke-width="0.62" d="M187.3 104.1l2 .1l2 .2l1.9 .1l2 .2l2 .1l2 .2l2 .1l2 .2M187.7 103.2l2 .1l2 .1l2 .1l2 .2l1.9 .1l2 .1l2 .1l2 .1M188.2 102.2l1.9 .1l2 .1l2 .1l2 .1l2 .1l2 .1l2 0l2 .1M188.6 101.4l2 0l1.9 .1l2 .1l2 0l2 0l2 .1l2 0l2 0M189 100.5l2 0l2 0l1.9 .1l2 0l2 0l2 0l2-.1l2 0M186.9 105l.4-.9l.4-.9l.5-1l.4-.8l.4-.9M188.8 105.2l.5-1l.4-.9l.4-1l.5-.9l.4-.9M190.8 105.4l.5-1l.4-1l.4-1l.4-.9l.5-1M192.8 105.6l.4-1.1l.5-1l.4-1l.4-.9l.4-1M194.8 105.8l.4-1.1l.5-1l.4-1.1l.4-1l.4-1M196.8 106l.4-1.2l.4-1l.5-1.1l.4-1.1l.4-1M198.8 106.1l.4-1.1l.4-1.1l.5-1.1l.4-1.1l.4-1.1M200.8 106.3l.4-1.2l.4-1.1l.5-1.2l.4-1.1l.4-1.2M202.8 106.5l.4-1.2l.4-1.2l.5-1.2l.4-1.2l.4-1.2"/><path class="f" d="M200.9 100.6l2-.1l2 0l2-.1l2 0l2-.2l2-.2l2-.2l2-.2l-2.1 7.4l-2-.1l-2 0l-2-.1l-2-.1l-2-.1l-2-.1l-2-.2l-2-.2z"/><path class="l" stroke-width="0.60" d="M199.2 105l2 .1l2 .2l2 .1l2 0l2 .1l2 0l2 0l2.1 0M199.6 103.9l2 .1l2 .1l2 0l2 .1l2 0l2.1-.1l2 0l2-.1M200.1 102.8l2 0l2 .1l2 0l2 0l2 0l2-.2l2-.1l2-.1M200.5 101.7l2 0l2 0l2 0l2-.1l2-.1l2-.1l2-.2l2-.1M200.9 100.6l2-.1l2 0l2-.1l2 0l2-.2l2-.2l2-.2l2-.2M198.8 106.1l.4-1.1l.4-1.1l.5-1.1l.4-1.1l.4-1.1M200.8 106.3l.4-1.2l.4-1.1l.5-1.2l.4-1.1l.4-1.2M202.8 106.5l.4-1.2l.4-1.2l.5-1.2l.4-1.2l.4-1.2M204.8 106.6l.4-1.2l.4-1.3l.5-1.2l.4-1.2l.4-1.3M206.8 106.7l.4-1.3l.4-1.2l.5-1.3l.4-1.3l.4-1.2M208.8 106.8l.4-1.3l.4-1.3l.5-1.3l.4-1.4l.4-1.3M210.8 106.9l.4-1.4l.5-1.4l.4-1.4l.4-1.3l.4-1.4M212.8 106.9l.4-1.4l.5-1.4l.4-1.5l.4-1.4l.4-1.4M214.8 107l.5-1.5l.4-1.5l.4-1.5l.4-1.4l.4-1.5"/><path class="f" d="M212.9 100l2-.2l2-.2l2.1-.2l2-.1l2-.2l2-.2l2.1-.2l2-.2l2.1-.2l2-.1l2-.2l-2.1 9.2l-2 0l-2.1-.1l-2 0l-2 0l-2.1 0l-2 0l-2 0l-2-.1l-2.1 0l-2-.1l-2 0z"/><path class="l" stroke-width="0.58" d="M211.2 105.5l2 0l2.1 0l2 0l2 0l2 0l2.1 0l2-.1l2-.1l2.1 0l2 0l2 0M211.7 104.1l2 0l2-.1l2 0l2-.1l2.1 0l2-.1l2-.1l2-.1l2.1-.1l2 0l2.1-.1M212.1 102.7l2-.1l2-.1l2-.1l2-.1l2.1 0l2-.2l2-.1l2.1-.1l2-.2l2.1-.1l2 0M212.5 101.4l2-.2l2-.1l2-.2l2.1-.1l2-.2l2-.1l2.1-.2l2-.1l2-.2l2.1-.1l2-.1M212.9 100l2-.2l2-.2l2.1-.2l2-.1l2-.2l2-.2l2.1-.2l2-.2l2.1-.2l2-.1l2-.2M210.8 106.9l.4-1.4l.5-1.4l.4-1.4l.4-1.3l.4-1.4M212.8 106.9l.4-1.4l.5-1.4l.4-1.5l.4-1.4l.4-1.4M214.8 107l.5-1.5l.4-1.5l.4-1.5l.4-1.4l.4-1.5M216.9 107l.4-1.5l.4-1.5l.4-1.6l.4-1.5l.5-1.5M218.9 107.1l.4-1.6l.4-1.6l.4-1.6l.5-1.5l.4-1.5M220.9 107.1l.4-1.6l.5-1.6l.4-1.6l.4-1.7l.4-1.5M222.9 107.1l.5-1.6l.4-1.7l.4-1.7l.4-1.6l.4-1.6M225 107.1l.4-1.7l.4-1.7l.4-1.7l.5-1.7l.4-1.6M227 107.1l.4-1.8l.4-1.7l.5-1.7l.4-1.7l.4-1.7M229 107.1l.5-1.8l.4-1.8l.4-1.8l.4-1.7l.5-1.7M231.1 107.2l.4-1.9l.4-1.8l.5-1.9l.4-1.7l.4-1.7M233.1 107.2l.4-1.9l.5-1.9l.4-1.8l.4-1.8l.4-1.8"/><path class="f" d="M231.2 98.3l2-.1l2-.2l2.1-.1l2-.2l-2.1 9.7l-2-.1l-2.1-.1l-2 0l-2.1-.1z"/><path class="l" stroke-width="0.57" d="M229.5 105.3l2 0l2 0l2.1 .1l2 0M229.9 103.5l2 0l2.1-.1l2 0l2.1 0M230.3 101.7l2.1-.1l2 0l2-.1l2.1 0M230.7 100l2.1-.1l2-.1l2.1-.1l2-.1M231.2 98.3l2-.1l2-.2l2.1-.1l2-.2M229 107.1l.5-1.8l.4-1.8l.4-1.8l.4-1.7l.5-1.7M231.1 107.2l.4-1.9l.4-1.8l.5-1.9l.4-1.7l.4-1.7M233.1 107.2l.4-1.9l.5-1.9l.4-1.8l.4-1.8l.4-1.8M235.2 107.3l.4-1.9l.4-2l.4-1.9l.5-1.8l.4-1.8M237.2 107.4l.4-2l.5-2l.4-1.9l.4-1.9l.4-1.9"/><path class="f" d="M43.3 115.8l1.7-.4l1.8-.3l1.7-.4l1.8-.3l-2.5 5.6l-1.8 .4l-1.8 .5l-1.7 .5l-1.8 .4z"/><path class="l" stroke-width="0.62" d="M41.2 120.5l1.8-.4l1.7-.4l1.8-.5l1.8-.4M41.7 119.3l1.8-.4l1.8-.4l1.7-.4l1.8-.4M42.2 118.1l1.8-.4l1.8-.4l1.7-.4l1.8-.4M42.8 116.9l1.7-.3l1.8-.4l1.7-.4l1.8-.3M43.3 115.8l1.7-.4l1.8-.3l1.7-.4l1.8-.3M40.7 121.8l.5-1.3l.5-1.2l.5-1.2l.6-1.2l.5-1.1M42.5 121.4l.5-1.3l.5-1.2l.5-1.2l.5-1.1l.5-1.2M44.2 120.9l.5-1.2l.6-1.2l.5-1.2l.5-1.1l.5-1.1M46 120.4l.5-1.2l.5-1.1l.5-1.2l.5-1.1l.5-1.1M47.8 120l.5-1.2l.5-1.1l.5-1.2l.5-1l.5-1.1"/><path class="f" d="M46.8 115.1l1.7-.4l1.8-.3l1.8-.3l1.8-.4l1.7-.3l1.8-.4l1.8-.3l1.8-.3l-2.6 4.7l-1.8 .5l-1.8 .4l-1.7 .5l-1.8 .5l-1.8 .5l-1.7 .5l-1.8 .4l-1.8 .5z"/><path class="l" stroke-width="0.64" d="M44.7 119.7l1.8-.5l1.8-.4l1.7-.4l1.8-.5l1.8-.5l1.8-.4l1.7-.5l1.8-.4M45.3 118.5l1.7-.4l1.8-.4l1.8-.5l1.7-.4l1.8-.4l1.8-.4l1.8-.5l1.7-.4M45.8 117.3l1.7-.4l1.8-.4l1.8-.3l1.7-.4l1.8-.4l1.8-.4l1.8-.4l1.7-.4M46.3 116.2l1.7-.4l1.8-.3l1.8-.4l1.7-.4l1.8-.3l1.8-.4l1.8-.4l1.8-.3M46.8 115.1l1.7-.4l1.8-.3l1.8-.3l1.8-.4l1.7-.3l1.8-.4l1.8-.3l1.8-.3M44.2 120.9l.5-1.2l.6-1.2l.5-1.2l.5-1.1l.5-1.1M46 120.4l.5-1.2l.5-1.1l.5-1.2l.5-1.1l.5-1.1M47.8 120l.5-1.2l.5-1.1l.5-1.2l.5-1l.5-1.1M49.5 119.5l.5-1.1l.6-1.2l.5-1l.5-1.1l.5-1M51.3 119l.5-1.1l.5-1.1l.5-1l.5-1.1l.6-1M53.1 118.5l.5-1.1l.5-1l.5-1l.5-1l.5-1M54.8 118l.6-1l.5-1l.5-1l.5-1l.5-1M56.6 117.6l.5-1.1l.6-1l.5-.9l.5-1l.5-.9M58.4 117.1l.5-1l.5-1l.5-.9l.6-.9l.5-.9"/><path class="f" d="M57.4 113l1.8-.3l1.8-.3l1.8-.3l1.8-.4l1.7-.2l-2.5 4.2l-1.8 .4l-1.8 .5l-1.8 .5l-1.8 .5l-1.8 .4z"/><path class="l" stroke-width="0.67" d="M55.4 117l1.7-.5l1.8-.4l1.8-.5l1.8-.4l1.8-.4M55.9 116l1.8-.5l1.7-.4l1.8-.4l1.8-.4l1.8-.4M56.4 115l1.8-.4l1.7-.4l1.8-.4l1.8-.4l1.8-.3M56.9 114l1.8-.4l1.8-.3l1.7-.4l1.8-.3l1.8-.3M57.4 113l1.8-.3l1.8-.3l1.8-.3l1.8-.4l1.7-.2M54.8 118l.6-1l.5-1l.5-1l.5-1l.5-1M56.6 117.6l.5-1.1l.6-1l.5-.9l.5-1l.5-.9M58.4 117.1l.5-1l.5-1l.5-.9l.6-.9l.5-.9M60.2 116.6l.5-1l.5-.9l.5-.9l.5-.9l.6-.8M62 116.1l.5-.9l.5-.9l.5-.9l.5-.8l.6-.9M63.8 115.7l.5-.9l.5-.9l.5-.8l.5-.8l.5-.8"/><path d="M62.8 112.1l1.8-.4l5.3-.8l1.8-.3l-2.5 3.8l-1.8 .4l-5.4 1.3l-1.8 .5z" fill="#3e74f7"/><path d="M68.1 111.2l1.8-.3l5.5-.8l1.8-.3l-2.6 3.5l-1.8 .3l-5.4 1.2l-1.8 .5z" fill="#3a6cfa"/><path d="M73.6 110.3l1.8-.2l5.4-.8l1.8-.2l-2.5 3.1l-1.9 .3l-5.4 1.1l-1.8 .4z" fill="#3562fd"/><path d="M79 109.6l1.8-.3l5.5-.6l5.5-.7l5.5-.6l5.6-.6l5.5-.6l5.7-.4l5.6-.4l5.7-.3l5.6-.2l5.8-.3l5.7-.4l5.7-.3l2-.1l-2.3 2.6l-2 .1l-5.8 .1l-5.7 .1l-5.8 .2l-5.7 .1l-5.7 .3l-5.6 .4l-5.6 .5l-5.6 .7l-5.6 .8l-5.6 .9l-5.5 .9l-5.5 1l-1.8 .4z" fill="#325cff"/><path d="M146.3 104l1.9-.1l5.8-.3l2-.1l-2.3 3l-2-.1l-5.8 .1l-1.9 0z" fill="#335dff"/><path d="M152.1 103.7l1.9-.1l5.8-.2l2-.1l-2.3 3.4l-1.9-.1l-5.9-.2l-1.9 0z" fill="#3869fb"/><path d="M157.9 103.4l1.9 0l5.9-.1l1.9 0l-2.2 3.7l-2-.1l-5.8-.3l-2-.1z" fill="#3f75f7"/><path class="f" d="M163.7 103.3l2 0l1.9 0l2 0l1.9 0l2 0l-2.2 4.1l-2-.1l-1.9-.2l-2-.1l-2-.1l-1.9-.1z"/><path class="l" stroke-width="0.67" d="M161.9 106l2 .1l2 .1l1.9 .1l2 .1l1.9 .2M162.4 105.3l1.9 .1l2 0l2 .1l1.9 .1l2 .1M162.8 104.6l2 0l1.9 .1l2 .1l2 0l1.9 .1M163.3 103.9l1.9 0l2 .1l1.9 0l2 .1l2 0M163.7 103.3l2 0l1.9 0l2 0l1.9 0l2 0M161.5 106.8l.4-.8l.5-.7l.4-.7l.5-.7l.4-.6M163.4 106.9l.5-.8l.4-.7l.5-.8l.4-.7l.5-.6M165.4 107l.5-.8l.4-.8l.4-.7l.5-.7l.4-.7M167.4 107.1l.4-.8l.5-.8l.4-.7l.4-.8l.5-.7M169.3 107.3l.5-.9l.4-.8l.5-.8l.4-.7l.4-.8M171.3 107.4l.4-.8l.5-.9l.4-.8l.5-.8l.4-.8"/><path class="f" d="M169.6 103.3l1.9 0l2 0l2 .1l1.9 .1l2 .1l-2.2 4.4l-2-.2l-1.9-.2l-2-.2l-2-.1l-1.9-.2z"/><path class="l" stroke-width="0.65" d="M167.8 106.3l2 .1l1.9 .2l2 .1l2 .2l2 .2M168.3 105.5l1.9 .1l2 .1l2 .2l1.9 .1l2 .2M168.7 104.8l2 0l1.9 .1l2 .1l2 .1l1.9 .2M169.1 104l2 .1l2 0l1.9 .1l2 .1l2 .1M169.6 103.3l1.9 0l2 0l2 .1l1.9 .1l2 .1M167.4 107.1l.4-.8l.5-.8l.4-.7l.4-.8l.5-.7M169.3 107.3l.5-.9l.4-.8l.5-.8l.4-.7l.4-.8M171.3 107.4l.4-.8l.5-.9l.4-.8l.5-.8l.4-.8M173.3 107.6l.4-.9l.5-.8l.4-.9l.4-.8l.5-.8M175.2 107.8l.5-.9l.4-.9l.5-.9l.4-.8l.4-.8M177.2 108l.5-.9l.4-.9l.4-.9l.5-.9l.4-.8"/><path class="f" d="M175.5 103.4l1.9 .1l2 .1l2 .1l1.9 .1l2 .1l2 .2l2 .1l2 .2l-2.2 5.3l-2-.3l-2-.3l-2-.3l-1.9-.3l-2-.2l-2-.3l-2-.2l-1.9-.2z"/><path class="l" stroke-width="0.63" d="M173.7 106.7l2 .2l2 .2l1.9 .2l2 .2l2 .3l2 .2l1.9 .3l2 .3M174.2 105.9l1.9 .1l2 .2l2 .2l1.9 .2l2 .2l2 .2l2 .2l2 .3M174.6 105l2 .1l1.9 .2l2 .1l2 .2l2 .2l1.9 .2l2 .2l2 .2M175 104.2l2 .1l2 .1l1.9 .1l2 .2l2 .2l2 .1l1.9 .2l2 .2M175.5 103.4l1.9 .1l2 .1l2 .1l1.9 .1l2 .1l2 .2l2 .1l2 .2M173.3 107.6l.4-.9l.5-.8l.4-.9l.4-.8l.5-.8M175.2 107.8l.5-.9l.4-.9l.5-.9l.4-.8l.4-.8M177.2 108l.5-.9l.4-.9l.4-.9l.5-.9l.4-.8M179.2 108.3l.4-1l.5-.9l.4-1l.4-.9l.5-.8M181.2 108.5l.4-1l.4-.9l.5-1l.4-.9l.4-.9M183.1 108.8l.5-1l.4-1l.5-1l.4-.9l.4-1M185.1 109.1l.5-1.1l.4-1l.4-1l.5-1l.4-.9M187.1 109.4l.4-1.1l.5-1.1l.4-1l.4-1l.5-1M189.1 109.7l.4-1.1l.5-1.1l.4-1.1l.4-1l.5-1"/><path class="f" d="M187.3 104.1l2 .1l2 .2l1.9 .1l2 .2l2 .1l2 .2l2 .1l2 .2l2 .1l2 0l2 .1l-2.1 6.9l-2-.2l-2-.3l-2-.3l-2-.3l-2-.3l-2-.3l-2-.4l-2-.3l-2-.3l-2-.3l-2-.3z"/><path class="l" stroke-width="0.60" d="M185.6 108l1.9 .3l2 .3l2 .3l2 .2l2 .3l2 .3l2 .3l2 .3l2 .2l2 .2l2 .3M186 107l2 .2l2 .3l2 .2l1.9 .3l2 .2l2 .3l2 .2l2 .3l2 .2l2 .2l2 .1M186.4 106l2 .2l2 .2l2 .2l2 .3l2 .2l2 .2l2 .2l2 .2l2 .2l2 .1l2 .2M186.9 105l1.9 .2l2 .2l2 .2l2 .2l2 .2l2 .1l2 .2l2 .2l2 .1l2 .1l2 .1M187.3 104.1l2 .1l2 .2l1.9 .1l2 .2l2 .1l2 .2l2 .1l2 .2l2 .1l2 0l2 .1M185.1 109.1l.5-1.1l.4-1l.4-1l.5-1l.4-.9M187.1 109.4l.4-1.1l.5-1.1l.4-1l.4-1l.5-1M189.1 109.7l.4-1.1l.5-1.1l.4-1.1l.4-1l.5-1M191.1 110l.4-1.1l.5-1.2l.4-1.1l.4-1l.4-1.1M193.1 110.3l.4-1.2l.4-1.1l.5-1.1l.4-1.1l.4-1.1M195.1 110.7l.4-1.3l.4-1.2l.5-1.1l.4-1.1l.4-1.2M197.1 111l.4-1.3l.4-1.2l.5-1.2l.4-1.2l.4-1.1M199.1 111.3l.4-1.3l.4-1.3l.5-1.2l.4-1.2l.4-1.2M201.1 111.6l.4-1.3l.4-1.3l.5-1.3l.4-1.2l.4-1.2M203.1 111.9l.4-1.4l.4-1.3l.5-1.3l.4-1.3l.4-1.2M205.1 112.2l.4-1.5l.4-1.3l.5-1.4l.4-1.3l.4-1.3M207.1 112.4l.4-1.4l.4-1.5l.5-1.3l.4-1.4l.4-1.3"/><path class="f" d="M205.2 105.4l2 0l2 .1l2 0l2 0l2.1 0l2 0l2 0l2 0l2.1 0l2-.1l2-.1l-2.1 9.2l-2-.3l-2.1-.2l-2-.2l-2-.2l-2-.2l-2.1-.2l-2-.3l-2-.2l-2-.3l-2-.2l-2-.3z"/><path class="l" stroke-width="0.58" d="M203.5 110.5l2 .2l2 .3l2 .2l2 .2l2.1 .2l2 .1l2 .2l2 .2l2.1 .1l2 .2l2 .2M203.9 109.2l2 .2l2 .1l2.1 .2l2 .2l2 .1l2 .1l2 .2l2.1 .1l2 .1l2 .1l2 .1M204.4 107.9l2 .1l2 .2l2 .1l2 .1l2 .1l2 .1l2.1 .1l2 0l2 .1l2 0l2.1 .1M204.8 106.6l2 .1l2 .1l2 .1l2 0l2 .1l2.1 0l2 .1l2 0l2 0l2.1 0l2 0M205.2 105.4l2 0l2 .1l2 0l2 0l2.1 0l2 0l2 0l2 0l2.1 0l2-.1l2-.1M203.1 111.9l.4-1.4l.4-1.3l.5-1.3l.4-1.3l.4-1.2M205.1 112.2l.4-1.5l.4-1.3l.5-1.4l.4-1.3l.4-1.3M207.1 112.4l.4-1.4l.4-1.5l.5-1.3l.4-1.4l.4-1.3M209.1 112.7l.4-1.5l.5-1.5l.4-1.4l.4-1.4l.4-1.4M211.1 112.9l.4-1.5l.5-1.5l.4-1.5l.4-1.5l.4-1.4M213.1 113.2l.5-1.6l.4-1.6l.4-1.5l.4-1.5l.5-1.5M215.2 113.4l.4-1.7l.4-1.6l.4-1.5l.5-1.6l.4-1.5M217.2 113.6l.4-1.7l.4-1.6l.5-1.6l.4-1.6l.4-1.6M219.2 113.8l.4-1.7l.5-1.7l.4-1.7l.4-1.6l.4-1.6M221.2 114l.5-1.8l.4-1.7l.4-1.7l.4-1.7l.5-1.6M223.3 114.2l.4-1.8l.4-1.8l.4-1.8l.5-1.7l.4-1.7M225.3 114.5l.4-1.9l.4-1.9l.5-1.8l.4-1.8l.4-1.8"/><path class="f" d="M223.4 105.5l2-.1l2-.1l2.1 0l2 0l2 0l2.1 .1l2 0l-2.1 10.5l-2.1-.3l-2-.3l-2-.3l-2.1-.3l-2-.2l-2-.3l-2.1-.2z"/><path class="l" stroke-width="0.57" d="M221.7 112.2l2 .2l2 .2l2.1 .2l2 .2l2 .2l2.1 .2l2 .3M222.1 110.5l2 .1l2 .1l2.1 .1l2 .2l2.1 .2l2 .2l2 .2M222.5 108.8l2 0l2.1 .1l2 .1l2.1 .1l2 .1l2 .1l2.1 .2M222.9 107.1l2.1 0l2 0l2 0l2.1 .1l2 0l2.1 .1l2 .1M223.4 105.5l2-.1l2-.1l2.1 0l2 0l2 0l2.1 .1l2 0M221.2 114l.5-1.8l.4-1.7l.4-1.7l.4-1.7l.5-1.6M223.3 114.2l.4-1.8l.4-1.8l.4-1.8l.5-1.7l.4-1.7M225.3 114.5l.4-1.9l.4-1.9l.5-1.8l.4-1.8l.4-1.8M227.3 114.7l.5-1.9l.4-2l.4-1.8l.4-1.9l.5-1.8M229.4 115l.4-2l.4-2l.5-1.9l.4-1.9l.4-1.9M231.4 115.3l.4-2.1l.5-2l.4-2l.4-2l.4-1.9M233.4 115.6l.5-2.2l.4-2l.4-2.1l.5-2l.4-1.9M235.5 115.9l.4-2.2l.4-2.1l.5-2.1l.4-2.1l.4-2"/><path class="f" d="M41.2 120.5l1.8-.4l1.7-.4l1.8-.5l1.8-.4l-2.6 6.2l-1.7 .6l-1.8 .6l-1.7 .6l-1.8 .6z"/><path class="l" stroke-width="0.61" d="M39.2 126l1.8-.6l1.7-.6l1.8-.5l1.7-.6M39.7 124.5l1.8-.5l1.7-.5l1.8-.5l1.7-.6M40.2 123.1l1.8-.4l1.7-.5l1.8-.5l1.8-.5M40.7 121.8l1.8-.4l1.7-.5l1.8-.5l1.8-.4M41.2 120.5l1.8-.4l1.7-.4l1.8-.5l1.8-.4M38.7 127.4l.5-1.4l.5-1.5l.5-1.4l.5-1.3l.5-1.3M40.5 126.8l.5-1.4l.5-1.4l.5-1.3l.5-1.3l.5-1.3M42.2 126.2l.5-1.4l.5-1.3l.5-1.3l.5-1.3l.5-1.2M44 125.6l.5-1.3l.5-1.3l.5-1.3l.5-1.3l.5-1.2M45.7 125l.5-1.3l.5-1.3l.6-1.2l.5-1.2l.5-1.2"/><path class="f" d="M44.7 119.7l1.8-.5l1.8-.4l1.7-.4l1.8-.5l1.8-.5l1.8-.4l1.7-.5l1.8-.4l-2.5 5.1l-1.8 .7l-1.8 .6l-1.8 .6l-1.7 .7l-1.8 .6l-1.8 .6l-1.7 .6l-1.8 .6z"/><path class="l" stroke-width="0.63" d="M42.7 124.8l1.8-.5l1.7-.6l1.8-.6l1.8-.6l1.7-.6l1.8-.6l1.8-.5l1.8-.6M43.2 123.5l1.8-.5l1.7-.6l1.8-.5l1.8-.6l1.8-.5l1.7-.6l1.8-.5l1.8-.6M43.7 122.2l1.8-.5l1.8-.5l1.7-.5l1.8-.5l1.8-.6l1.7-.5l1.8-.5l1.8-.5M44.2 120.9l1.8-.5l1.8-.4l1.7-.5l1.8-.5l1.8-.5l1.7-.5l1.8-.4l1.8-.5M44.7 119.7l1.8-.5l1.8-.4l1.7-.4l1.8-.5l1.8-.5l1.8-.4l1.7-.5l1.8-.4M42.2 126.2l.5-1.4l.5-1.3l.5-1.3l.5-1.3l.5-1.2M44 125.6l.5-1.3l.5-1.3l.5-1.3l.5-1.3l.5-1.2M45.7 125l.5-1.3l.5-1.3l.6-1.2l.5-1.2l.5-1.2M47.5 124.4l.5-1.3l.5-1.2l.5-1.2l.5-1.2l.5-1.1M49.3 123.8l.5-1.3l.5-1.2l.5-1.1l.5-1.2l.5-1.1M51 123.1l.5-1.2l.6-1.1l.5-1.2l.5-1.1l.5-1.1M52.8 122.5l.5-1.2l.5-1.1l.5-1.1l.5-1.1l.6-1M54.6 121.9l.5-1.1l.5-1.1l.5-1.1l.5-1l.5-1.1M56.4 121.2l.5-1l.5-1.1l.5-1l.5-1l.5-1"/><path class="f" d="M55.4 117l1.7-.5l1.8-.4l1.8-.5l1.8-.4l1.8-.4l-2.6 4.6l-1.8 .6l-1.8 .6l-1.7 .6l-1.8 .7l-1.8 .6z"/><path class="l" stroke-width="0.66" d="M53.3 121.3l1.8-.5l1.8-.6l1.8-.6l1.7-.6l1.8-.5M53.8 120.2l1.8-.5l1.8-.6l1.8-.5l1.8-.6l1.7-.5M54.3 119.1l1.8-.5l1.8-.5l1.8-.5l1.8-.5l1.8-.5M54.8 118l1.8-.4l1.8-.5l1.8-.5l1.8-.5l1.8-.4M55.4 117l1.7-.5l1.8-.4l1.8-.5l1.8-.4l1.8-.4M52.8 122.5l.5-1.2l.5-1.1l.5-1.1l.5-1.1l.6-1M54.6 121.9l.5-1.1l.5-1.1l.5-1.1l.5-1l.5-1.1M56.4 121.2l.5-1l.5-1.1l.5-1l.5-1l.5-1M58.1 120.6l.6-1l.5-1l.5-1l.5-1l.5-1M59.9 120l.5-1l.6-1l.5-.9l.5-1l.5-.9M61.7 119.4l.5-.9l.5-1l.6-.9l.5-.9l.5-.9"/><path d="M60.7 115.6l1.8-.4l5.4-1.2l1.8-.4l-2.6 4.2l-1.8 .5l-5.4 1.7l-1.8 .6z" fill="#3f76f6"/><path d="M66.1 114.4l1.8-.4l5.4-1.1l1.8-.3l-2.6 3.6l-1.8 .5l-5.4 1.6l-1.8 .6z" fill="#3a6df9"/><path d="M71.5 113.3l1.8-.4l5.5-1l1.8-.3l-2.6 3.2l-1.8 .4l-5.5 1.5l-1.8 .5z" fill="#3562fd"/><path d="M76.9 112.2l1.9-.3l5.4-1l5.6-.9l5.5-.8l5.6-.7l5.6-.7l5.6-.5l5.6-.4l5.7-.3l5.7-.1l5.8-.2l5.7-.2l5.8-.2l1.9 0l-2.3 2.8l-1.9-.1l-5.8-.1l-5.8-.1l-5.8 0l-5.7 0l-5.7 .3l-5.7 .4l-5.7 .7l-5.6 .8l-5.6 1l-5.5 1.1l-5.5 1.2l-5.5 1.3l-1.8 .5z" fill="#325cff"/><path d="M144.5 106l1.9-.1l5.8-.1l1.9 .1l-2.2 3.2l-2-.2l-5.8-.3l-2-.1z" fill="#3664fc"/><path d="M150.3 105.9l1.9-.1l5.8 .1l2 .1l-2.3 3.6l-1.9-.2l-5.9-.5l-1.9-.1z" fill="#3e73f7"/><path class="f" d="M156.1 105.9l1.9 0l2 .1l1.9 0l2 .1l2 .1l-2.3 4.2l-2-.3l-1.9-.2l-2-.3l-1.9-.2l-2-.2z"/><path class="l" stroke-width="0.67" d="M154.3 108.5l1.9 .2l2 .2l1.9 .2l2 .2l2 .2M154.7 107.8l2 .2l1.9 .1l2 .2l1.9 .1l2 .2M155.2 107.2l1.9 .1l2 .1l1.9 .1l2 .1l2 .2M155.6 106.5l2 .1l1.9 .1l2 .1l1.9 .1l2 .1M156.1 105.9l1.9 0l2 .1l1.9 0l2 .1l2 .1M153.8 109.2l.5-.7l.4-.7l.5-.6l.4-.7l.5-.6M155.8 109.4l.4-.7l.5-.7l.4-.7l.5-.7l.4-.7M157.7 109.6l.5-.7l.4-.8l.5-.7l.4-.7l.5-.7M159.7 109.9l.4-.8l.5-.8l.4-.8l.5-.7l.4-.8M161.6 110.1l.5-.8l.4-.9l.5-.8l.4-.7l.5-.8M163.6 110.4l.5-.9l.4-.9l.5-.8l.4-.8l.5-.8"/><path class="f" d="M161.9 106l2 .1l2 .1l1.9 .1l2 .1l1.9 .2l-2.2 4.6l-2-.3l-1.9-.3l-2-.2l-2-.3l-1.9-.2z"/><path class="l" stroke-width="0.64" d="M160.1 109.1l2 .2l2 .2l1.9 .2l2 .3l2 .2M160.6 108.3l1.9 .1l2 .2l2 .2l1.9 .2l2 .3M161 107.5l2 .1l2 .2l1.9 .2l2 .1l2 .2M161.5 106.8l1.9 .1l2 .1l2 .1l1.9 .2l2 .1M161.9 106l2 .1l2 .1l1.9 .1l2 .1l1.9 .2M159.7 109.9l.4-.8l.5-.8l.4-.8l.5-.7l.4-.8M161.6 110.1l.5-.8l.4-.9l.5-.8l.4-.7l.5-.8M163.6 110.4l.5-.9l.4-.9l.5-.8l.4-.8l.5-.8M165.6 110.6l.4-.9l.5-.9l.4-.8l.5-.9l.4-.8M167.5 110.9l.5-.9l.4-1l.5-.9l.4-.8l.5-.9M169.5 111.2l.5-1l.4-.9l.5-1l.4-.9l.4-.8"/><path class="f" d="M167.8 106.3l2 .1l1.9 .2l2 .1l2 .2l2 .2l1.9 .2l2 .2l2 .3l-2.2 5.6l-2-.4l-2-.4l-2-.4l-1.9-.4l-2-.3l-2-.3l-2-.3l-1.9-.3z"/><path class="l" stroke-width="0.62" d="M166 109.7l2 .3l2 .2l1.9 .3l2 .3l2 .3l2 .3l1.9 .4l2 .4M166.5 108.8l1.9 .2l2 .3l2 .2l2 .3l1.9 .2l2 .3l2 .4l2 .3M166.9 108l2 .1l2 .2l1.9 .2l2 .3l2 .2l1.9 .3l2 .3l2 .3M167.4 107.1l1.9 .2l2 .1l2 .2l1.9 .2l2 .2l2 .3l2 .2l1.9 .3M167.8 106.3l2 .1l1.9 .2l2 .1l2 .2l2 .2l1.9 .2l2 .2l2 .3M165.6 110.6l.4-.9l.5-.9l.4-.8l.5-.9l.4-.8M167.5 110.9l.5-.9l.4-1l.5-.9l.4-.8l.5-.9M169.5 111.2l.5-1l.4-.9l.5-1l.4-.9l.4-.8M171.5 111.5l.4-1l.5-1l.4-1l.5-.9l.4-.9M173.5 111.8l.4-1l.5-1l.4-1l.4-1l.5-.9M175.4 112.2l.5-1.1l.4-1.1l.5-1l.4-1l.5-.9M177.4 112.6l.5-1.2l.4-1.1l.4-1l.5-1l.4-1M179.4 113l.4-1.2l.5-1.1l.4-1.1l.5-1.1l.4-1M181.4 113.4l.4-1.2l.5-1.2l.4-1.1l.4-1.1l.5-1"/><path class="f" d="M179.6 107.3l2 .2l2 .3l2 .2l1.9 .3l2 .3l2 .3l2 .2l2 .3l-2.2 6.6l-2-.4l-2-.5l-1.9-.4l-2-.5l-2-.4l-2-.4l-2-.4l-2-.4z"/><path class="l" stroke-width="0.60" d="M177.9 111.4l1.9 .4l2 .4l2 .4l2 .4l2 .4l2 .4l2 .4l2 .4M178.3 110.3l2 .4l2 .3l2 .4l1.9 .3l2 .4l2 .4l2 .4l2 .3M178.7 109.3l2 .3l2 .3l2 .3l2 .3l2 .4l2 .3l1.9 .4l2 .3M179.2 108.3l2 .2l1.9 .3l2 .3l2 .3l2 .3l2 .3l2 .3l2 .4M179.6 107.3l2 .2l2 .3l2 .2l1.9 .3l2 .3l2 .3l2 .2l2 .3M177.4 112.6l.5-1.2l.4-1.1l.4-1l.5-1l.4-1M179.4 113l.4-1.2l.5-1.1l.4-1.1l.5-1.1l.4-1M181.4 113.4l.4-1.2l.5-1.2l.4-1.1l.4-1.1l.5-1M183.4 113.8l.4-1.2l.5-1.2l.4-1.2l.4-1.1l.5-1.1M185.4 114.2l.4-1.2l.4-1.3l.5-1.2l.4-1.1l.4-1.1M187.4 114.7l.4-1.3l.4-1.3l.5-1.2l.4-1.2l.4-1.1M189.3 115.1l.5-1.3l.4-1.3l.5-1.3l.4-1.2l.4-1.1M191.3 115.6l.5-1.4l.4-1.3l.4-1.3l.5-1.3l.4-1.2M193.3 116l.5-1.4l.4-1.4l.4-1.3l.5-1.2l.4-1.3"/><path class="f" d="M191.5 108.9l2 .2l2 .3l2 .3l2 .3l2 .3l2 .2l2 .2l2 .3l2 .2l2 .2l2.1 .2l-2.2 8.5l-2-.4l-2-.5l-2-.4l-2-.5l-2.1-.4l-2-.4l-2-.5l-2-.5l-2-.5l-2-.4l-2-.5z"/><path class="l" stroke-width="0.58" d="M189.8 113.8l2 .4l2 .4l2 .5l2 .4l2 .4l2 .4l2 .4l2 .4l2 .4l2 .4l2 .4M190.2 112.5l2 .4l2 .3l2 .4l2 .4l2 .4l2 .4l2 .3l2 .4l2 .3l2.1 .4l2 .3M190.7 111.2l1.9 .4l2 .3l2 .4l2 .3l2 .4l2 .3l2.1 .3l2 .3l2 .3l2 .3l2 .3M191.1 110l2 .3l2 .4l2 .3l2 .3l2 .3l2 .3l2 .3l2 .2l2 .3l2 .2l2 .3M191.5 108.9l2 .2l2 .3l2 .3l2 .3l2 .3l2 .2l2 .2l2 .3l2 .2l2 .2l2.1 .2M189.3 115.1l.5-1.3l.4-1.3l.5-1.3l.4-1.2l.4-1.1M191.3 115.6l.5-1.4l.4-1.3l.4-1.3l.5-1.3l.4-1.2M193.3 116l.5-1.4l.4-1.4l.4-1.3l.5-1.2l.4-1.3M195.3 116.5l.5-1.4l.4-1.5l.4-1.3l.5-1.3l.4-1.3M197.3 117l.5-1.5l.4-1.5l.4-1.4l.5-1.3l.4-1.3M199.3 117.5l.5-1.6l.4-1.5l.4-1.4l.5-1.4l.4-1.3M201.3 117.9l.5-1.6l.4-1.5l.4-1.5l.5-1.4l.4-1.4M203.4 118.3l.4-1.6l.4-1.6l.5-1.5l.4-1.4l.4-1.5M205.4 118.8l.4-1.7l.4-1.6l.5-1.6l.4-1.5l.4-1.4M207.4 119.2l.4-1.7l.4-1.7l.5-1.6l.4-1.5l.4-1.5M209.4 119.7l.4-1.8l.5-1.7l.4-1.7l.4-1.6l.4-1.5M211.4 120.1l.4-1.8l.5-1.8l.4-1.7l.4-1.6l.5-1.6"/><path class="f" d="M209.5 111.2l2 .2l2.1 .2l2 .1l2 .2l2 .2l2.1 .1l2 .2l2 .2l2.1 .2l2 .2l2 .2l2.1 .2l2 .3l-2.2 11.5l-2-.5l-2-.6l-2.1-.5l-2-.5l-2-.5l-2.1-.5l-2-.4l-2-.4l-2.1-.4l-2-.4l-2-.4l-2-.4l-2-.5z"/><path class="l" stroke-width="0.57" d="M207.8 117.5l2 .4l2 .4l2.1 .3l2 .4l2 .3l2 .4l2.1 .4l2 .4l2 .4l2.1 .5l2 .4l2 .5l2.1 .5M208.2 115.8l2.1 .4l2 .3l2 .3l2 .3l2 .3l2.1 .3l2 .4l2 .3l2.1 .4l2 .4l2 .4l2.1 .4l2 .4M208.7 114.2l2 .3l2 .3l2 .3l2 .2l2.1 .3l2 .2l2 .3l2.1 .3l2 .3l2 .3l2.1 .4l2 .3l2 .4M209.1 112.7l2 .2l2 .3l2.1 .2l2 .2l2 .2l2 .2l2.1 .2l2 .3l2 .2l2.1 .3l2 .3l2 .3l2.1 .3M209.5 111.2l2 .2l2.1 .2l2 .1l2 .2l2 .2l2.1 .1l2 .2l2 .2l2.1 .2l2 .2l2 .2l2.1 .2l2 .3M207.4 119.2l.4-1.7l.4-1.7l.5-1.6l.4-1.5l.4-1.5M209.4 119.7l.4-1.8l.5-1.7l.4-1.7l.4-1.6l.4-1.5M211.4 120.1l.4-1.8l.5-1.8l.4-1.7l.4-1.6l.5-1.6M213.4 120.5l.5-1.9l.4-1.8l.4-1.7l.5-1.7l.4-1.7M215.4 120.9l.5-1.9l.4-1.9l.4-1.8l.5-1.7l.4-1.7M217.5 121.3l.4-2l.4-1.9l.5-1.8l.4-1.8l.4-1.7M219.5 121.7l.4-2l.5-2l.4-1.9l.4-1.8l.5-1.8M221.5 122.1l.5-2l.4-2l.4-2l.5-1.9l.4-1.8M223.6 122.6l.4-2.1l.4-2.1l.5-2l.4-1.9l.4-1.9M225.6 123.1l.4-2.2l.5-2.1l.4-2.1l.4-2l.5-1.9M227.6 123.6l.5-2.2l.4-2.2l.4-2.2l.5-2l.4-2M229.7 124.1l.4-2.3l.4-2.2l.5-2.2l.4-2.1l.4-2.1M231.7 124.7l.4-2.4l.5-2.3l.4-2.3l.4-2.1l.5-2.2M233.7 125.2l.5-2.4l.4-2.4l.4-2.3l.5-2.2l.4-2.2"/><path class="f" d="M39.2 126l1.8-.6l1.7-.6l1.8-.5l1.7-.6l1.8-.6l1.8-.6l1.7-.6l-2.5 6.3l-1.8 .8l-1.7 .8l-1.8 .8l-1.7 .8l-1.8 .8l-1.7 .7l-1.8 .7z"/><path class="l" stroke-width="0.61" d="M37.2 132l1.8-.7l1.7-.7l1.8-.7l1.7-.7l1.8-.8l1.7-.7l1.8-.8M37.7 130.5l1.8-.7l1.7-.7l1.8-.6l1.7-.7l1.8-.8l1.8-.7l1.7-.7M38.2 128.9l1.8-.6l1.7-.6l1.8-.7l1.7-.6l1.8-.7l1.8-.7l1.7-.6M38.7 127.4l1.8-.6l1.7-.6l1.8-.6l1.7-.6l1.8-.6l1.8-.6l1.7-.7M39.2 126l1.8-.6l1.7-.6l1.8-.5l1.7-.6l1.8-.6l1.8-.6l1.7-.6M36.7 133.6l.5-1.6l.5-1.5l.5-1.6l.5-1.5l.5-1.4M38.5 132.9l.5-1.6l.5-1.5l.5-1.5l.5-1.5l.5-1.4M40.2 132.2l.5-1.6l.5-1.5l.5-1.4l.5-1.5l.5-1.4M42 131.4l.5-1.5l.5-1.4l.5-1.5l.5-1.4l.5-1.3M43.7 130.6l.5-1.4l.5-1.4l.5-1.4l.5-1.4l.5-1.3M45.5 129.8l.5-1.4l.5-1.4l.5-1.3l.5-1.3l.5-1.3M47.2 129l.5-1.3l.6-1.4l.5-1.3l.5-1.2l.5-1.3M49 128.2l.5-1.3l.5-1.3l.5-1.2l.5-1.3l.5-1.2"/><path class="f" d="M48 123.1l1.8-.6l1.7-.6l1.8-.6l1.8-.5l1.8-.6l-2.6 5.6l-1.8 .8l-1.7 .8l-1.8 .8l-1.8 .8l-1.7 .8z"/><path class="l" stroke-width="0.64" d="M46 128.4l1.7-.7l1.8-.8l1.8-.8l1.7-.7l1.8-.8M46.5 127l1.8-.7l1.7-.7l1.8-.7l1.8-.7l1.7-.7M47 125.7l1.8-.7l1.7-.6l1.8-.7l1.8-.7l1.7-.6M47.5 124.4l1.8-.6l1.7-.7l1.8-.6l1.8-.6l1.8-.7M48 123.1l1.8-.6l1.7-.6l1.8-.6l1.8-.5l1.8-.6M45.5 129.8l.5-1.4l.5-1.4l.5-1.3l.5-1.3l.5-1.3M47.2 129l.5-1.3l.6-1.4l.5-1.3l.5-1.2l.5-1.3M49 128.2l.5-1.3l.5-1.3l.5-1.2l.5-1.3l.5-1.2M50.8 127.4l.5-1.3l.5-1.2l.5-1.2l.5-1.2l.5-1.2M52.5 126.6l.5-1.2l.6-1.2l.5-1.2l.5-1.1l.5-1.1M54.3 125.8l.5-1.2l.5-1.1l.5-1.1l.6-1.2l.5-1"/><path class="f" d="M53.3 121.3l1.8-.5l1.8-.6l1.8-.6l1.7-.6l1.8-.5l-2.5 5l-1.8 .8l-1.8 .7l-1.8 .8l-1.8 .8l-1.7 .8z"/><path class="l" stroke-width="0.66" d="M51.3 126.1l1.7-.7l1.8-.8l1.8-.7l1.8-.7l1.8-.7M51.8 124.9l1.8-.7l1.7-.7l1.8-.7l1.8-.7l1.8-.7M52.3 123.7l1.8-.7l1.7-.6l1.8-.7l1.8-.6l1.8-.7M52.8 122.5l1.8-.6l1.8-.7l1.7-.6l1.8-.6l1.8-.6M53.3 121.3l1.8-.5l1.8-.6l1.8-.6l1.7-.6l1.8-.5M50.8 127.4l.5-1.3l.5-1.2l.5-1.2l.5-1.2l.5-1.2M52.5 126.6l.5-1.2l.6-1.2l.5-1.2l.5-1.1l.5-1.1M54.3 125.8l.5-1.2l.5-1.1l.5-1.1l.6-1.2l.5-1M56.1 125l.5-1.1l.5-1.1l.5-1.1l.5-1.1l.6-1M57.9 124.3l.5-1.1l.5-1.1l.5-1l.5-1.1l.5-1M59.7 123.5l.5-1l.5-1.1l.5-1l.5-1l.5-.9"/><path d="M58.7 119.6l1.7-.6l5.4-1.6l1.8-.5l-2.6 4.4l-1.8 .7l-5.3 2.3l-1.8 .7z" fill="#4077f6"/><path d="M64 117.9l1.8-.5l5.4-1.5l1.9-.5l-2.6 3.9l-1.8 .7l-5.5 2l-1.7 .8z" fill="#3a6df9"/><path d="M69.4 116.4l1.8-.5l5.5-1.4l1.8-.4l-2.6 3.3l-1.8 .6l-5.4 2l-1.8 .6z" fill="#3561fd"/><path d="M74.9 115l1.8-.5l5.5-1.2l5.5-1.2l5.6-1l5.5-.9l5.6-.8l5.7-.6l5.7-.5l5.7-.2l5.7-.1l5.8 0l5.7 0l2 0l-2.4 2.5l-1.9-.1l-5.9-.4l-5.7-.2l-5.8 0l-5.7 .3l-5.7 .5l-5.7 .7l-5.6 1l-5.6 1.2l-5.6 1.3l-5.5 1.5l-5.5 1.7l-1.8 .7z" fill="#325cff"/><path d="M136.8 108l1.9 0l5.8 0l2 .1l-2.4 2.9l-1.9-.2l-5.8-.4l-2-.2z" fill="#335efe"/><path d="M142.6 108l1.9 0l5.9 .3l1.9 .1l-2.3 3.5l-2-.3l-5.8-.8l-2-.1z" fill="#3b6ef9"/><path class="f" d="M148.4 108.2l2 .1l1.9 .1l2 .1l1.9 .2l2 .2l-2.3 4.1l-2-.4l-1.9-.4l-2-.3l-2-.3l-1.9-.3z"/><path class="l" stroke-width="0.68" d="M146.6 110.6l1.9 .3l2 .2l1.9 .3l2 .4l1.9 .3M147 110l2 .2l1.9 .2l2 .3l1.9 .3l2 .3M147.5 109.4l1.9 .1l2 .2l1.9 .2l2 .3l2 .2M148 108.8l1.9 .1l2 .2l1.9 .1l2 .2l1.9 .2M148.4 108.2l2 .1l1.9 .1l2 .1l1.9 .2l2 .2M146.1 111.3l.5-.7l.4-.6l.5-.6l.5-.6l.4-.6M148 111.6l.5-.7l.5-.7l.4-.7l.5-.6l.5-.6M150 111.9l.5-.8l.4-.7l.5-.7l.5-.6l.4-.7M152 112.2l.4-.8l.5-.7l.4-.8l.5-.7l.5-.7M153.9 112.6l.5-.8l.4-.8l.5-.8l.5-.8l.4-.7M155.9 113l.4-.9l.5-.8l.5-.9l.4-.8l.5-.7"/><path class="f" d="M154.3 108.5l1.9 .2l2 .2l1.9 .2l2 .2l2 .2l-2.3 4.7l-2-.4l-1.9-.4l-2-.4l-2-.4l-1.9-.4z"/><path class="l" stroke-width="0.64" d="M152.4 111.4l2 .4l1.9 .3l2 .4l2 .3l1.9 .4M152.9 110.7l1.9 .3l2 .3l2 .3l1.9 .3l2 .3M153.3 109.9l2 .3l2 .2l1.9 .3l2 .3l2 .3M153.8 109.2l2 .2l1.9 .2l2 .3l1.9 .2l2 .3M154.3 108.5l1.9 .2l2 .2l1.9 .2l2 .2l2 .2M152 112.2l.4-.8l.5-.7l.4-.8l.5-.7l.5-.7M153.9 112.6l.5-.8l.4-.8l.5-.8l.5-.8l.4-.7M155.9 113l.4-.9l.5-.8l.5-.9l.4-.8l.5-.7M157.9 113.4l.4-.9l.5-.9l.4-.9l.5-.8l.4-.8M159.8 113.8l.5-1l.4-.9l.5-.9l.4-.9l.5-.8M161.8 114.2l.4-1l.5-1l.5-.9l.4-.9l.5-.9"/><path class="f" d="M160.1 109.1l2 .2l2 .2l1.9 .2l2 .3l2 .2l-2.3 5.4l-2-.5l-1.9-.4l-2-.5l-2-.4l-1.9-.4z"/><path class="l" stroke-width="0.62" d="M158.3 112.5l2 .3l1.9 .4l2 .4l2 .4l2 .4M158.8 111.6l1.9 .3l2 .3l2 .4l1.9 .3l2 .4M159.2 110.7l2 .3l2 .3l1.9 .3l2 .3l2 .3M159.7 109.9l1.9 .2l2 .3l2 .2l1.9 .3l2 .3M160.1 109.1l2 .2l2 .2l1.9 .2l2 .3l2 .2M157.9 113.4l.4-.9l.5-.9l.4-.9l.5-.8l.4-.8M159.8 113.8l.5-1l.4-.9l.5-.9l.4-.9l.5-.8M161.8 114.2l.4-1l.5-1l.5-.9l.4-.9l.5-.9M163.8 114.7l.4-1.1l.5-1l.4-1l.5-1l.4-.9M165.7 115.1l.5-1.1l.4-1.1l.5-1l.4-1l.5-.9M167.7 115.6l.5-1.2l.4-1.1l.5-1.1l.4-1l.5-1"/><path class="f" d="M166 109.7l2 .3l2 .2l1.9 .3l2 .3l2 .3l2 .3l1.9 .4l2 .4l-2.2 6.5l-2-.6l-2-.5l-1.9-.6l-2-.5l-2-.5l-2-.4l-2-.5l-1.9-.4z"/><path class="l" stroke-width="0.60" d="M164.2 113.6l2 .4l2 .4l1.9 .4l2 .5l2 .4l2 .5l2 .6l2 .5M164.7 112.6l1.9 .3l2 .4l2 .4l2 .4l2 .4l1.9 .4l2 .5l2 .5M165.1 111.6l2 .3l2 .3l1.9 .4l2 .3l2 .4l2 .4l2 .5l1.9 .4M165.6 110.6l1.9 .3l2 .3l2 .3l2 .3l1.9 .4l2 .4l2 .4l2 .4M166 109.7l2 .3l2 .2l1.9 .3l2 .3l2 .3l2 .3l1.9 .4l2 .4M163.8 114.7l.4-1.1l.5-1l.4-1l.5-1l.4-.9M165.7 115.1l.5-1.1l.4-1.1l.5-1l.4-1l.5-.9M167.7 115.6l.5-1.2l.4-1.1l.5-1.1l.4-1l.5-1M169.7 116l.4-1.2l.5-1.1l.4-1.1l.5-1.1l.4-1M171.7 116.5l.4-1.2l.5-1.2l.4-1.2l.5-1.1l.4-1M173.7 117l.4-1.3l.5-1.2l.4-1.2l.4-1.1l.5-1.1M175.6 117.6l.5-1.4l.4-1.3l.5-1.2l.4-1.1l.5-1.2M177.6 118.1l.5-1.3l.4-1.4l.5-1.2l.4-1.2l.4-1.2M179.6 118.7l.5-1.4l.4-1.4l.4-1.3l.5-1.2l.4-1.2"/><path class="f" d="M177.9 111.4l1.9 .4l2 .4l2 .4l2 .4l2 .4l2 .4l2 .4l2 .4l2 .5l2 .4l2 .4l-2.2 8.5l-2-.7l-2-.6l-2-.7l-2-.6l-2-.6l-2-.6l-2-.6l-2-.6l-2-.7l-2-.6l-2-.5z"/><path class="l" stroke-width="0.58" d="M176.1 116.2l2 .6l2 .5l2 .6l1.9 .5l2 .6l2 .6l2 .5l2 .6l2 .6l2 .7l2 .6M176.5 114.9l2 .5l2 .5l2 .6l2 .5l2 .5l2 .5l2 .5l2 .6l2 .6l2 .5l2 .6M177 113.7l2 .5l1.9 .4l2 .5l2 .5l2 .5l2 .4l2 .5l2 .5l2 .6l2 .5l2 .5M177.4 112.6l2 .4l2 .4l2 .4l2 .4l2 .5l1.9 .4l2 .5l2 .4l2 .5l2 .5l2 .5M177.9 111.4l1.9 .4l2 .4l2 .4l2 .4l2 .4l2 .4l2 .4l2 .4l2 .5l2 .4l2 .4M175.6 117.6l.5-1.4l.4-1.3l.5-1.2l.4-1.1l.5-1.2M177.6 118.1l.5-1.3l.4-1.4l.5-1.2l.4-1.2l.4-1.2M179.6 118.7l.5-1.4l.4-1.4l.4-1.3l.5-1.2l.4-1.2M181.6 119.4l.5-1.5l.4-1.4l.4-1.4l.5-1.3l.4-1.2M183.6 120l.4-1.6l.5-1.4l.4-1.4l.5-1.4l.4-1.2M185.6 120.6l.4-1.6l.5-1.5l.4-1.4l.5-1.4l.4-1.3M187.6 121.2l.4-1.6l.5-1.6l.4-1.5l.4-1.4l.5-1.3M189.6 121.8l.4-1.7l.5-1.6l.4-1.5l.4-1.4l.5-1.4M191.6 122.4l.4-1.7l.5-1.6l.4-1.6l.4-1.5l.5-1.4M193.6 123.1l.4-1.8l.5-1.6l.4-1.6l.4-1.6l.5-1.4M195.6 123.7l.4-1.7l.5-1.8l.4-1.6l.4-1.6l.5-1.5M197.6 124.4l.4-1.8l.5-1.8l.4-1.7l.4-1.6l.5-1.6"/><path class="f" d="M195.8 115.1l2 .4l2 .4l2 .4l2 .4l2 .4l2 .4l2 .4l2 .4l2.1 .3l2 .4l2 .3l2 .4l2.1 .4l2 .4l2 .4l2.1 .5l2 .4l-2.2 12.4l-2.1-.8l-2-.8l-2-.7l-2-.7l-2.1-.7l-2-.6l-2-.6l-2-.6l-2-.6l-2.1-.6l-2-.6l-2-.6l-2-.6l-2-.7l-2-.6l-2-.7l-2-.6z"/><path class="l" stroke-width="0.57" d="M194 121.3l2 .7l2 .6l2 .5l2 .6l2.1 .6l2 .6l2 .6l2 .5l2 .5l2 .6l2.1 .5l2 .6l2 .6l2 .6l2.1 .7l2 .7l2 .8M194.5 119.7l2 .5l2 .6l2 .5l2 .6l2 .5l2 .5l2 .6l2 .5l2.1 .4l2 .5l2 .5l2 .6l2 .5l2.1 .6l2 .6l2 .6l2.1 .7M194.9 118.1l2 .5l2 .5l2 .5l2 .5l2 .5l2 .4l2.1 .5l2 .5l2 .4l2 .5l2 .4l2.1 .5l2 .5l2 .5l2 .6l2.1 .5l2 .6M195.3 116.5l2 .5l2 .5l2 .4l2.1 .4l2 .5l2 .4l2 .5l2 .4l2 .4l2 .4l2.1 .4l2 .4l2 .4l2.1 .5l2 .5l2 .5l2.1 .5M195.8 115.1l2 .4l2 .4l2 .4l2 .4l2 .4l2 .4l2 .4l2 .4l2.1 .3l2 .4l2 .3l2 .4l2.1 .4l2 .4l2 .4l2.1 .5l2 .4M193.6 123.1l.4-1.8l.5-1.6l.4-1.6l.4-1.6l.5-1.4M195.6 123.7l.4-1.7l.5-1.8l.4-1.6l.4-1.6l.5-1.5M197.6 124.4l.4-1.8l.5-1.8l.4-1.7l.4-1.6l.5-1.6M199.6 125l.4-1.9l.5-1.8l.4-1.7l.4-1.7l.5-1.6M201.6 125.7l.4-2l.5-1.8l.4-1.8l.5-1.8l.4-1.6M203.6 126.3l.5-2l.4-1.9l.4-1.8l.5-1.8l.4-1.7M205.6 126.9l.5-2l.4-2l.4-1.9l.5-1.8l.4-1.7M207.6 127.5l.5-2l.4-2l.5-2l.4-1.8l.4-1.8M209.7 128.1l.4-2.1l.4-2l.5-2l.4-1.9l.4-1.8M211.7 128.7l.4-2.2l.5-2.1l.4-2l.4-1.9l.5-1.9M213.7 129.3l.4-2.2l.5-2.2l.4-2l.4-2l.5-1.9M215.7 129.9l.5-2.3l.4-2.2l.4-2.1l.5-2l.4-2M217.7 130.5l.5-2.3l.4-2.2l.5-2.2l.4-2.1l.4-2M219.8 131.2l.4-2.4l.4-2.3l.5-2.2l.4-2.2l.5-2M221.8 131.9l.4-2.5l.5-2.3l.4-2.3l.5-2.2l.4-2.1M223.8 132.6l.5-2.5l.4-2.4l.4-2.3l.5-2.3l.4-2.2M225.8 133.4l.5-2.6l.4-2.5l.5-2.4l.4-2.3l.5-2.2M227.9 134.2l.4-2.6l.5-2.6l.4-2.5l.5-2.4l.4-2.3"/><path class="f" d="M226 120.9l2.1 .5l2 .4l2 .5l2.1 .5l-2.3 13l-2-.8l-2-.8l-2.1-.8l-2-.8z"/><path class="l" stroke-width="0.56" d="M224.3 130.1l2 .7l2 .8l2 .7l2.1 .8M224.7 127.7l2 .6l2.1 .7l2 .7l2 .7M225.1 125.4l2.1 .5l2 .6l2 .6l2.1 .7M225.6 123.1l2 .5l2.1 .5l2 .6l2 .5M226 120.9l2.1 .5l2 .4l2 .5l2.1 .5M223.8 132.6l.5-2.5l.4-2.4l.4-2.3l.5-2.3l.4-2.2M225.8 133.4l.5-2.6l.4-2.5l.5-2.4l.4-2.3l.5-2.2M227.9 134.2l.4-2.6l.5-2.6l.4-2.5l.5-2.4l.4-2.3M229.9 135l.4-2.7l.5-2.6l.4-2.6l.5-2.4l.4-2.4M231.9 135.8l.5-2.7l.4-2.7l.5-2.6l.4-2.6l.5-2.4"/><path class="f" d="M37.2 132l1.8-.7l1.7-.7l1.8-.7l1.7-.7l1.8-.8l1.7-.7l1.8-.8l-2.5 6.8l-1.8 1l-1.7 1l-1.8 1l-1.7 .9l-1.8 .9l-1.7 .9l-1.7 .9z"/><path class="l" stroke-width="0.61" d="M35.2 138.6l1.8-.9l1.7-.8l1.8-.9l1.7-.9l1.8-.9l1.7-1l1.8-.9M35.7 136.9l1.8-.8l1.7-.8l1.8-.8l1.7-.9l1.8-.9l1.7-.9l1.8-.9M36.2 135.3l1.8-.8l1.7-.8l1.8-.8l1.7-.8l1.8-.8l1.7-.9l1.8-.9M36.7 133.6l1.8-.7l1.7-.7l1.8-.8l1.7-.8l1.8-.8l1.7-.8l1.8-.8M37.2 132l1.8-.7l1.7-.7l1.8-.7l1.7-.7l1.8-.8l1.7-.7l1.8-.8M34.8 140.3l.4-1.7l.5-1.7l.5-1.6l.5-1.7l.5-1.6M36.5 139.4l.5-1.7l.5-1.6l.5-1.6l.5-1.6l.5-1.6M38.2 138.5l.5-1.6l.5-1.6l.5-1.6l.5-1.5l.5-1.6M40 137.6l.5-1.6l.5-1.5l.5-1.6l.5-1.5l.5-1.5M41.7 136.7l.5-1.6l.5-1.5l.5-1.5l.5-1.5l.5-1.4M43.5 135.7l.5-1.5l.5-1.5l.5-1.4l.5-1.5l.5-1.4M45.2 134.7l.5-1.5l.5-1.4l.5-1.4l.5-1.4l.5-1.3M47 133.7l.5-1.4l.5-1.4l.5-1.4l.5-1.3l.5-1.3"/><path class="f" d="M46 128.4l1.7-.7l1.8-.8l1.8-.8l1.7-.7l1.8-.8l-2.5 6.1l-1.8 1l-1.8 1l-1.7 1l-1.8 1l-1.7 1z"/><path class="l" stroke-width="0.64" d="M44 134.2l1.7-1l1.8-.9l1.7-1l1.8-.9l1.8-.9M44.5 132.7l1.7-.9l1.8-.9l1.8-.9l1.7-.9l1.8-.9M45 131.3l1.7-.9l1.8-.9l1.8-.8l1.7-.9l1.8-.8M45.5 129.8l1.7-.8l1.8-.8l1.8-.8l1.7-.8l1.8-.8M46 128.4l1.7-.7l1.8-.8l1.8-.8l1.7-.7l1.8-.8M43.5 135.7l.5-1.5l.5-1.5l.5-1.4l.5-1.5l.5-1.4M45.2 134.7l.5-1.5l.5-1.4l.5-1.4l.5-1.4l.5-1.3M47 133.7l.5-1.4l.5-1.4l.5-1.4l.5-1.3l.5-1.3M48.7 132.7l.5-1.4l.6-1.3l.5-1.3l.5-1.3l.5-1.3M50.5 131.7l.5-1.3l.5-1.3l.5-1.3l.5-1.2l.5-1.2M52.3 130.7l.5-1.2l.5-1.3l.5-1.2l.5-1.2l.5-1.2"/><path class="f" d="M51.3 126.1l1.7-.7l1.8-.8l1.8-.7l1.8-.7l1.8-.7l-2.6 5.4l-1.8 .9l-1.8 1l-1.7 .9l-1.8 1l-1.8 1z"/><path class="l" stroke-width="0.66" d="M49.2 131.3l1.8-.9l1.8-.9l1.8-.9l1.7-.9l1.8-.9M49.8 130l1.7-.9l1.8-.9l1.8-.8l1.7-.9l1.8-.8M50.3 128.7l1.7-.9l1.8-.8l1.8-.8l1.8-.8l1.7-.8M50.8 127.4l1.7-.8l1.8-.8l1.8-.8l1.8-.7l1.8-.8M51.3 126.1l1.7-.7l1.8-.8l1.8-.7l1.8-.7l1.8-.7M48.7 132.7l.5-1.4l.6-1.3l.5-1.3l.5-1.3l.5-1.3M50.5 131.7l.5-1.3l.5-1.3l.5-1.3l.5-1.2l.5-1.2M52.3 130.7l.5-1.2l.5-1.3l.5-1.2l.5-1.2l.5-1.2M54 129.8l.6-1.2l.5-1.2l.5-1.2l.5-1.2l.5-1.1M55.8 128.8l.5-1.1l.5-1.2l.6-1.1l.5-1.1l.5-1.1M57.6 127.9l.5-1.1l.5-1.1l.5-1.1l.6-1.1l.5-1"/><path d="M56.6 123.9l1.8-.7l5.4-2.1l1.8-.7l-2.6 4.8l-1.8 .9l-5.4 2.7l-1.8 1z" fill="#3f76f6"/><path d="M62 121.8l1.8-.7l5.4-2l1.8-.6l-2.6 4.1l-1.8 .8l-5.4 2.7l-1.8 .9z" fill="#3a6cfa"/><path d="M67.4 119.8l1.8-.7l5.4-1.8l1.9-.5l-2.7 3.4l-1.8 .8l-5.4 2.4l-1.8 .9z" fill="#345ffe"/><path d="M72.8 117.9l1.8-.6l5.5-1.6l5.5-1.4l5.6-1.3l5.6-1.1l5.6-1l5.7-.7l5.7-.5l5.7-.2l5.7 0l5.8 .1l5.8 .3l2 .1l-2.4 2.6l-2-.3l-5.8-.6l-5.8-.4l-5.8-.2l-5.7 .3l-5.8 .6l-5.6 .8l-5.7 1.2l-5.6 1.4l-5.6 1.6l-5.5 1.8l-5.5 2.2l-1.8 .8z" fill="#325cff"/><path d="M134.9 109.8l1.9 .1l5.9 .4l1.9 .1l-2.4 3.2l-1.9-.4l-5.9-.9l-1.9-.2z" fill="#3766fb"/><path d="M140.7 110.1l2 .2l5.8 .6l2 .2l-2.4 3.8l-1.9-.5l-5.9-1.2l-2-.3z" fill="#4078f5"/><path class="f" d="M146.6 110.6l1.9 .3l2 .2l1.9 .3l2 .4l1.9 .3l-2.3 4.6l-1.9-.6l-2-.6l-2-.6l-1.9-.5l-2-.4z"/><path class="l" stroke-width="0.65" d="M144.7 113.3l1.9 .4l2 .4l2 .5l1.9 .6l2 .5M145.1 112.6l2 .4l2 .4l1.9 .4l2 .5l2 .5M145.6 111.9l2 .4l1.9 .3l2 .4l2 .4l1.9 .5M146.1 111.3l1.9 .3l2 .3l2 .3l1.9 .4l2 .4M146.6 110.6l1.9 .3l2 .2l1.9 .3l2 .4l1.9 .3M144.2 114l.5-.7l.4-.7l.5-.7l.5-.6l.5-.7M146.2 114.4l.4-.7l.5-.7l.5-.7l.4-.7l.5-.7M148.1 114.9l.5-.8l.5-.7l.4-.8l.5-.7l.5-.8M150.1 115.5l.5-.9l.4-.8l.5-.8l.5-.8l.4-.8M152.1 116.1l.4-.9l.5-.9l.5-.9l.4-.8l.5-.8M154 116.7l.5-1l.5-.9l.4-.9l.5-.9l.4-.9"/><path class="f" d="M152.4 111.4l2 .4l1.9 .3l2 .4l2 .3l1.9 .4l-2.2 5.4l-2-.6l-2-.7l-2-.6l-1.9-.6l-2-.6z"/><path class="l" stroke-width="0.62" d="M150.6 114.6l1.9 .6l2 .5l2 .6l1.9 .6l2 .6M151 113.8l2 .5l2 .5l1.9 .5l2 .5l2 .6M151.5 113l2 .4l1.9 .5l2 .4l2 .5l1.9 .5M152 112.2l1.9 .4l2 .4l2 .4l1.9 .4l2 .4M152.4 111.4l2 .4l1.9 .3l2 .4l2 .3l1.9 .4M150.1 115.5l.5-.9l.4-.8l.5-.8l.5-.8l.4-.8M152.1 116.1l.4-.9l.5-.9l.5-.9l.4-.8l.5-.8M154 116.7l.5-1l.5-.9l.4-.9l.5-.9l.4-.9M156 117.3l.5-1l.4-1l.5-1l.5-.9l.4-.9M158 118l.4-1.1l.5-1.1l.5-1l.4-1l.5-1M160 118.6l.4-1.1l.5-1.1l.4-1.1l.5-1.1l.4-1"/><path class="f" d="M158.3 112.5l2 .3l1.9 .4l2 .4l2 .4l2 .4l-2.3 6.2l-2-.7l-2-.6l-1.9-.7l-2-.6l-2-.7z"/><path class="l" stroke-width="0.60" d="M156.5 116.3l1.9 .6l2 .6l2 .6l2 .6l2 .6M156.9 115.3l2 .5l2 .6l2 .5l1.9 .5l2 .6M157.4 114.3l2 .5l1.9 .5l2 .5l2 .5l2 .5M157.9 113.4l1.9 .4l2 .4l2 .5l1.9 .4l2 .5M158.3 112.5l2 .3l1.9 .4l2 .4l2 .4l2 .4M156 117.3l.5-1l.4-1l.5-1l.5-.9l.4-.9M158 118l.4-1.1l.5-1.1l.5-1l.4-1l.5-1M160 118.6l.4-1.1l.5-1.1l.4-1.1l.5-1.1l.4-1M161.9 119.3l.5-1.2l.5-1.2l.4-1.1l.5-1.1l.4-1.1M163.9 119.9l.5-1.2l.4-1.3l.5-1.1l.4-1.2l.5-1.1M165.9 120.6l.5-1.3l.4-1.3l.5-1.2l.4-1.2l.5-1.2"/><path class="f" d="M164.2 113.6l2 .4l2 .4l1.9 .4l2 .5l2 .4l2 .5l2 .6l2 .5l2 .6l1.9 .5l2 .6l-2.2 8.4l-2-.7l-2-.8l-2-.8l-2-.8l-2-.8l-1.9-.8l-2-.7l-2-.7l-2-.7l-2-.7l-2-.6z"/><path class="l" stroke-width="0.59" d="M162.4 118.1l2 .6l2 .6l1.9 .6l2 .6l2 .7l2 .7l2 .7l2 .8l2 .8l2 .7l2 .7M162.9 116.9l1.9 .5l2 .6l2 .6l2 .6l2 .6l1.9 .6l2 .7l2 .7l2 .7l2 .7l2 .7M163.3 115.8l2 .5l2 .5l1.9 .5l2 .5l2 .6l2 .6l2 .6l2 .6l2 .7l2 .7l1.9 .6M163.8 114.7l1.9 .4l2 .5l2 .4l2 .5l2 .5l1.9 .6l2 .5l2 .6l2 .7l2 .6l2 .6M164.2 113.6l2 .4l2 .4l1.9 .4l2 .5l2 .4l2 .5l2 .6l2 .5l2 .6l1.9 .5l2 .6M161.9 119.3l.5-1.2l.5-1.2l.4-1.1l.5-1.1l.4-1.1M163.9 119.9l.5-1.2l.4-1.3l.5-1.1l.4-1.2l.5-1.1M165.9 120.6l.5-1.3l.4-1.3l.5-1.2l.4-1.2l.5-1.2M167.9 121.3l.4-1.4l.5-1.3l.4-1.3l.5-1.3l.4-1.2M169.9 122l.4-1.5l.5-1.3l.4-1.4l.5-1.3l.4-1.2M171.9 122.7l.4-1.5l.5-1.4l.4-1.4l.5-1.4l.4-1.3M173.8 123.5l.5-1.6l.4-1.5l.5-1.4l.4-1.4l.5-1.4M175.8 124.3l.5-1.7l.4-1.5l.5-1.5l.4-1.5l.5-1.3M177.8 125.1l.5-1.7l.4-1.6l.5-1.6l.4-1.5l.5-1.4M179.8 125.9l.5-1.7l.4-1.7l.5-1.6l.4-1.5l.5-1.5M181.8 126.7l.5-1.8l.4-1.7l.5-1.6l.4-1.6l.4-1.6M183.8 127.4l.5-1.8l.4-1.7l.4-1.7l.5-1.6l.4-1.6"/><path class="f" d="M182.1 117.9l1.9 .5l2 .6l2 .6l2 .5l2 .6l2 .6l2 .7l2 .6l2 .5l2 .6l2.1 .6l2 .6l2 .6l2 .5l2 .5l2 .6l2.1 .5l-2.3 12.1l-2-.8l-2-.9l-2-.8l-2-.8l-2.1-.8l-2-.8l-2-.8l-2-.8l-2-.8l-2-.9l-2-.8l-2-.9l-2-.8l-2-.8l-2-.8l-2-.7l-2-.8z"/><path class="l" stroke-width="0.57" d="M180.3 124.2l2 .7l2 .7l2 .8l2 .7l2 .8l2 .8l2 .8l2 .8l2 .8l2 .8l2 .7l2 .8l2 .7l2 .8l2 .7l2.1 .8l2 .7M180.7 122.5l2 .7l2 .7l2 .7l2 .7l2 .7l2 .8l2 .7l2 .8l2 .7l2 .7l2 .8l2 .7l2.1 .7l2 .6l2 .7l2 .7l2 .7M181.2 120.9l2 .7l1.9 .6l2 .6l2 .7l2 .7l2 .7l2 .7l2 .7l2.1 .7l2 .7l2 .7l2 .6l2 .7l2 .6l2 .6l2 .7l2.1 .6M181.6 119.4l2 .6l2 .6l2 .6l2 .6l2 .6l2 .7l2 .6l2 .7l2 .6l2 .7l2 .6l2 .6l2 .6l2.1 .6l2 .6l2 .6l2 .6M182.1 117.9l1.9 .5l2 .6l2 .6l2 .5l2 .6l2 .6l2 .7l2 .6l2 .5l2 .6l2.1 .6l2 .6l2 .6l2 .5l2 .5l2 .6l2.1 .5M179.8 125.9l.5-1.7l.4-1.7l.5-1.6l.4-1.5l.5-1.5M181.8 126.7l.5-1.8l.4-1.7l.5-1.6l.4-1.6l.4-1.6M183.8 127.4l.5-1.8l.4-1.7l.4-1.7l.5-1.6l.4-1.6M185.8 128.2l.5-1.8l.4-1.8l.4-1.8l.5-1.6l.4-1.6M187.8 129l.5-1.9l.4-1.8l.4-1.8l.5-1.7l.4-1.7M189.8 129.8l.5-1.9l.4-1.9l.4-1.8l.5-1.8l.4-1.7M191.8 130.7l.5-2l.4-1.9l.4-1.9l.5-1.8l.4-1.8M193.8 131.5l.5-2l.4-2l.4-1.9l.5-1.9l.4-1.7M195.8 132.4l.5-2.1l.4-2l.4-2l.5-1.9l.4-1.8M197.8 133.2l.5-2.1l.4-2.1l.5-2l.4-2l.4-1.9M199.8 134l.5-2.1l.4-2.2l.5-2l.4-2l.4-2M201.8 134.8l.5-2.2l.4-2.1l.5-2.1l.4-2.1l.5-2M203.8 135.6l.5-2.2l.4-2.2l.5-2.2l.4-2.1l.5-2M205.9 136.4l.4-2.3l.5-2.2l.4-2.2l.4-2.2l.5-2M207.9 137.2l.4-2.3l.5-2.4l.4-2.2l.5-2.2l.4-2.1M209.9 138l.4-2.4l.5-2.4l.4-2.3l.5-2.2l.4-2.2M211.9 138.9l.5-2.5l.4-2.5l.4-2.3l.5-2.3l.4-2.2M213.9 139.7l.5-2.6l.4-2.5l.5-2.4l.4-2.3l.5-2.3"/><path class="f" d="M212.1 126.5l2 .6l2.1 .5l2 .6l2 .6l2 .6l2.1 .7l2 .7l2 .8l2 .7l2.1 .8l-2.3 14.7l-2-1.1l-2.1-1.1l-2-1.1l-2-1.1l-2-1.1l-2-.9l-2.1-.9l-2-.8l-2-.8l-2-.9z"/><path class="l" stroke-width="0.56" d="M210.3 135.6l2.1 .8l2 .7l2 .8l2 .8l2 .9l2.1 1l2 1l2 1l2 1l2 1.1M210.8 133.2l2 .7l2 .7l2 .8l2.1 .7l2 .9l2 .8l2 1l2.1 .9l2 1l2 .9M211.2 130.9l2 .7l2.1 .6l2 .7l2 .7l2 .8l2.1 .8l2 .8l2 .9l2 .9l2.1 .9M211.7 128.7l2 .6l2 .6l2 .6l2.1 .7l2 .7l2 .7l2 .8l2.1 .8l2 .8l2 .8M212.1 126.5l2 .6l2.1 .5l2 .6l2 .6l2 .6l2.1 .7l2 .7l2 .8l2 .7l2.1 .8M209.9 138l.4-2.4l.5-2.4l.4-2.3l.5-2.2l.4-2.2M211.9 138.9l.5-2.5l.4-2.5l.4-2.3l.5-2.3l.4-2.2M213.9 139.7l.5-2.6l.4-2.5l.5-2.4l.4-2.3l.5-2.3M215.9 140.5l.5-2.6l.4-2.5l.5-2.5l.4-2.4l.5-2.3M218 141.4l.4-2.7l.5-2.6l.4-2.5l.5-2.4l.4-2.4M220 142.3l.4-2.7l.5-2.6l.4-2.6l.5-2.5l.4-2.5M222 143.4l.5-2.8l.4-2.8l.5-2.6l.4-2.6l.5-2.5M224 144.5l.5-2.9l.4-2.8l.5-2.8l.4-2.6l.5-2.6M226 145.6l.5-3l.5-2.9l.4-2.8l.5-2.7l.4-2.6M228.1 146.7l.4-3.1l.5-2.9l.4-2.9l.5-2.8l.4-2.7M230.1 147.8l.4-3.1l.5-3.1l.5-2.9l.4-2.9l.5-2.7"/><path class="f" d="M35.2 138.6l1.8-.9l1.7-.8l1.8-.9l1.7-.9l-2.5 7.9l-1.7 1.1l-1.7 1.1l-1.8 1.1l-1.7 1z"/><path class="l" stroke-width="0.61" d="M32.8 147.3l1.7-1l1.8-1.1l1.7-1.1l1.7-1.1M33.3 145.5l1.7-1l1.8-1l1.7-1l1.7-1.1M33.8 143.8l1.7-1l1.7-1l1.8-1l1.7-1M34.3 142l1.7-.9l1.7-.9l1.8-1l1.7-1M34.8 140.3l1.7-.9l1.7-.9l1.8-.9l1.7-.9M35.2 138.6l1.8-.9l1.7-.8l1.8-.9l1.7-.9M32.8 147.3l.5-1.8l.5-1.7l.5-1.8l.5-1.7l.4-1.7M34.5 146.3l.5-1.8l.5-1.7l.5-1.7l.5-1.7l.5-1.7M36.3 145.2l.5-1.7l.4-1.7l.5-1.6l.5-1.7l.5-1.6M38 144.1l.5-1.6l.5-1.7l.5-1.6l.5-1.6l.5-1.6M39.7 143l.5-1.6l.5-1.6l.5-1.6l.5-1.5l.5-1.6"/><path class="f" d="M38.7 136.9l1.8-.9l1.7-.9l1.8-.9l1.7-1l1.8-.9l1.7-1l1.8-.9l1.8-.9l-2.6 6.5l-1.7 1.2l-1.8 1.1l-1.7 1.2l-1.8 1.2l-1.7 1.2l-1.8 1.1l-1.7 1.1l-1.7 1.1z"/><path class="l" stroke-width="0.63" d="M36.3 145.2l1.7-1.1l1.7-1.1l1.8-1.1l1.7-1.2l1.8-1.2l1.7-1.2l1.8-1.1l1.7-1.2M36.8 143.5l1.7-1l1.7-1.1l1.8-1.1l1.7-1.1l1.8-1.2l1.7-1.1l1.8-1.1l1.7-1.2M37.2 141.8l1.8-1l1.7-1l1.8-1.1l1.7-1l1.8-1.1l1.7-1.1l1.8-1.1l1.8-1.1M37.7 140.2l1.8-1l1.7-1l1.8-1l1.7-1l1.8-1.1l1.7-1l1.8-1.1l1.8-1M38.2 138.5l1.8-.9l1.7-.9l1.8-1l1.7-1l1.8-1l1.7-1l1.8-1l1.8-1M38.7 136.9l1.8-.9l1.7-.9l1.8-.9l1.7-1l1.8-.9l1.7-1l1.8-.9l1.8-.9M36.3 145.2l.5-1.7l.4-1.7l.5-1.6l.5-1.7l.5-1.6M38 144.1l.5-1.6l.5-1.7l.5-1.6l.5-1.6l.5-1.6M39.7 143l.5-1.6l.5-1.6l.5-1.6l.5-1.5l.5-1.6M41.5 141.9l.5-1.6l.5-1.6l.5-1.5l.5-1.5l.5-1.5M43.2 140.7l.5-1.5l.5-1.5l.5-1.5l.5-1.5l.5-1.5M45 139.5l.5-1.5l.5-1.4l.5-1.5l.5-1.4l.5-1.4M46.7 138.3l.5-1.4l.5-1.4l.5-1.4l.5-1.4l.5-1.4M48.5 137.2l.5-1.4l.5-1.4l.5-1.4l.5-1.3l.5-1.3M50.2 136l.5-1.4l.6-1.3l.5-1.3l.5-1.3l.5-1.2"/><path class="f" d="M49.2 131.3l1.8-.9l1.8-.9l1.8-.9l1.7-.9l1.8-.9l-2.6 5.8l-1.7 1.1l-1.8 1.1l-1.8 1.2l-1.7 1.2l-1.8 1.1z"/><path class="l" stroke-width="0.66" d="M46.7 138.3l1.8-1.1l1.7-1.2l1.8-1.2l1.8-1.1l1.7-1.1M47.2 136.9l1.8-1.1l1.7-1.2l1.8-1.1l1.8-1l1.8-1.1M47.7 135.5l1.8-1.1l1.8-1.1l1.7-1l1.8-1.1l1.8-1M48.2 134.1l1.8-1.1l1.8-1l1.7-1l1.8-1l1.8-1M48.7 132.7l1.8-1l1.8-1l1.7-.9l1.8-1l1.8-.9M49.2 131.3l1.8-.9l1.8-.9l1.8-.9l1.7-.9l1.8-.9M46.7 138.3l.5-1.4l.5-1.4l.5-1.4l.5-1.4l.5-1.4M48.5 137.2l.5-1.4l.5-1.4l.5-1.4l.5-1.3l.5-1.3M50.2 136l.5-1.4l.6-1.3l.5-1.3l.5-1.3l.5-1.2M52 134.8l.5-1.3l.5-1.2l.5-1.3l.5-1.2l.6-1.2M53.8 133.7l.5-1.2l.5-1.3l.5-1.2l.5-1.2l.5-1.1M55.5 132.6l.6-1.2l.5-1.2l.5-1.2l.5-1.1l.5-1.1"/><path d="M54.6 128.6l1.7-.9l5.4-2.7l1.8-.8l-2.6 5l-1.8 1.1l-5.3 3.4l-1.8 1.1z" fill="#3e73f7"/><path d="M59.9 125.9l1.8-.9l5.4-2.4l1.8-.8l-2.6 4.3l-1.8 1l-5.4 3.2l-1.8 1.1z" fill="#3766fb"/><path d="M65.3 123.4l1.8-.8l5.4-2.4l5.5-2l5.6-1.7l5.5-1.5l5.6-1.4l5.7-1.1l5.7-.9l5.7-.6l5.7-.2l5.8 .1l5.8 .4l1.9 .1l-2.4 2.4l-2-.3l-5.8-.7l-5.8-.3l-5.8 .2l-5.7 .7l-5.7 .9l-5.7 1.3l-5.6 1.8l-5.6 1.8l-5.5 2.2l-5.5 2.7l-5.4 3l-1.8 1z" fill="#325cff"/><path d="M127.1 111.1l2 .2l5.8 .5l2 .3l-2.4 2.8l-2-.4l-5.9-1l-1.9-.3z" fill="#3460fe"/><path d="M133 111.6l1.9 .2l5.9 .8l1.9 .3l-2.4 3.5l-1.9-.5l-5.9-1.4l-2-.4z" fill="#3e73f7"/><path class="f" d="M138.8 112.3l2 .3l1.9 .3l2 .4l1.9 .4l2 .4l-2.3 4.2l-2-.7l-2-.6l-2-.6l-1.9-.5l-2-.5z"/><path class="l" stroke-width="0.67" d="M136.4 115.4l2 .5l1.9 .5l2 .6l2 .6l2 .7M136.9 114.7l2 .5l1.9 .5l2 .5l2 .6l1.9 .7M137.4 114.1l1.9 .4l2 .5l2 .4l1.9 .6l2 .6M137.9 113.5l1.9 .4l2 .4l1.9 .4l2 .5l2 .6M138.3 112.9l2 .3l1.9 .4l2 .4l2 .4l1.9 .5M138.8 112.3l2 .3l1.9 .3l2 .4l1.9 .4l2 .4M136.4 115.4l.5-.7l.5-.6l.5-.6l.4-.6l.5-.6M138.4 115.9l.5-.7l.4-.7l.5-.6l.5-.7l.5-.6M140.3 116.4l.5-.7l.5-.7l.5-.7l.4-.7l.5-.7M142.3 117l.5-.8l.5-.8l.4-.7l.5-.7l.5-.7M144.3 117.6l.5-.8l.4-.8l.5-.8l.5-.8l.4-.7M146.3 118.3l.4-.8l.5-.9l.5-.8l.4-.9l.5-.8"/><path class="f" d="M144.7 113.3l1.9 .4l2 .4l2 .5l1.9 .6l2 .5l-2.3 5.1l-2-.8l-2-.9l-1.9-.8l-2-.7l-2-.6z"/><path class="l" stroke-width="0.63" d="M142.3 117l2 .6l2 .7l1.9 .8l2 .9l2 .8M142.8 116.2l2 .6l1.9 .7l2 .7l2 .8l1.9 .8M143.3 115.4l1.9 .6l2 .6l2 .7l1.9 .7l2 .7M143.7 114.7l2 .5l2 .6l1.9 .6l2 .6l2 .7M144.2 114l2 .4l1.9 .5l2 .6l2 .6l1.9 .6M144.7 113.3l1.9 .4l2 .4l2 .5l1.9 .6l2 .5M142.3 117l.5-.8l.5-.8l.4-.7l.5-.7l.5-.7M144.3 117.6l.5-.8l.4-.8l.5-.8l.5-.8l.4-.7M146.3 118.3l.4-.8l.5-.9l.5-.8l.4-.9l.5-.8M148.2 119.1l.5-.9l.5-.9l.4-.9l.5-.9l.5-.9M150.2 120l.5-1l.4-1l.5-1l.5-.9l.4-.9M152.2 120.8l.4-1l.5-1.1l.5-1l.4-1l.5-1"/><path class="f" d="M150.6 114.6l1.9 .6l2 .5l2 .6l1.9 .6l2 .6l2 .6l2 .6l2 .6l-2.3 6.8l-2-.9l-2-.9l-2-.9l-2-.9l-1.9-.8l-2-.9l-2-.8l-2-.9z"/><path class="l" stroke-width="0.60" d="M148.2 119.1l2 .9l2 .8l2 .9l1.9 .8l2 .9l2 .9l2 .9l2 .9M148.7 118.2l2 .8l1.9 .8l2 .8l2 .8l2 .8l2 .8l2 .9l1.9 .8M149.2 117.3l1.9 .7l2 .7l2 .8l2 .7l1.9 .8l2 .8l2 .7l2 .8M149.6 116.4l2 .6l2 .7l2 .7l1.9 .7l2 .7l2 .7l2 .7l1.9 .8M150.1 115.5l2 .6l1.9 .6l2 .6l2 .7l2 .6l1.9 .7l2 .6l2 .7M150.6 114.6l1.9 .6l2 .5l2 .6l1.9 .6l2 .6l2 .6l2 .6l2 .6M148.2 119.1l.5-.9l.5-.9l.4-.9l.5-.9l.5-.9M150.2 120l.5-1l.4-1l.5-1l.5-.9l.4-.9M152.2 120.8l.4-1l.5-1.1l.5-1l.4-1l.5-1M154.2 121.7l.4-1.1l.5-1.1l.5-1.1l.4-1.1l.5-1M156.1 122.5l.5-1.1l.5-1.2l.4-1.1l.5-1.1l.4-1.1M158.1 123.4l.5-1.2l.4-1.2l.5-1.2l.5-1.2l.4-1.1M160.1 124.3l.5-1.3l.4-1.2l.5-1.3l.4-1.2l.5-1.2M162.1 125.2l.5-1.3l.4-1.4l.5-1.3l.4-1.3l.5-1.2M164.1 126.1l.4-1.4l.5-1.4l.4-1.3l.5-1.4l.5-1.3"/><path class="f" d="M162.4 118.1l2 .6l2 .6l1.9 .6l2 .6l2 .7l2 .7l2 .7l2 .8l-2.3 8.6l-2-1l-2-1l-2-1l-1.9-1l-2-.9l-2-1l-2-.9l-2-.9z"/><path class="l" stroke-width="0.58" d="M160.1 124.3l2 .9l2 .9l2 1l2 .9l1.9 1l2 1l2 1l2 1M160.6 123l2 .9l1.9 .8l2 .9l2 .9l2 .9l2 .9l2 1l2 1M161 121.8l2 .7l2 .8l2 .8l2 .8l2 .9l1.9 .9l2 .9l2 .9M161.5 120.5l2 .7l1.9 .8l2 .7l2 .7l2 .8l2 .8l2 .9l2 .9M161.9 119.3l2 .6l2 .7l2 .7l2 .7l2 .7l1.9 .8l2 .8l2 .8M162.4 118.1l2 .6l2 .6l1.9 .6l2 .6l2 .7l2 .7l2 .7l2 .8M160.1 124.3l.5-1.3l.4-1.2l.5-1.3l.4-1.2l.5-1.2M162.1 125.2l.5-1.3l.4-1.4l.5-1.3l.4-1.3l.5-1.2M164.1 126.1l.4-1.4l.5-1.4l.4-1.3l.5-1.4l.5-1.3M166.1 127.1l.4-1.5l.5-1.5l.4-1.4l.5-1.4l.4-1.4M168.1 128l.4-1.5l.5-1.6l.4-1.5l.5-1.4l.4-1.5M170 129l.5-1.6l.5-1.6l.4-1.6l.5-1.5l.4-1.5M172 130l.5-1.7l.4-1.6l.5-1.7l.4-1.5l.5-1.6M174 131l.5-1.7l.4-1.7l.5-1.7l.4-1.6l.5-1.7M176 132l.5-1.7l.4-1.8l.5-1.7l.4-1.7l.5-1.7"/><path class="f" d="M174.3 121.9l2 .7l2 .8l2 .8l2 .7l2 .7l2 .8l2 .7l2 .8l2 .8l2 .8l2 .8l2 .8l2 .8l2 .7l2 .8l2 .7l2 .8l-2.2 12.4l-2-1.1l-2-1l-2.1-1l-2-1l-2-1.1l-2-1l-2-1l-2-1l-2-1.1l-2-1l-2-1l-2-1l-2-.9l-2-1l-2-1.1l-2-1l-2-1z"/><path class="l" stroke-width="0.57" d="M172 130l2 1l2 1l2 1.1l2 1l2 .9l2 1l2 1l2 1l2 1.1l2 1l2 1l2 1l2 1.1l2 1l2.1 1l2 1l2 1.1M172.5 128.3l2 1l2 1l2 .9l2 1l2 .9l2 .9l2 .9l2 1l2 1l2 1l2 1l2 .9l2 1l2 1l2 .9l2 1l2 1M172.9 126.7l2 .9l2 .9l2 .9l2 .9l2 .9l2 .8l2 .9l2 .9l2 1l2 .9l2 1l2 .9l2 .9l2 .9l2.1 .9l2 .9l2 .9M173.4 125l2 .9l2 .9l2 .8l2 .9l2 .8l2 .8l2 .8l2 .9l2 .9l2 .9l2 .9l2 .9l2 .8l2 .9l2 .8l2 .9l2 .9M173.8 123.5l2 .8l2 .8l2 .8l2 .8l2 .7l2 .8l2 .8l2 .8l2 .9l2 .8l2 .9l2 .8l2 .8l2 .8l2 .8l2.1 .8l2 .8M174.3 121.9l2 .7l2 .8l2 .8l2 .7l2 .7l2 .8l2 .7l2 .8l2 .8l2 .8l2 .8l2 .8l2 .8l2 .7l2 .8l2 .7l2 .8M172 130l.5-1.7l.4-1.6l.5-1.7l.4-1.5l.5-1.6M174 131l.5-1.7l.4-1.7l.5-1.7l.4-1.6l.5-1.7M176 132l.5-1.7l.4-1.8l.5-1.7l.4-1.7l.5-1.7M178 133.1l.5-1.9l.4-1.8l.5-1.8l.4-1.7l.5-1.7M180 134.1l.5-1.9l.4-1.9l.5-1.8l.4-1.8l.5-1.8M182 135l.5-1.9l.4-1.9l.5-1.9l.4-1.9l.5-1.8M184 136l.5-2l.4-2l.5-1.9l.4-1.9l.5-1.8M186 137l.5-2.1l.4-2l.5-2l.4-1.9l.5-1.9M188 138l.5-2.1l.4-2.1l.5-2l.4-2l.5-1.9M190 139.1l.5-2.2l.4-2.1l.5-2.1l.4-2l.5-2M192 140.1l.5-2.2l.4-2.2l.5-2.1l.4-2.1l.5-2M194 141.1l.5-2.2l.4-2.2l.5-2.2l.4-2.1l.5-2.1M196 142.1l.5-2.3l.4-2.2l.5-2.2l.4-2.2l.5-2.1M198 143.2l.5-2.4l.4-2.3l.5-2.3l.4-2.2l.5-2.1M200 144.2l.5-2.4l.4-2.4l.5-2.3l.4-2.3l.5-2.2M202.1 145.2l.4-2.5l.5-2.4l.4-2.4l.4-2.3l.5-2.2M204.1 146.2l.4-2.5l.5-2.5l.4-2.4l.5-2.4l.4-2.3M206.1 147.3l.4-2.6l.5-2.6l.4-2.4l.5-2.5l.4-2.3"/><path class="f" d="M204.3 133.4l2 .7l2 .8l2 .7l2.1 .8l2 .7l2 .8l2 .8l2 .9l2.1 1l2 1l2 1l2 1l2 1.1l-2.3 16.4l-2-1.4l-2-1.4l-2-1.5l-2-1.4l-2.1-1.3l-2-1.2l-2-1.1l-2-1.1l-2-1.1l-2-1.2l-2-1.1l-2-1.1l-2-1z"/><path class="l" stroke-width="0.56" d="M202.1 145.2l2 1l2 1.1l2 1.1l2 1.2l2 1.1l2 1.1l2 1.1l2 1.2l2.1 1.3l2 1.4l2 1.5l2 1.4l2 1.4M202.5 142.7l2 1l2 1l2 1l2 1.1l2.1 1.1l2 1l2 1l2 1.2l2 1.2l2 1.4l2 1.3l2.1 1.4l2 1.3M203 140.3l2 .9l2 .9l2 1l2 1l2 1l2 .9l2.1 1l2 1.1l2 1.1l2 1.3l2 1.3l2 1.3l2 1.2M203.4 137.9l2 .9l2 .9l2 .8l2.1 1l2 .9l2 .8l2 1l2 1l2 1.1l2.1 1.1l2 1.2l2 1.2l2 1.2M203.8 135.6l2.1 .8l2 .8l2 .8l2 .9l2 .8l2 .8l2.1 .9l2 .9l2 1.1l2 1.1l2 1.1l2.1 1.1l2 1.1M204.3 133.4l2 .7l2 .8l2 .7l2.1 .8l2 .7l2 .8l2 .8l2 .9l2.1 1l2 1l2 1l2 1l2 1.1M202.1 145.2l.4-2.5l.5-2.4l.4-2.4l.4-2.3l.5-2.2M204.1 146.2l.4-2.5l.5-2.5l.4-2.4l.5-2.4l.4-2.3M206.1 147.3l.4-2.6l.5-2.6l.4-2.4l.5-2.5l.4-2.3M208.1 148.4l.4-2.7l.5-2.6l.4-2.6l.5-2.5l.4-2.4M210.1 149.6l.4-2.8l.5-2.7l.5-2.6l.4-2.6l.5-2.5M212.1 150.7l.5-2.8l.4-2.8l.5-2.7l.4-2.7l.5-2.6M214.1 151.8l.5-2.9l.4-2.9l.5-2.8l.4-2.7l.5-2.6M216.1 152.9l.5-3l.5-2.9l.4-2.8l.5-2.8l.4-2.7M218.1 154.1l.5-3l.5-3l.4-2.9l.5-2.9l.4-2.7M220.2 155.4l.4-3.1l.5-3.1l.4-2.9l.5-2.9l.5-2.8M222.2 156.8l.4-3.1l.5-3.2l.5-3.1l.4-2.9l.5-2.9M224.2 158.3l.4-3.3l.5-3.2l.5-3.2l.4-3l.5-3M226.2 159.7l.5-3.3l.4-3.3l.5-3.3l.5-3.1l.4-3.1M228.2 161.1l.5-3.4l.4-3.4l.5-3.3l.5-3.2l.4-3.1"/></g>
<g stroke="#222" stroke-width="0.6" stroke-dasharray="0.8 1.0" fill="none"><line x1="28.3" y1="66.4" x2="230.1" y2="94.0" /><line x1="230.1" y1="94.0" x2="284.8" y2="24.7" /><line x1="230.1" y1="94.0" x2="224.8" y2="284.3" /></g>
<g font-size="10px" fill="#111"><text x="83.7" y="279.2" text-anchor="middle">2</text><text x="138.0" y="289.7" text-anchor="middle">4</text><text x="194.2" y="300.5" text-anchor="middle">6</text><text x="235.4" y="300.5" text-anchor="middle">0</text><text x="245.1" y="283.4" text-anchor="middle">5</text><text x="254.3" y="267.2" text-anchor="middle">10</text><text x="263.1" y="251.8" text-anchor="middle">15</text><text x="271.5" y="237.1" text-anchor="middle">20</text><text x="279.5" y="223.1" text-anchor="middle">25</text><text x="287.1" y="209.7" text-anchor="middle">30</text><text x="28.9" y="211.8" text-anchor="end">0.90</text><text x="26.3" y="165.5" text-anchor="end">0.95</text><text x="23.6" y="117.3" text-anchor="end">1.00</text>
<text transform="translate(134.3,302) rotate(11.3)" text-anchor="middle">average wind speed</text>
<text transform="translate(274.6,259) rotate(-60.3)" text-anchor="middle">Lag (days)</text>
<text transform="translate(1.0,164.3) rotate(92)" text-anchor="middle" font-size="10.5px">RR</text>
</g>
<text x="34.6" y="33.8" font-size="24.3px">(a)</text>
<!-- panel b: contour -->
<g shape-rendering="geometricPrecision">
<path d="M331.7 269.3L333.2 269.3L334.6 269.3L336 269.3L337.5 269.3L338.9 269.3L340.3 269.3L341.8 269.3L343.2 269.3L344.6 269.3L346.1 269.3L347.5 269.3L348.9 269.3L350.3 269.3L351.8 269.3L353.2 269.3L354.6 269.3L356.1 269.3L357.5 269.3L358.9 269.3L360.4 269.3L361.8 269.3L363.2 269.3L364.7 269.3L366.1 269.3L367.5 269.3L369 269.3L370.4 269.3L371.8 269.3L373.3 269.3L374.7 269.3L376.1 269.3L377.6 269.3L379 269.3L380.4 269.3L381.8 269.3L383.3 269.3L384.7 269.3L386.1 269.3L386.2 269.3L386.1 269.3L385.4 267.9L384.7 266.5L383.9 265.1L383.3 264L383.1 263.7L382.3 262.3L381.8 261.7L381.4 260.9L380.4 259.5L379.4 258.2L379 257.5L378.4 256.8L377.6 255.7L377.3 255.4L376.2 254L376.1 253.9L375 252.6L374.7 252.2L373.8 251.2L373.3 250.5L372.6 249.8L371.8 249L371.3 248.4L370.4 247.5L369.9 247L369 246L368.5 245.6L367.5 244.6L367.1 244.2L366.1 243.3L365.6 242.8L364.7 242L364 241.4L363.2 240.8L362.4 240L361.8 239.5L360.7 238.6L360.4 238.3L359 237.3L358.9 237.2L357.5 236.1L357.2 235.9L356.1 235L355.3 234.5L354.6 234L353.3 233.1L353.2 233L351.8 232.1L351.2 231.7L350.3 231.2L348.9 230.3L348.8 230.3L347.5 229.5L346.2 228.9L346.1 228.8L344.6 228.1L343.2 227.5L341.8 226.9L340.3 226.3L339.8 226.1L338.9 225.8L337.5 225.2L336 224.7L334.6 224.2L333.2 223.7L332 223.3L331.7 223.2L330.3 222.8L330.3 223.3L330.3 224.7L330.3 226.1L330.3 227.5L330.3 228.9L330.3 230.3L330.3 231.7L330.3 233.1L330.3 234.5L330.3 235.9L330.3 237.3L330.3 238.6L330.3 240L330.3 241.4L330.3 242.8L330.3 244.2L330.3 245.6L330.3 247L330.3 248.4L330.3 249.8L330.3 251.2L330.3 252.6L330.3 254L330.3 255.4L330.3 256.8L330.3 258.2L330.3 259.5L330.3 260.9L330.3 262.3L330.3 263.7L330.3 265.1L330.3 266.5L330.3 267.9L330.3 269.3L331.7 269.3ZM593.8 269.3L595.2 269.3L596.6 269.3L598.1 269.3L599.5 269.3L600.9 269.3L602.4 269.3L603.8 269.3L605.2 269.3L606.6 269.3L608.1 269.3L609.5 269.3L610.9 269.3L612.4 269.3L613.8 269.3L615.2 269.3L616.7 269.3L618.1 269.3L619.5 269.3L621 269.3L622.4 269.3L622.4 267.9L622.4 266.5L622.4 265.1L622.4 263.7L622.4 263.6L621.8 263.7L621 263.9L619.5 264.1L618.1 264.4L616.7 264.6L615.2 264.9L614.1 265.1L613.8 265.2L612.4 265.4L610.9 265.7L609.5 266L608.1 266.3L607 266.5L606.6 266.6L605.2 266.9L603.8 267.1L602.4 267.4L600.9 267.7L599.9 267.9L599.5 268L598.1 268.3L596.6 268.6L595.2 268.9L593.8 269.2L593.1 269.3L593.8 269.3ZM602.4 100.7L603.8 100.8L605.2 101L606.6 101.1L608.1 101.2L609.5 101.3L610.9 101.4L612.4 101.5L613.8 101.5L615.2 101.6L616.7 101.7L618.1 101.8L619.5 101.8L621 101.9L622.4 102L622.4 100.7L622.4 99.3L622.4 97.9L622.4 96.5L622.4 95.1L622.4 93.7L622.4 92.3L622.4 91L622.4 89.6L622.4 88.2L622.4 86.8L622.4 85.4L622.4 84L622.4 82.6L622.4 81.2L622.4 79.8L622.4 78.4L622.4 77L622.4 75.6L622.4 74.2L622.4 72.8L622.4 71.4L622.4 70.1L622.4 68.7L622.4 67.3L622.4 65.9L622.4 64.5L622.4 63.1L622.4 61.7L622.4 60.3L622.4 58.9L622.4 57.5L622.4 56.1L622.4 54.7L622.4 53.3L622.4 51.9L622.4 50.5L622.4 49.2L622.4 47.8L622.4 46.4L622.4 45L622.4 43.6L622.4 42.2L622.4 40.8L622.4 39.4L622.4 38L622.4 36.6L622.4 35.2L622.4 33.8L622.4 32.4L622.4 31L622.4 29.6L622.4 28.3L622.4 26.9L622.4 25.5L622.4 24.1L622.4 22.7L622.4 21.3L622.4 19.9L622.4 18.5L621 18.5L619.5 18.5L618.1 18.5L616.7 18.5L615.2 18.5L613.8 18.5L612.4 18.5L610.9 18.5L609.5 18.5L608.1 18.5L606.6 18.5L605.2 18.5L603.8 18.5L602.4 18.5L600.9 18.5L599.5 18.5L598.1 18.5L596.6 18.5L595.2 18.5L593.8 18.5L592.3 18.5L590.9 18.5L589.5 18.5L588 18.5L586.6 18.5L585.2 18.5L583.7 18.5L582.3 18.5L580.9 18.5L579.4 18.5L578 18.5L576.6 18.5L575.1 18.5L573.7 18.5L572.3 18.5L570.9 18.5L569.4 18.5L568 18.5L566.6 18.5L565.1 18.5L563.7 18.5L562.3 18.5L560.8 18.5L559.4 18.5L558 18.5L556.5 18.5L555.1 18.5L553.7 18.5L552.2 18.5L550.8 18.5L549.4 18.5L547.9 18.5L546.5 18.5L545.1 18.5L543.6 18.5L542.2 18.5L540.8 18.5L539.4 18.5L537.9 18.5L536.5 18.5L535.1 18.5L533.6 18.5L532.2 18.5L530.8 18.5L529.3 18.5L527.9 18.5L526.5 18.5L525 18.5L523.6 18.5L522.2 18.5L520.7 18.5L519.3 18.5L517.9 18.5L516.4 18.5L515 18.5L513.6 18.5L512.1 18.5L510.7 18.5L509.3 18.5L507.9 18.5L506.4 18.5L505 18.5L503.6 18.5L502.1 18.5L500.7 18.5L499.3 18.5L497.8 18.5L496.4 18.5L495 18.5L493.5 18.5L492.1 18.5L490.7 18.5L489.2 18.5L487.8 18.5L486.4 18.5L484.9 18.5L483.5 18.5L482.1 18.5L480.6 18.5L479.2 18.5L477.8 18.5L476.4 18.5L474.9 18.5L473.5 18.5L472.1 18.5L470.6 18.5L469.2 18.5L467.8 18.5L466.3 18.5L465.3 18.5L465.7 19.9L466 21.3L466.3 22.5L466.4 22.7L466.7 24.1L467 25.5L467.4 26.9L467.8 28.2L467.8 28.3L468.1 29.6L468.5 31L469 32.4L469.2 33.1L469.4 33.8L470 35.2L470.5 36.6L470.6 36.8L471.1 38L471.8 39.4L472.1 39.9L472.5 40.8L473.2 42.2L473.5 42.7L474 43.6L474.8 45L474.9 45.3L475.6 46.4L476.4 47.7L476.4 47.8L477.3 49.2L477.8 49.9L478.2 50.5L479.2 51.9L479.2 52L480.2 53.3L480.6 54L481.2 54.7L482.1 55.8L482.3 56.1L483.5 57.5L483.5 57.6L484.7 58.9L484.9 59.2L485.9 60.3L486.4 60.8L487.2 61.7L487.8 62.3L488.6 63.1L489.2 63.7L490.1 64.5L490.7 65L491.6 65.9L492.1 66.3L493.2 67.3L493.5 67.5L494.9 68.7L495 68.7L496.4 69.8L496.7 70.1L497.8 70.9L498.7 71.4L499.3 71.9L500.7 72.8L502.1 73.7L502.9 74.2L503.6 74.6L505 75.5L505.3 75.6L506.4 76.3L507.8 77L507.9 77L509.3 77.8L510.6 78.4L510.7 78.5L512.1 79.1L513.6 79.8L513.7 79.8L515 80.4L516.4 81L517 81.2L517.9 81.6L519.3 82.2L520.3 82.6L520.7 82.8L522.2 83.4L523.5 84L523.6 84L525 84.7L526.5 85.3L526.7 85.4L527.9 85.9L529.3 86.5L530.1 86.8L530.8 87L532.2 87.5L533.6 88L534.3 88.2L535.1 88.4L536.5 88.8L537.9 89.2L539.2 89.6L539.4 89.6L540.8 90L542.2 90.4L543.6 90.8L544.4 91L545.1 91.1L546.5 91.5L547.9 91.8L549.4 92.2L550.2 92.3L550.8 92.5L552.2 92.8L553.7 93.1L555.1 93.4L556.5 93.7L556.6 93.7L558 94L559.4 94.3L560.8 94.6L562.3 94.9L563.3 95.1L563.7 95.2L565.1 95.5L566.6 95.8L568 96L569.4 96.3L570.8 96.5L570.9 96.5L572.3 96.8L573.7 97L575.1 97.3L576.6 97.5L578 97.7L579.2 97.9L579.4 98L580.9 98.2L582.3 98.4L583.7 98.6L585.2 98.8L586.6 99L588 99.2L589.1 99.3L589.5 99.4L590.9 99.5L592.3 99.7L593.8 99.9L595.2 100L596.6 100.2L598.1 100.3L599.5 100.4L600.9 100.6L602.2 100.7L602.4 100.7ZM331.7 67.5L332 67.3L333.2 66.5L334 65.9L334.6 65.4L335.8 64.5L336 64.3L337.5 63.2L337.6 63.1L338.9 62L339.2 61.7L340.3 60.8L340.8 60.3L341.8 59.5L342.4 58.9L343.2 58.2L343.9 57.5L344.6 56.9L345.4 56.1L346.1 55.5L346.9 54.7L347.5 54.2L348.3 53.3L348.9 52.8L349.7 51.9L350.3 51.3L351.1 50.5L351.8 49.9L352.5 49.2L353.2 48.4L353.9 47.8L354.6 47L355.2 46.4L356.1 45.5L356.5 45L357.5 43.9L357.8 43.6L358.9 42.3L359.1 42.2L360.3 40.8L360.4 40.7L361.4 39.4L361.8 39L362.6 38L363.2 37.2L363.6 36.6L364.7 35.2L365.7 33.8L366.1 33.2L366.6 32.4L367.5 31L367.5 30.9L368.3 29.6L369 28.3L369.7 26.9L370.3 25.5L370.4 25.4L371 24.1L371.6 22.7L371.8 22.1L372.1 21.3L372.7 19.9L373.2 18.5L371.8 18.5L370.4 18.5L369 18.5L367.5 18.5L366.1 18.5L364.7 18.5L363.2 18.5L361.8 18.5L360.4 18.5L358.9 18.5L357.5 18.5L356.1 18.5L354.6 18.5L353.2 18.5L351.8 18.5L350.3 18.5L348.9 18.5L347.5 18.5L346.1 18.5L344.6 18.5L343.2 18.5L341.8 18.5L340.3 18.5L338.9 18.5L337.5 18.5L336 18.5L334.6 18.5L333.2 18.5L331.7 18.5L330.3 18.5L330.3 19.9L330.3 21.3L330.3 22.7L330.3 24.1L330.3 25.5L330.3 26.9L330.3 28.3L330.3 29.6L330.3 31L330.3 32.4L330.3 33.8L330.3 35.2L330.3 36.6L330.3 38L330.3 39.4L330.3 40.8L330.3 42.2L330.3 43.6L330.3 45L330.3 46.4L330.3 47.8L330.3 49.2L330.3 50.5L330.3 51.9L330.3 53.3L330.3 54.7L330.3 56.1L330.3 57.5L330.3 58.9L330.3 60.3L330.3 61.7L330.3 63.1L330.3 64.5L330.3 65.9L330.3 67.3L330.3 68.4L331.7 67.5Z" fill="rgb(237,237,255)"/>
<path d="M331.7 269.3L333.2 269.3L334.6 269.3L336 269.3L337.5 269.3L338.9 269.3L340.3 269.3L341.8 269.3L343.2 269.3L344.6 269.3L346.1 269.3L347.5 269.3L348.9 269.3L350.3 269.3L351.8 269.3L353.2 269.3L354.6 269.3L356.1 269.3L357.5 269.3L358.9 269.3L360.4 269.3L361.8 269.3L363.2 269.3L364.7 269.3L365.7 269.3L364.7 268.2L364.3 267.9L363.2 266.8L362.9 266.5L361.8 265.4L361.5 265.1L360.4 264.1L360 263.7L358.9 262.8L358.4 262.3L357.5 261.6L356.8 260.9L356.1 260.4L355.1 259.5L354.6 259.2L353.3 258.2L353.2 258.1L351.8 257L351.4 256.8L350.3 255.9L349.5 255.4L348.9 254.9L347.5 254L346.1 253L345.3 252.6L344.6 252.1L343.2 251.3L343 251.2L341.8 250.4L340.6 249.8L340.3 249.7L338.9 248.9L337.9 248.4L337.5 248.2L336 247.4L335.1 247L334.6 246.8L333.2 246.1L332.1 245.6L331.7 245.4L330.3 244.8L330.3 245.6L330.3 247L330.3 248.4L330.3 249.8L330.3 251.2L330.3 252.6L330.3 254L330.3 255.4L330.3 256.8L330.3 258.2L330.3 259.5L330.3 260.9L330.3 262.3L330.3 263.7L330.3 265.1L330.3 266.5L330.3 267.9L330.3 269.3L331.7 269.3ZM622.4 93.9L622.4 93.7L622.4 92.3L622.4 91L622.4 89.6L622.4 88.2L622.4 86.8L622.4 85.4L622.4 84L622.4 82.6L622.4 81.2L622.4 79.8L622.4 78.4L622.4 77L622.4 75.6L622.4 74.2L622.4 72.8L622.4 71.4L622.4 70.1L622.4 68.7L622.4 67.3L622.4 65.9L622.4 64.5L622.4 63.1L622.4 61.7L622.4 60.3L622.4 58.9L622.4 57.5L622.4 56.1L622.4 54.7L622.4 53.3L622.4 51.9L622.4 50.5L622.4 49.2L622.4 47.8L622.4 46.4L622.4 45L622.4 43.6L622.4 42.2L622.4 40.8L622.4 39.4L622.4 38L622.4 36.6L622.4 35.2L622.4 33.8L622.4 32.4L622.4 31L622.4 29.6L622.4 28.3L622.4 26.9L622.4 25.5L622.4 24.1L622.4 22.7L622.4 21.3L622.4 19.9L622.4 18.5L621 18.5L619.5 18.5L618.1 18.5L616.7 18.5L615.2 18.5L613.8 18.5L612.4 18.5L610.9 18.5L609.5 18.5L608.1 18.5L606.6 18.5L605.2 18.5L603.8 18.5L602.4 18.5L600.9 18.5L599.5 18.5L598.1 18.5L596.6 18.5L595.2 18.5L593.8 18.5L592.3 18.5L590.9 18.5L589.5 18.5L588 18.5L586.6 18.5L585.2 18.5L583.7 18.5L582.3 18.5L580.9 18.5L579.4 18.5L578 18.5L576.6 18.5L575.1 18.5L573.7 18.5L572.3 18.5L570.9 18.5L569.4 18.5L568 18.5L566.6 18.5L565.1 18.5L563.7 18.5L562.3 18.5L560.8 18.5L559.4 18.5L558 18.5L556.5 18.5L555.1 18.5L553.7 18.5L552.2 18.5L550.8 18.5L549.4 18.5L547.9 18.5L546.5 18.5L545.1 18.5L543.6 18.5L542.2 18.5L540.8 18.5L539.4 18.5L537.9 18.5L536.5 18.5L535.1 18.5L533.6 18.5L532.2 18.5L530.8 18.5L529.3 18.5L527.9 18.5L526.5 18.5L525 18.5L523.6 18.5L522.2 18.5L520.7 18.5L519.3 18.5L517.9 18.5L516.4 18.5L515 18.5L513.6 18.5L512.1 18.5L510.7 18.5L509.3 18.5L507.9 18.5L506.4 18.5L505 18.5L503.6 18.5L502.1 18.5L500.7 18.5L499.3 18.5L497.8 18.5L496.4 18.5L495 18.5L493.5 18.5L492.1 18.5L490.7 18.5L489.2 18.5L487.8 18.5L486.4 18.5L484.9 18.5L484 18.5L484.6 19.9L484.9 20.6L485.2 21.3L485.9 22.7L486.4 23.6L486.6 24.1L487.4 25.5L487.8 26.2L488.1 26.9L489 28.3L489.2 28.7L489.8 29.6L490.7 30.9L490.7 31L491.7 32.4L492.1 33L492.7 33.8L493.5 34.9L493.7 35.2L494.9 36.6L495 36.7L496 38L496.4 38.5L497.2 39.4L497.8 40.1L498.5 40.8L499.3 41.7L499.7 42.2L500.7 43.2L501 43.6L502.1 44.7L502.3 45L503.6 46.2L503.7 46.4L505 47.7L505 47.8L506.4 49.1L506.4 49.2L507.9 50.5L509.3 51.9L510.7 53.2L510.9 53.3L512.1 54.4L512.5 54.7L513.6 55.6L514.2 56.1L515 56.8L515.9 57.5L516.4 57.9L517.7 58.9L517.9 59L519.3 60.1L519.5 60.3L520.7 61.2L521.4 61.7L522.2 62.3L523.3 63.1L523.6 63.3L525 64.3L525.3 64.5L526.5 65.2L527.5 65.9L527.9 66.2L529.3 67.1L529.7 67.3L530.8 67.9L531.9 68.7L532.2 68.8L533.6 69.7L534.3 70.1L535.1 70.5L536.5 71.3L536.7 71.4L537.9 72.1L539.3 72.8L539.4 72.9L540.8 73.6L542.2 74.2L543.6 74.9L545.1 75.5L545.3 75.6L546.5 76.2L547.9 76.8L548.6 77L549.4 77.3L550.8 77.9L552 78.4L552.2 78.5L553.7 79.1L555.1 79.6L555.7 79.8L556.5 80.1L558 80.6L559.4 81.1L559.6 81.2L560.8 81.6L562.3 82.1L563.7 82.5L563.9 82.6L565.1 83L566.6 83.4L568 83.8L568.5 84L569.4 84.3L570.9 84.7L572.3 85.1L573.3 85.4L573.7 85.5L575.1 85.9L576.6 86.3L578 86.6L578.5 86.8L579.4 87L580.9 87.4L582.3 87.7L583.7 88L584.3 88.2L585.2 88.4L586.6 88.7L588 89L589.5 89.3L590.9 89.5L591 89.6L592.3 89.8L593.8 90.1L595.2 90.3L596.6 90.6L598.1 90.8L598.9 91L599.5 91L600.9 91.3L602.4 91.5L603.8 91.7L605.2 91.9L606.6 92.1L608.1 92.3L608.8 92.3L609.5 92.4L610.9 92.6L612.4 92.8L613.8 93L615.2 93.1L616.7 93.3L618.1 93.4L619.5 93.6L621 93.7L621.2 93.7L622.4 93.9ZM331.4 35.2L331.7 34.9L333 33.8L333.2 33.7L334.6 32.5L334.6 32.4L336 31.2L336.2 31L337.5 29.8L337.7 29.6L338.9 28.5L339.1 28.3L340.3 27.1L340.6 26.9L341.8 25.8L342.1 25.5L343.2 24.4L343.5 24.1L344.6 22.9L344.8 22.7L346.1 21.4L346.1 21.3L347.4 19.9L347.5 19.8L348.5 18.5L347.5 18.5L346.1 18.5L344.6 18.5L343.2 18.5L341.8 18.5L340.3 18.5L338.9 18.5L337.5 18.5L336 18.5L334.6 18.5L333.2 18.5L331.7 18.5L330.3 18.5L330.3 19.9L330.3 21.3L330.3 22.7L330.3 24.1L330.3 25.5L330.3 26.9L330.3 28.3L330.3 29.6L330.3 31L330.3 32.4L330.3 33.8L330.3 35.2L330.3 36.1L331.4 35.2Z" fill="rgb(219,219,255)"/>
<path d="M331.7 269.3L333.2 269.3L334.6 269.3L336 269.3L337.5 269.3L338.9 269.3L340.3 269.3L341.8 269.3L343.2 269.3L344.6 269.3L346.1 269.3L346.8 269.3L346.1 268.7L345 267.9L344.6 267.6L343.2 266.6L343.1 266.5L341.8 265.6L341 265.1L340.3 264.6L338.9 263.7L337.5 262.9L336.6 262.3L336 262L334.6 261.2L334.1 260.9L333.2 260.5L331.7 259.7L331.4 259.5L330.3 259L330.3 259.5L330.3 260.9L330.3 262.3L330.3 263.7L330.3 265.1L330.3 266.5L330.3 267.9L330.3 269.3L331.7 269.3ZM615.2 85.4L616.7 85.6L618.1 85.8L619.5 86.1L621 86.3L622.4 86.5L622.4 85.4L622.4 84L622.4 82.6L622.4 81.2L622.4 79.8L622.4 78.4L622.4 77L622.4 75.6L622.4 74.2L622.4 72.8L622.4 71.4L622.4 70.1L622.4 68.7L622.4 67.3L622.4 65.9L622.4 64.5L622.4 63.1L622.4 61.7L622.4 60.3L622.4 58.9L622.4 57.5L622.4 56.1L622.4 54.7L622.4 53.3L622.4 51.9L622.4 50.5L622.4 49.2L622.4 47.8L622.4 46.4L622.4 45L622.4 43.6L622.4 42.2L622.4 40.8L622.4 39.4L622.4 38L622.4 36.6L622.4 35.2L622.4 33.8L622.4 32.4L622.4 31L622.4 29.6L622.4 28.3L622.4 26.9L622.4 25.5L622.4 24.1L622.4 22.7L622.4 21.3L622.4 19.9L622.4 18.5L621 18.5L619.5 18.5L618.1 18.5L616.7 18.5L615.2 18.5L613.8 18.5L612.4 18.5L610.9 18.5L609.5 18.5L608.1 18.5L606.6 18.5L605.2 18.5L603.8 18.5L602.4 18.5L600.9 18.5L599.5 18.5L598.1 18.5L596.6 18.5L595.2 18.5L593.8 18.5L592.3 18.5L590.9 18.5L589.5 18.5L588 18.5L586.6 18.5L585.2 18.5L583.7 18.5L582.3 18.5L580.9 18.5L579.4 18.5L578 18.5L576.6 18.5L575.1 18.5L573.7 18.5L572.3 18.5L570.9 18.5L569.4 18.5L568 18.5L566.6 18.5L565.1 18.5L563.7 18.5L562.3 18.5L560.8 18.5L559.4 18.5L558 18.5L556.5 18.5L555.1 18.5L553.7 18.5L552.2 18.5L550.8 18.5L549.4 18.5L547.9 18.5L546.5 18.5L545.1 18.5L543.6 18.5L542.2 18.5L540.8 18.5L539.4 18.5L537.9 18.5L536.5 18.5L535.1 18.5L533.6 18.5L532.2 18.5L530.8 18.5L529.3 18.5L527.9 18.5L526.5 18.5L525 18.5L523.6 18.5L522.2 18.5L520.7 18.5L519.3 18.5L517.9 18.5L516.4 18.5L515 18.5L513.6 18.5L512.1 18.5L510.7 18.5L509.3 18.5L507.9 18.5L506.4 18.5L505 18.5L503.6 18.5L502.1 18.5L500.7 18.5L499.3 18.5L498.8 18.5L499.3 19.1L499.8 19.9L500.7 21.2L500.8 21.3L501.8 22.7L502.1 23.1L502.9 24.1L503.6 24.8L504.1 25.5L505 26.5L505.4 26.9L506.4 28L506.6 28.3L507.9 29.5L508 29.6L509.3 30.9L509.4 31L510.7 32.3L510.9 32.4L512.1 33.6L512.4 33.8L513.6 34.9L513.9 35.2L515 36.2L515.5 36.6L516.4 37.4L517.2 38L517.9 38.6L518.8 39.4L519.3 39.8L520.5 40.8L520.7 41L522.2 42.2L523.6 43.4L523.8 43.6L525 44.6L525.5 45L526.5 45.8L527.1 46.4L527.9 47L528.8 47.8L529.3 48.2L530.5 49.2L530.8 49.3L532.2 50.5L532.3 50.5L533.6 51.6L534.1 51.9L535.1 52.7L535.9 53.3L536.5 53.8L537.7 54.7L537.9 54.9L539.4 55.9L539.6 56.1L540.8 57L541.5 57.5L542.2 58L543.5 58.9L543.6 59L545.1 59.9L545.6 60.3L546.5 60.9L547.8 61.7L547.9 61.8L549.4 62.7L550.1 63.1L550.8 63.5L552.2 64.4L552.4 64.5L553.7 65.2L554.9 65.9L555.1 66L556.5 66.7L557.5 67.3L558 67.5L559.4 68.2L560.3 68.7L560.8 68.9L562.3 69.6L563.2 70.1L563.7 70.3L565.1 71L566.2 71.4L566.6 71.6L568 72.2L569.3 72.8L569.4 72.9L570.9 73.5L572.3 74.1L572.6 74.2L573.7 74.7L575.1 75.3L576.1 75.6L576.6 75.8L578 76.4L579.4 76.9L579.8 77L580.9 77.4L582.3 77.9L583.7 78.4L583.9 78.4L585.2 78.8L586.6 79.3L588 79.7L588.4 79.8L589.5 80.1L590.9 80.5L592.3 80.9L593.6 81.2L593.8 81.2L595.2 81.6L596.6 81.9L598.1 82.2L599.5 82.5L599.8 82.6L600.9 82.8L602.4 83.1L603.8 83.4L605.2 83.7L606.6 83.9L607 84L608.1 84.2L609.5 84.4L610.9 84.7L612.4 84.9L613.8 85.1L615.2 85.4Z" fill="rgb(200,200,255)"/>
<path d="M618.1 78.5L619.5 78.7L621 79L622.4 79.3L622.4 78.4L622.4 77L622.4 75.6L622.4 74.2L622.4 72.8L622.4 71.4L622.4 70.1L622.4 68.7L622.4 67.3L622.4 65.9L622.4 64.5L622.4 63.1L622.4 61.7L622.4 60.3L622.4 58.9L622.4 57.5L622.4 56.1L622.4 54.7L622.4 53.3L622.4 51.9L622.4 50.5L622.4 49.2L622.4 47.8L622.4 46.4L622.4 45L622.4 43.6L622.4 42.2L622.4 40.8L622.4 39.4L622.4 38L622.4 36.6L622.4 35.2L622.4 33.8L622.4 32.4L622.4 31L622.4 29.6L622.4 28.3L622.4 26.9L622.4 25.5L622.4 24.1L622.4 22.7L622.4 21.3L622.4 19.9L622.4 18.5L621 18.5L619.5 18.5L618.1 18.5L616.7 18.5L615.2 18.5L613.8 18.5L612.4 18.5L610.9 18.5L609.5 18.5L608.1 18.5L606.6 18.5L605.2 18.5L603.8 18.5L602.4 18.5L600.9 18.5L599.5 18.5L598.1 18.5L596.6 18.5L595.2 18.5L593.8 18.5L592.3 18.5L590.9 18.5L589.5 18.5L588 18.5L586.6 18.5L585.2 18.5L583.7 18.5L582.3 18.5L580.9 18.5L579.4 18.5L578 18.5L576.6 18.5L575.1 18.5L573.7 18.5L572.3 18.5L570.9 18.5L569.4 18.5L568 18.5L566.6 18.5L565.1 18.5L563.7 18.5L562.3 18.5L560.8 18.5L559.4 18.5L558 18.5L556.5 18.5L555.1 18.5L553.7 18.5L552.2 18.5L550.8 18.5L549.4 18.5L547.9 18.5L546.5 18.5L545.1 18.5L543.6 18.5L542.2 18.5L540.8 18.5L539.4 18.5L537.9 18.5L536.5 18.5L535.1 18.5L533.6 18.5L532.2 18.5L530.8 18.5L529.3 18.5L527.9 18.5L526.5 18.5L525 18.5L523.6 18.5L522.2 18.5L520.7 18.5L519.3 18.5L517.9 18.5L516.4 18.5L515 18.5L513.6 18.5L512.1 18.5L511.9 18.5L512.1 18.7L513.2 19.9L513.6 20.3L514.5 21.3L515 21.9L515.8 22.7L516.4 23.3L517.3 24.1L517.9 24.6L518.8 25.5L519.3 26L520.3 26.9L520.7 27.2L521.9 28.3L522.2 28.5L523.6 29.6L525 30.8L525.3 31L526.5 32L527 32.4L527.9 33.2L528.7 33.8L529.3 34.3L530.4 35.2L530.8 35.5L532.1 36.6L532.2 36.7L533.6 37.8L533.9 38L535.1 39L535.6 39.4L536.5 40.1L537.4 40.8L537.9 41.2L539.1 42.2L539.4 42.4L540.8 43.6L542.2 44.8L542.5 45L543.6 45.9L544.2 46.4L545.1 47.1L545.9 47.8L546.5 48.2L547.7 49.2L547.9 49.3L549.4 50.4L549.6 50.5L550.8 51.4L551.6 51.9L552.2 52.4L553.7 53.3L555.1 54.2L555.9 54.7L556.5 55.1L558 56L558.1 56.1L559.4 56.9L560.4 57.5L560.8 57.7L562.3 58.6L562.9 58.9L563.7 59.4L565.1 60.1L565.4 60.3L566.6 60.9L568 61.6L568.1 61.7L569.4 62.4L570.8 63.1L570.9 63.1L572.3 63.8L573.7 64.5L575.1 65.2L576.6 65.9L578 66.6L579.4 67.3L579.5 67.3L580.9 67.9L582.3 68.6L582.5 68.7L583.7 69.2L585.2 69.8L585.7 70.1L586.6 70.4L588 71L589.3 71.4L589.5 71.5L590.9 72L592.3 72.5L593.3 72.8L593.8 73L595.2 73.4L596.6 73.9L598 74.2L598.1 74.2L599.5 74.6L600.9 75L602.4 75.3L603.8 75.6L605.2 75.9L606.6 76.2L608.1 76.5L609.5 76.8L610.5 77L610.9 77.1L612.4 77.4L613.8 77.7L615.2 77.9L616.7 78.2L617.8 78.4L618.1 78.5Z" fill="rgb(182,182,255)"/>
<path d="M619.5 71.7L621 72L622.4 72.3L622.4 71.4L622.4 70.1L622.4 68.7L622.4 67.3L622.4 65.9L622.4 64.5L622.4 63.1L622.4 61.7L622.4 60.3L622.4 58.9L622.4 57.5L622.4 56.1L622.4 54.7L622.4 53.3L622.4 51.9L622.4 50.5L622.4 49.2L622.4 47.8L622.4 46.4L622.4 45L622.4 43.6L622.4 42.2L622.4 40.8L622.4 39.4L622.4 38L622.4 36.6L622.4 35.2L622.4 33.8L622.4 32.4L622.4 31L622.4 29.6L622.4 28.3L622.4 26.9L622.4 25.5L622.4 24.1L622.4 22.7L622.4 21.3L622.4 19.9L622.4 18.5L621 18.5L619.5 18.5L618.1 18.5L616.7 18.5L615.2 18.5L613.8 18.5L612.4 18.5L610.9 18.5L609.5 18.5L608.1 18.5L606.6 18.5L605.2 18.5L603.8 18.5L602.4 18.5L600.9 18.5L599.5 18.5L598.1 18.5L596.6 18.5L595.2 18.5L593.8 18.5L592.3 18.5L590.9 18.5L589.5 18.5L588 18.5L586.6 18.5L585.2 18.5L583.7 18.5L582.3 18.5L580.9 18.5L579.4 18.5L578 18.5L576.6 18.5L575.1 18.5L573.7 18.5L572.3 18.5L570.9 18.5L569.4 18.5L568 18.5L566.6 18.5L565.1 18.5L563.7 18.5L562.3 18.5L560.8 18.5L559.4 18.5L558 18.5L556.5 18.5L555.1 18.5L553.7 18.5L552.2 18.5L550.8 18.5L549.4 18.5L547.9 18.5L546.5 18.5L545.1 18.5L543.6 18.5L542.2 18.5L540.8 18.5L539.4 18.5L537.9 18.5L536.5 18.5L535.1 18.5L533.6 18.5L532.2 18.5L530.8 18.5L529.3 18.5L527.9 18.5L526.5 18.5L525 18.5L524.1 18.5L525 19.4L525.5 19.9L526.5 20.8L527 21.3L527.9 22.1L528.6 22.7L529.3 23.4L530.1 24.1L530.8 24.6L531.8 25.5L532.2 25.8L533.4 26.9L533.6 27L535.1 28.2L535.1 28.3L536.5 29.4L536.7 29.6L537.9 30.6L538.4 31L539.4 31.8L540.1 32.4L540.8 33L541.8 33.8L542.2 34.2L543.5 35.2L543.6 35.3L545.1 36.5L545.2 36.6L546.5 37.7L546.9 38L547.9 38.9L548.6 39.4L549.4 40.1L550.3 40.8L550.8 41.2L552 42.2L552.2 42.4L553.7 43.5L553.8 43.6L555.1 44.6L555.6 45L556.5 45.7L557.5 46.4L558 46.7L559.4 47.6L559.6 47.8L560.8 48.6L561.7 49.2L562.3 49.5L563.7 50.4L564 50.5L565.1 51.2L566.5 51.9L566.6 52L568 52.8L569 53.3L569.4 53.6L570.9 54.3L571.7 54.7L572.3 55L573.7 55.8L574.4 56.1L575.1 56.5L576.6 57.2L577.2 57.5L578 57.9L579.4 58.7L579.9 58.9L580.9 59.4L582.3 60.1L582.6 60.3L583.7 60.9L585.2 61.6L585.4 61.7L586.6 62.2L588 62.9L588.5 63.1L589.5 63.5L590.9 64.1L591.8 64.5L592.3 64.7L593.8 65.2L595.2 65.8L595.5 65.9L596.6 66.2L598.1 66.7L599.5 67.1L599.9 67.3L600.9 67.6L602.4 67.9L603.8 68.3L605.2 68.7L606.6 69L608.1 69.3L609.5 69.6L610.9 69.9L611.4 70.1L612.4 70.2L613.8 70.5L615.2 70.8L616.7 71.1L618.1 71.4L618.2 71.4L619.5 71.7Z" fill="rgb(164,164,255)"/>
<path d="M616.7 64.6L618.1 64.9L619.5 65.2L621 65.5L622.4 65.9L622.4 64.5L622.4 63.1L622.4 61.7L622.4 60.3L622.4 58.9L622.4 57.5L622.4 56.1L622.4 54.7L622.4 53.3L622.4 51.9L622.4 50.5L622.4 49.2L622.4 47.8L622.4 46.4L622.4 45L622.4 43.6L622.4 42.2L622.4 40.8L622.4 39.4L622.4 38L622.4 36.6L622.4 35.2L622.4 33.8L622.4 32.4L622.4 31L622.4 29.6L622.4 28.3L622.4 26.9L622.4 25.5L622.4 24.1L622.4 22.7L622.4 21.3L622.4 19.9L622.4 18.5L621 18.5L619.5 18.5L618.1 18.5L616.7 18.5L615.2 18.5L613.8 18.5L612.4 18.5L610.9 18.5L609.5 18.5L608.1 18.5L606.6 18.5L605.2 18.5L603.8 18.5L602.4 18.5L600.9 18.5L599.5 18.5L598.1 18.5L596.6 18.5L595.2 18.5L593.8 18.5L592.3 18.5L590.9 18.5L589.5 18.5L588 18.5L586.6 18.5L585.2 18.5L583.7 18.5L582.3 18.5L580.9 18.5L579.4 18.5L578 18.5L576.6 18.5L575.1 18.5L573.7 18.5L572.3 18.5L570.9 18.5L569.4 18.5L568 18.5L566.6 18.5L565.1 18.5L563.7 18.5L562.3 18.5L560.8 18.5L559.4 18.5L558 18.5L556.5 18.5L555.1 18.5L553.7 18.5L552.2 18.5L550.8 18.5L549.4 18.5L547.9 18.5L546.5 18.5L545.1 18.5L543.6 18.5L542.2 18.5L540.8 18.5L539.4 18.5L537.9 18.5L536.5 18.5L535.4 18.5L536.5 19.5L536.9 19.9L537.9 20.8L538.4 21.3L539.4 22.1L540 22.7L540.8 23.4L541.6 24.1L542.2 24.6L543.2 25.5L543.6 25.8L544.9 26.9L545.1 27L546.5 28.2L546.5 28.3L547.9 29.4L548.2 29.6L549.4 30.6L549.9 31L550.8 31.8L551.5 32.4L552.2 33L553.2 33.8L553.7 34.2L554.9 35.2L555.1 35.4L556.5 36.6L556.6 36.6L558 37.7L558.3 38L559.4 38.9L560.1 39.4L560.8 40L561.9 40.8L562.3 41L563.7 42.1L563.8 42.2L565.1 43.1L565.9 43.6L566.6 44L568 44.9L568.2 45L569.4 45.7L570.6 46.4L570.9 46.5L572.3 47.3L573.1 47.8L573.7 48.1L575.1 48.9L575.7 49.2L576.6 49.6L578 50.4L578.3 50.5L579.4 51.1L580.9 51.9L581 51.9L582.3 52.6L583.6 53.3L583.7 53.4L585.2 54.1L586.4 54.7L586.6 54.8L588 55.5L589.2 56.1L589.5 56.2L590.9 56.9L592.3 57.5L592.4 57.5L593.8 58.1L595.2 58.6L595.9 58.9L596.6 59.2L598.1 59.7L599.5 60.2L599.9 60.3L600.9 60.6L602.4 61.1L603.8 61.5L604.6 61.7L605.2 61.9L606.6 62.3L608.1 62.6L609.5 63L610 63.1L610.9 63.3L612.4 63.6L613.8 64L615.2 64.3L616.1 64.5L616.7 64.6Z" fill="rgb(146,146,255)"/>
<path d="M618.1 59L619.5 59.3L621 59.7L622.4 60L622.4 58.9L622.4 57.5L622.4 56.1L622.4 54.7L622.4 53.3L622.4 51.9L622.4 50.5L622.4 49.2L622.4 47.8L622.4 46.4L622.4 45L622.4 43.6L622.4 42.2L622.4 40.8L622.4 39.4L622.4 38L622.4 36.6L622.4 35.2L622.4 33.8L622.4 32.4L622.4 31L622.4 29.6L622.4 28.3L622.4 26.9L622.4 25.5L622.4 24.1L622.4 22.7L622.4 21.3L622.4 19.9L622.4 18.5L621 18.5L619.5 18.5L618.1 18.5L616.7 18.5L615.2 18.5L613.8 18.5L612.4 18.5L610.9 18.5L609.5 18.5L608.1 18.5L606.6 18.5L605.2 18.5L603.8 18.5L602.4 18.5L600.9 18.5L599.5 18.5L598.1 18.5L596.6 18.5L595.2 18.5L593.8 18.5L592.3 18.5L590.9 18.5L589.5 18.5L588 18.5L586.6 18.5L585.2 18.5L583.7 18.5L582.3 18.5L580.9 18.5L579.4 18.5L578 18.5L576.6 18.5L575.1 18.5L573.7 18.5L572.3 18.5L570.9 18.5L569.4 18.5L568 18.5L566.6 18.5L565.1 18.5L563.7 18.5L562.3 18.5L560.8 18.5L559.4 18.5L558 18.5L556.5 18.5L555.1 18.5L553.7 18.5L552.2 18.5L550.8 18.5L549.4 18.5L547.9 18.5L546.5 18.5L546 18.5L546.5 18.9L547.6 19.9L547.9 20.2L549.2 21.3L549.4 21.5L550.8 22.7L552.2 23.9L552.4 24.1L553.7 25.2L554 25.5L555.1 26.4L555.7 26.9L556.5 27.6L557.3 28.3L558 28.8L559 29.6L559.4 30L560.7 31L560.8 31.1L562.3 32.3L562.4 32.4L563.7 33.4L564.2 33.8L565.1 34.5L566 35.2L566.6 35.6L567.9 36.6L568 36.7L569.4 37.7L569.9 38L570.9 38.6L572 39.4L572.3 39.6L573.7 40.5L574.2 40.8L575.1 41.4L576.5 42.2L576.6 42.2L578 43.1L578.9 43.6L579.4 43.9L580.9 44.7L581.4 45L582.3 45.5L583.7 46.3L583.9 46.4L585.2 47.1L586.5 47.8L586.6 47.8L588 48.6L589.2 49.2L589.5 49.3L590.9 50L592 50.5L592.3 50.7L593.8 51.4L595.1 51.9L595.2 52L596.6 52.6L598.1 53.1L598.7 53.3L599.5 53.6L600.9 54.1L602.4 54.6L602.7 54.7L603.8 55.1L605.2 55.5L606.6 56L607.2 56.1L608.1 56.4L609.5 56.8L610.9 57.2L612.3 57.5L612.4 57.5L613.8 57.9L615.2 58.3L616.7 58.6L617.8 58.9L618.1 59Z" fill="rgb(128,128,255)"/>
<path d="M618.1 53.4L619.5 53.8L621 54.2L622.4 54.6L622.4 53.3L622.4 51.9L622.4 50.5L622.4 49.2L622.4 47.8L622.4 46.4L622.4 45L622.4 43.6L622.4 42.2L622.4 40.8L622.4 39.4L622.4 38L622.4 36.6L622.4 35.2L622.4 33.8L622.4 32.4L622.4 31L622.4 29.6L622.4 28.3L622.4 26.9L622.4 25.5L622.4 24.1L622.4 22.7L622.4 21.3L622.4 19.9L622.4 18.5L621 18.5L619.5 18.5L618.1 18.5L616.7 18.5L615.2 18.5L613.8 18.5L612.4 18.5L610.9 18.5L609.5 18.5L608.1 18.5L606.6 18.5L605.2 18.5L603.8 18.5L602.4 18.5L600.9 18.5L599.5 18.5L598.1 18.5L596.6 18.5L595.2 18.5L593.8 18.5L592.3 18.5L590.9 18.5L589.5 18.5L588 18.5L586.6 18.5L585.2 18.5L583.7 18.5L582.3 18.5L580.9 18.5L579.4 18.5L578 18.5L576.6 18.5L575.1 18.5L573.7 18.5L572.3 18.5L570.9 18.5L569.4 18.5L568 18.5L566.6 18.5L565.1 18.5L563.7 18.5L562.3 18.5L560.8 18.5L559.4 18.5L558 18.5L556.5 18.5L556.4 18.5L556.5 18.6L558 19.9L559.4 21.1L559.6 21.3L560.8 22.4L561.2 22.7L562.3 23.6L562.8 24.1L563.7 24.8L564.5 25.5L565.1 26L566.2 26.9L566.6 27.1L567.9 28.3L568 28.3L569.4 29.4L569.7 29.6L570.9 30.5L571.6 31L572.3 31.6L573.5 32.4L573.7 32.6L575.1 33.6L575.5 33.8L576.6 34.6L577.5 35.2L578 35.5L579.4 36.5L579.7 36.6L580.9 37.4L581.9 38L582.3 38.3L583.7 39.1L584.2 39.4L585.2 40L586.6 40.8L588 41.6L589.1 42.2L589.5 42.4L590.9 43.2L591.7 43.6L592.3 43.9L593.8 44.6L594.5 45L595.2 45.3L596.6 46L597.5 46.4L598.1 46.6L599.5 47.2L600.8 47.8L600.9 47.8L602.4 48.4L603.8 48.9L604.5 49.2L605.2 49.4L606.6 49.9L608.1 50.4L608.5 50.5L609.5 50.9L610.9 51.3L612.4 51.7L613 51.9L613.8 52.2L615.2 52.6L616.7 53L617.8 53.3L618.1 53.4Z" fill="rgb(109,109,255)"/>
<path d="M622.4 49.4L622.4 49.2L622.4 47.8L622.4 46.4L622.4 45L622.4 43.6L622.4 42.2L622.4 40.8L622.4 39.4L622.4 38L622.4 36.6L622.4 35.2L622.4 33.8L622.4 32.4L622.4 31L622.4 29.6L622.4 28.3L622.4 26.9L622.4 25.5L622.4 24.1L622.4 22.7L622.4 21.3L622.4 19.9L622.4 18.5L621 18.5L619.5 18.5L618.1 18.5L616.7 18.5L615.2 18.5L613.8 18.5L612.4 18.5L610.9 18.5L609.5 18.5L608.1 18.5L606.6 18.5L605.2 18.5L603.8 18.5L602.4 18.5L600.9 18.5L599.5 18.5L598.1 18.5L596.6 18.5L595.2 18.5L593.8 18.5L592.3 18.5L590.9 18.5L589.5 18.5L588 18.5L586.6 18.5L585.2 18.5L583.7 18.5L582.3 18.5L580.9 18.5L579.4 18.5L578 18.5L576.6 18.5L575.1 18.5L573.7 18.5L572.3 18.5L570.9 18.5L569.4 18.5L568 18.5L566.6 18.5L566.3 18.5L566.6 18.7L567.9 19.9L568 19.9L569.4 21.1L569.6 21.3L570.9 22.3L571.3 22.7L572.3 23.5L573 24.1L573.7 24.6L574.8 25.5L575.1 25.7L576.6 26.8L576.6 26.9L578 27.9L578.5 28.3L579.4 28.9L580.5 29.6L580.9 29.9L582.3 30.9L582.5 31L583.7 31.9L584.6 32.4L585.2 32.8L586.6 33.7L586.8 33.8L588 34.6L589.1 35.2L589.5 35.5L590.9 36.3L591.4 36.6L592.3 37.1L593.8 37.9L593.9 38L595.2 38.7L596.5 39.4L596.6 39.5L598.1 40.2L599.3 40.8L599.5 40.9L600.9 41.6L602.3 42.2L602.4 42.2L603.8 42.8L605.2 43.4L605.6 43.6L606.6 44L608.1 44.6L609.2 45L609.5 45.1L610.9 45.6L612.4 46.1L613.1 46.4L613.8 46.6L615.2 47.1L616.7 47.6L617.3 47.8L618.1 48L619.5 48.5L621 48.9L621.7 49.2L622.4 49.4Z" fill="rgb(91,91,255)"/>
<path d="M621 43.7L622.4 44.2L622.4 43.6L622.4 42.2L622.4 40.8L622.4 39.4L622.4 38L622.4 36.6L622.4 35.2L622.4 33.8L622.4 32.4L622.4 31L622.4 29.6L622.4 28.3L622.4 26.9L622.4 25.5L622.4 24.1L622.4 22.7L622.4 21.3L622.4 19.9L622.4 18.5L621 18.5L619.5 18.5L618.1 18.5L616.7 18.5L615.2 18.5L613.8 18.5L612.4 18.5L610.9 18.5L609.5 18.5L608.1 18.5L606.6 18.5L605.2 18.5L603.8 18.5L602.4 18.5L600.9 18.5L599.5 18.5L598.1 18.5L596.6 18.5L595.2 18.5L593.8 18.5L592.3 18.5L590.9 18.5L589.5 18.5L588 18.5L586.6 18.5L585.2 18.5L583.7 18.5L582.3 18.5L580.9 18.5L579.4 18.5L578 18.5L576.6 18.5L576 18.5L576.6 19L577.7 19.9L578 20.2L579.4 21.3L580.9 22.4L581.3 22.7L582.3 23.5L583.1 24.1L583.7 24.5L585.1 25.5L585.2 25.5L586.6 26.5L587.1 26.9L588 27.5L589.1 28.3L589.5 28.5L590.9 29.4L591.3 29.6L592.3 30.3L593.5 31L593.8 31.2L595.2 32.1L595.8 32.4L596.6 32.9L598.1 33.7L598.2 33.8L599.5 34.5L600.8 35.2L600.9 35.3L602.4 36.1L603.5 36.6L603.8 36.8L605.2 37.5L606.3 38L606.6 38.2L608.1 38.8L609.4 39.4L609.5 39.4L610.9 40L612.4 40.6L612.8 40.8L613.8 41.2L615.2 41.7L616.5 42.2L616.7 42.2L618.1 42.8L619.5 43.3L620.5 43.6L621 43.7Z" fill="rgb(73,73,255)"/>
<path d="M619.5 38.2L621 38.7L622.4 39.3L622.4 38L622.4 36.6L622.4 35.2L622.4 33.8L622.4 32.4L622.4 31L622.4 29.6L622.4 28.3L622.4 26.9L622.4 25.5L622.4 24.1L622.4 22.7L622.4 21.3L622.4 19.9L622.4 18.5L621 18.5L619.5 18.5L618.1 18.5L616.7 18.5L615.2 18.5L613.8 18.5L612.4 18.5L610.9 18.5L609.5 18.5L608.1 18.5L606.6 18.5L605.2 18.5L603.8 18.5L602.4 18.5L600.9 18.5L599.5 18.5L598.1 18.5L596.6 18.5L595.2 18.5L593.8 18.5L592.3 18.5L590.9 18.5L589.5 18.5L588 18.5L586.6 18.5L585.5 18.5L586.6 19.4L587.3 19.9L588 20.4L589.2 21.3L589.5 21.5L590.9 22.5L591.2 22.7L592.3 23.5L593.2 24.1L593.8 24.4L595.2 25.4L595.3 25.5L596.6 26.3L597.5 26.9L598.1 27.2L599.5 28.1L599.7 28.3L600.9 29L602.1 29.6L602.4 29.8L603.8 30.6L604.5 31L605.2 31.4L606.6 32.2L607 32.4L608.1 33L609.5 33.7L609.7 33.8L610.9 34.4L612.4 35.1L612.6 35.2L613.8 35.8L615.2 36.4L615.7 36.6L616.7 37L618.1 37.6L619.1 38L619.5 38.2Z" fill="rgb(55,55,255)"/>
<path d="M622.4 34.3L622.4 33.8L622.4 32.4L622.4 31L622.4 29.6L622.4 28.3L622.4 26.9L622.4 25.5L622.4 24.1L622.4 22.7L622.4 21.3L622.4 19.9L622.4 18.5L621 18.5L619.5 18.5L618.1 18.5L616.7 18.5L615.2 18.5L613.8 18.5L612.4 18.5L610.9 18.5L609.5 18.5L608.1 18.5L606.6 18.5L605.2 18.5L603.8 18.5L602.4 18.5L600.9 18.5L599.5 18.5L598.1 18.5L596.6 18.5L595.2 18.5L595 18.5L595.2 18.6L596.6 19.6L597 19.9L598.1 20.6L599.1 21.3L599.5 21.6L600.9 22.5L601.2 22.7L602.4 23.4L603.3 24.1L603.8 24.4L605.2 25.3L605.6 25.5L606.6 26.1L607.8 26.9L608.1 27L609.5 27.8L610.2 28.3L610.9 28.7L612.4 29.5L612.7 29.6L613.8 30.3L615.2 31L615.3 31L616.7 31.7L618.1 32.4L619.5 33.1L621 33.7L621.2 33.8L622.4 34.3Z" fill="rgb(36,36,255)"/>
<path d="M621 28.5L622.4 29.2L622.4 28.3L622.4 26.9L622.4 25.5L622.4 24.1L622.4 22.7L622.4 21.3L622.4 19.9L622.4 18.5L621 18.5L619.5 18.5L618.1 18.5L616.7 18.5L615.2 18.5L613.8 18.5L612.4 18.5L610.9 18.5L609.5 18.5L608.1 18.5L606.6 18.5L605.2 18.5L604.5 18.5L605.2 19L606.6 19.9L608.1 20.8L608.8 21.3L609.5 21.7L610.9 22.7L611 22.7L612.4 23.6L613.2 24.1L613.8 24.4L615.2 25.3L615.5 25.5L616.7 26.2L617.9 26.9L618.1 27L619.5 27.8L620.5 28.3L621 28.5Z" fill="rgb(18,18,255)"/>
<path d="M621 22.9L622.4 23.8L622.4 22.7L622.4 21.3L622.4 19.9L622.4 18.5L621 18.5L619.5 18.5L618.1 18.5L616.7 18.5L615.2 18.5L613.9 18.5L615.2 19.3L616.1 19.9L616.7 20.3L618.1 21.2L618.3 21.3L619.5 22.1L620.5 22.7L621 22.9Z" fill="rgb(0,0,255)"/>
<path d="M454.9 269.3L456.3 269.3L457.7 269.3L459.2 269.3L460.6 269.3L462 269.3L463.5 269.3L464.9 269.3L466.3 269.3L467.8 269.3L469.2 269.3L470.6 269.3L472.1 269.3L473.5 269.3L474.9 269.3L476.4 269.3L477.8 269.3L479.2 269.3L480.6 269.3L482.1 269.3L483.5 269.3L484.9 269.3L486.4 269.3L487.8 269.3L489.2 269.3L490.7 269.3L492.1 269.3L493.5 269.3L495 269.3L496.4 269.3L497.8 269.3L499.3 269.3L500.6 269.3L500.7 269.2L502.1 268.1L502.4 267.9L503.6 267.1L504.6 266.5L505 266.3L506.4 265.4L507 265.1L507.9 264.7L509.3 264L509.8 263.7L510.7 263.3L512.1 262.7L513.1 262.3L513.6 262.1L515 261.6L516.4 261.1L517.1 260.9L517.9 260.7L519.3 260.3L520.7 259.9L522.2 259.5L523.6 259.2L525 258.9L526.5 258.6L527.9 258.3L528.7 258.2L529.3 258L530.8 257.8L532.2 257.5L533.6 257.3L535.1 257L536.5 256.8L536.8 256.8L537.9 256.6L539.4 256.4L540.8 256.1L542.2 255.9L543.6 255.7L545.1 255.4L545.6 255.4L546.5 255.2L547.9 255L549.4 254.7L550.8 254.5L552.2 254.3L553.7 254.1L554.3 254L555.1 253.9L556.5 253.7L558 253.5L559.4 253.3L560.8 253.1L562.3 252.9L563.7 252.7L564.9 252.6L565.1 252.5L566.6 252.4L568 252.2L569.4 252L570.9 251.8L572.3 251.7L573.7 251.6L575.1 251.4L576.6 251.3L578 251.2L578.5 251.2L579.4 251.1L580.9 251L582.3 250.9L583.7 250.8L585.2 250.7L586.6 250.6L588 250.5L589.5 250.4L590.9 250.3L592.3 250.3L593.8 250.2L595.2 250.2L596.6 250.1L598.1 250.1L599.5 250L600.9 250L602.4 249.9L603.8 249.8L604.4 249.8L605.2 249.7L606.6 249.7L608.1 249.6L609.5 249.5L610.9 249.4L612.4 249.4L613.8 249.3L615.2 249.2L616.7 249.1L618.1 249.1L619.5 249L621 249L622.4 248.9L622.4 248.4L622.4 247L622.4 245.6L622.4 244.2L622.4 242.8L622.4 241.4L622.4 240L622.4 238.6L622.4 237.3L622.4 235.9L622.4 234.5L622.4 233.1L622.4 231.7L622.4 230.3L622.4 228.9L622.4 227.5L622.4 226.1L622.4 224.7L622.4 223.3L622.4 221.9L622.4 220.5L622.4 219.1L622.4 217.7L622.4 216.4L622.4 215L622.4 213.6L622.4 212.2L622.4 210.8L622.4 209.4L622.4 208L622.4 206.6L622.4 205.2L622.4 203.8L622.4 202.4L622.4 201L622.4 199.6L622.4 198.2L622.4 196.8L622.4 195.5L622.4 194.1L622.4 192.7L622.4 191.3L622.4 189.9L622.4 188.5L622.4 187.1L622.4 185.7L622.4 184.3L622.4 182.9L622.4 181.5L622.4 180.1L622.4 178.7L622.4 177.3L622.4 175.9L622.4 174.6L622.4 173.2L622.4 171.8L622.4 170.4L622.4 169L622.4 167.6L622.4 166.2L622.4 164.8L622.4 163.4L622.4 162L622.4 160.6L622.4 159.2L622.4 157.8L622.4 156.4L622.4 155L622.4 153.7L622.4 152.3L622.4 150.9L622.4 149.5L622.4 148.1L622.4 146.7L622.4 145.3L622.4 143.9L622.4 142.5L622.4 141.1L622.4 139.7L622.4 138.3L622.4 136.9L622.4 135.5L622.4 134.1L622.4 132.8L622.4 131.4L622.4 130L622.4 128.6L622.4 127.2L622.4 125.8L622.4 124.4L622.4 123.3L621 123.4L619.5 123.5L618.1 123.6L616.7 123.6L615.2 123.7L613.8 123.8L612.4 123.9L610.9 124L609.5 124.1L608.1 124.2L606.6 124.3L605.2 124.4L604.7 124.4L603.8 124.5L602.4 124.6L600.9 124.7L599.5 124.8L598.1 124.9L596.6 125L595.2 125.1L593.8 125.2L592.3 125.3L590.9 125.5L589.5 125.6L588 125.7L587.2 125.8L586.6 125.8L585.2 126L583.7 126.1L582.3 126.3L580.9 126.4L579.4 126.5L578 126.7L576.6 126.8L575.1 127L573.7 127.2L573.5 127.2L572.3 127.3L570.9 127.5L569.4 127.6L568 127.8L566.6 128L565.1 128.1L563.7 128.3L562.3 128.5L561.6 128.6L560.8 128.7L559.4 128.9L558 129L556.5 129.2L555.1 129.4L553.7 129.6L552.2 129.9L551.6 130L550.8 130.1L549.4 130.4L547.9 130.6L546.5 130.9L545.1 131.2L544.6 131.4L543.6 131.6L542.2 131.9L540.8 132.3L539.4 132.7L539.2 132.8L537.9 133.1L536.5 133.6L535.1 134.1L534.9 134.1L533.6 134.6L532.2 135.2L531.2 135.5L530.8 135.7L529.3 136.3L528 136.9L527.9 137L526.5 137.6L525.1 138.3L525 138.3L523.6 139.1L522.4 139.7L522.2 139.8L520.7 140.6L519.9 141.1L519.3 141.4L517.9 142.3L517.6 142.5L516.4 143.2L515.4 143.9L515 144.2L513.6 145.2L513.4 145.3L512.1 146.2L511.5 146.7L510.7 147.4L509.8 148.1L509.3 148.5L508.2 149.5L507.9 149.8L506.7 150.9L506.4 151.1L505.3 152.3L505 152.6L504 153.7L503.6 154.1L502.7 155L502.1 155.7L501.5 156.4L500.7 157.5L500.4 157.8L499.4 159.2L499.3 159.4L498.4 160.6L497.8 161.5L497.5 162L496.6 163.4L496.4 163.7L495.8 164.8L495 166.2L494.2 167.6L493.5 169L492.8 170.4L492.2 171.8L492.1 172L491.6 173.2L491 174.6L490.7 175.5L490.5 175.9L490 177.3L489.5 178.7L489.2 179.5L489 180.1L488.6 181.5L488.2 182.9L487.8 184.1L487.8 184.3L487.4 185.7L487 187.1L486.7 188.5L486.4 189.8L486.3 189.9L486 191.3L485.7 192.7L485.5 194.1L485.2 195.5L484.9 196.8L484.7 198.2L484.4 199.6L484.2 201L484 202.4L483.8 203.8L483.5 205.2L483.5 205.4L483.3 206.6L483.1 208L482.9 209.4L482.7 210.8L482.5 212.2L482.3 213.6L482.2 215L482.1 215.6L482 216.4L481.8 217.7L481.6 219.1L481.5 220.5L481.3 221.9L481.1 223.3L481 224.7L480.8 226.1L480.6 227.5L480.5 228.9L480.3 230.3L480.2 231.7L480 233.1L479.8 234.5L479.6 235.9L479.4 237.3L479.2 238.3L479.2 238.6L478.9 240L478.6 241.4L478.2 242.8L477.8 244.2L477.3 245.6L476.8 247L476.4 247.9L476.1 248.4L475.3 249.8L474.9 250.5L474.5 251.2L473.5 252.5L473.5 252.6L472.3 254L472.1 254.2L471 255.4L470.6 255.7L469.6 256.8L469.2 257.1L468 258.2L467.8 258.4L466.4 259.5L466.3 259.6L464.9 260.8L464.7 260.9L463.5 261.9L463 262.3L462 263.1L461.3 263.7L460.6 264.3L459.6 265.1L459.2 265.5L458 266.5L457.7 266.7L456.3 267.9L454.9 269.2L454.8 269.3L454.9 269.3Z" fill="rgb(255,204,204)"/>
<path d="M612.4 238.7L613.8 238.8L615.2 238.9L616.7 239L618.1 239.1L619.5 239.2L621 239.3L622.4 239.4L622.4 238.6L622.4 237.3L622.4 235.9L622.4 234.5L622.4 233.1L622.4 231.7L622.4 230.3L622.4 228.9L622.4 227.5L622.4 226.1L622.4 224.7L622.4 223.3L622.4 221.9L622.4 220.5L622.4 219.1L622.4 217.7L622.4 216.4L622.4 215L622.4 213.6L622.4 212.2L622.4 210.8L622.4 209.4L622.4 208L622.4 206.6L622.4 205.2L622.4 203.8L622.4 202.4L622.4 201L622.4 199.6L622.4 198.2L622.4 196.8L622.4 195.5L622.4 194.1L622.4 192.7L622.4 191.3L622.4 189.9L622.4 188.5L622.4 187.1L622.4 185.7L622.4 184.3L622.4 182.9L622.4 181.5L622.4 180.1L622.4 178.7L622.4 177.3L622.4 175.9L622.4 174.6L622.4 173.2L622.4 171.8L622.4 170.4L622.4 169L622.4 167.6L622.4 166.2L622.4 164.8L622.4 163.4L622.4 162L622.4 160.6L622.4 159.2L622.4 157.8L622.4 156.4L622.4 155L622.4 153.7L622.4 152.3L622.4 150.9L622.4 149.5L622.4 148.1L622.4 146.7L622.4 145.3L622.4 143.9L622.4 142.5L622.4 141.1L622.4 139.7L622.4 138.3L622.4 136.9L622.4 135.5L622.4 134.9L621 135.1L619.5 135.3L618.3 135.5L618.1 135.6L616.7 135.8L615.2 136L613.8 136.3L612.4 136.5L610.9 136.8L610.1 136.9L609.5 137L608.1 137.3L606.6 137.6L605.2 137.9L603.8 138.2L603.3 138.3L602.4 138.5L600.9 138.9L599.5 139.3L598.1 139.7L597.8 139.7L596.6 140.1L595.2 140.5L593.8 140.9L593.1 141.1L592.3 141.4L590.9 141.8L589.5 142.3L588.9 142.5L588 142.8L586.6 143.3L585.2 143.9L585.1 143.9L583.7 144.4L582.3 145L581.6 145.3L580.9 145.6L579.4 146.2L578.4 146.7L578 146.9L576.6 147.5L575.5 148.1L575.1 148.2L573.7 149L572.7 149.5L572.3 149.7L570.9 150.5L570.2 150.9L569.4 151.3L568 152.1L567.7 152.3L566.6 152.9L565.3 153.7L565.1 153.8L563.7 154.7L563.1 155L562.3 155.6L561 156.4L560.8 156.5L559.4 157.6L559 157.8L558 158.6L557.1 159.2L556.5 159.7L555.4 160.6L555.1 160.8L553.7 162L553.6 162L552.2 163.2L551.9 163.4L550.8 164.4L550.3 164.8L549.4 165.7L548.8 166.2L547.9 167L547.4 167.6L546.5 168.4L546 169L545.1 170L544.7 170.4L543.6 171.6L543.5 171.8L542.3 173.2L542.2 173.3L541.2 174.6L540.8 175.1L540.2 175.9L539.4 177.1L539.2 177.3L538.3 178.7L537.9 179.4L537.5 180.1L536.7 181.5L536.5 181.9L536 182.9L535.4 184.3L535.1 185.2L534.9 185.7L534.4 187.1L534 188.5L533.7 189.9L533.6 190.1L533.4 191.3L533.2 192.7L533 194.1L532.9 195.5L532.9 196.8L533 198.2L533.1 199.6L533.3 201L533.5 202.4L533.6 203.1L533.8 203.8L534.1 205.2L534.6 206.6L535.1 208L535.6 209.4L536.3 210.8L536.5 211.2L537 212.2L537.8 213.6L537.9 213.7L538.8 215L539.4 215.7L539.8 216.4L540.8 217.5L541 217.7L542.2 219L542.4 219.1L543.6 220.3L543.9 220.5L545.1 221.5L545.7 221.9L546.5 222.5L547.7 223.3L547.9 223.4L549.4 224.3L550.1 224.7L550.8 225.1L552.2 225.8L552.9 226.1L553.7 226.4L555.1 227L556.3 227.5L556.5 227.6L558 228.1L559.4 228.6L560.3 228.9L560.8 229L562.3 229.5L563.7 229.9L565 230.3L565.1 230.3L566.6 230.7L568 231.1L569.4 231.5L570.4 231.7L570.9 231.8L572.3 232.1L573.7 232.4L575.1 232.7L576.6 233L577.1 233.1L578 233.3L579.4 233.5L580.9 233.9L582.3 234.2L583.6 234.5L583.7 234.5L585.2 234.8L586.6 235.1L588 235.4L589.5 235.6L590.7 235.9L590.9 235.9L592.3 236.1L593.8 236.3L595.2 236.5L596.6 236.7L598.1 236.9L599.5 237.1L600.6 237.3L600.9 237.3L602.4 237.5L603.8 237.7L605.2 237.9L606.6 238.1L608.1 238.2L609.5 238.4L610.9 238.5L612.1 238.6L612.4 238.7Z" fill="rgb(255,153,153)"/>
<path d="M621 227.7L622.4 228L622.4 227.5L622.4 226.1L622.4 224.7L622.4 223.3L622.4 221.9L622.4 220.5L622.4 219.1L622.4 217.7L622.4 216.4L622.4 215L622.4 213.6L622.4 212.2L622.4 210.8L622.4 209.4L622.4 208L622.4 206.6L622.4 205.2L622.4 203.8L622.4 202.4L622.4 201L622.4 199.6L622.4 198.2L622.4 196.8L622.4 195.5L622.4 194.1L622.4 192.7L622.4 191.3L622.4 189.9L622.4 188.5L622.4 187.1L622.4 185.7L622.4 184.3L622.4 182.9L622.4 181.5L622.4 180.1L622.4 178.7L622.4 177.3L622.4 175.9L622.4 174.6L622.4 173.2L622.4 171.8L622.4 170.4L622.4 169L622.4 167.6L622.4 166.2L622.4 164.8L622.4 163.4L622.4 162L622.4 160.6L622.4 159.2L622.4 157.8L622.4 156.4L622.4 155L622.4 153.7L622.4 152.3L622.4 150.9L622.4 149.5L622.4 148.8L621 149.3L620.3 149.5L619.5 149.7L618.1 150.2L616.7 150.6L615.9 150.9L615.2 151.1L613.8 151.6L612.4 152.1L612 152.3L610.9 152.7L609.5 153.2L608.5 153.7L608.1 153.8L606.6 154.5L605.4 155L605.2 155.1L603.8 155.8L602.6 156.4L602.4 156.6L600.9 157.3L600 157.8L599.5 158.1L598.1 159L597.7 159.2L596.6 159.9L595.5 160.6L595.2 160.9L593.8 161.9L593.6 162L592.3 162.9L591.7 163.4L590.9 164.1L590 164.8L589.5 165.3L588.4 166.2L588 166.5L586.9 167.6L586.6 167.9L585.5 169L585.2 169.3L584.2 170.4L583.7 170.9L583 171.8L582.3 172.7L581.9 173.2L580.9 174.6L579.9 175.9L579.4 176.7L579 177.3L578.2 178.7L578 179.1L577.4 180.1L576.7 181.5L576.6 181.9L576.1 182.9L575.5 184.3L575.1 185.5L575.1 185.7L574.7 187.1L574.3 188.5L574.1 189.9L573.9 191.3L573.8 192.7L573.8 194.1L573.9 195.5L574 196.8L574.3 198.2L574.7 199.6L575.1 201L575.1 201.1L575.7 202.4L576.4 203.8L576.6 204.1L577.2 205.2L578 206.4L578.2 206.6L579.2 208L579.4 208.3L580.4 209.4L580.9 209.9L581.8 210.8L582.3 211.3L583.3 212.2L583.7 212.6L585 213.6L585.2 213.7L586.6 214.8L586.9 215L588 215.7L589 216.4L589.5 216.6L590.9 217.5L591.4 217.7L592.3 218.2L593.8 219L594.1 219.1L595.2 219.7L596.6 220.4L597 220.5L598.1 221L599.5 221.5L600.5 221.9L600.9 222.1L602.4 222.6L603.8 223L604.6 223.3L605.2 223.5L606.6 224L608.1 224.4L609.1 224.7L609.5 224.8L610.9 225.2L612.4 225.6L613.8 226L614.2 226.1L615.2 226.4L616.7 226.7L618.1 227L619.5 227.4L620.1 227.5L621 227.7Z" fill="rgb(255,102,102)"/>
<path d="M622.4 209.8L622.4 209.4L622.4 208L622.4 206.6L622.4 205.2L622.4 203.8L622.4 202.4L622.4 201L622.4 199.6L622.4 198.2L622.4 196.8L622.4 195.5L622.4 194.1L622.4 192.7L622.4 191.3L622.4 189.9L622.4 188.5L622.4 187.1L622.4 185.7L622.4 184.3L622.4 182.9L622.4 181.5L622.4 180.1L622.4 178.7L622.4 177.3L622.4 175.9L622.4 174.6L622.4 173.2L622.4 171.8L622.4 170.4L622.4 170.1L622.1 170.4L621 171.4L620.5 171.8L619.5 172.8L619.1 173.2L618.1 174.3L617.8 174.6L616.7 175.9L615.6 177.3L615.2 177.9L614.6 178.7L613.8 180.1L613 181.5L612.4 182.9L611.8 184.3L611.4 185.7L611.1 187.1L610.9 187.8L610.8 188.5L610.7 189.9L610.7 191.3L610.8 192.7L610.9 193.3L611.1 194.1L611.4 195.5L611.9 196.8L612.4 197.9L612.5 198.2L613.2 199.6L613.8 200.6L614.1 201L615 202.4L615.2 202.7L616.1 203.8L616.7 204.5L617.3 205.2L618.1 206L618.7 206.6L619.5 207.4L620.2 208L621 208.7L621.9 209.4L622.4 209.8Z" fill="rgb(255,51,51)"/>
</g>
<g stroke="#333" stroke-width="0.8" fill="none"><path d="M330.3 18.5H622.4V269.3" stroke="#888" stroke-width="0.8"/><path d="M330.3 18.5V269.3H622.4"/><line x1="330.3" y1="269.3" x2="326.0" y2="269.3"/><line x1="330.3" y1="227.5" x2="326.0" y2="227.5"/><line x1="330.3" y1="185.7" x2="326.0" y2="185.7"/><line x1="330.3" y1="143.9" x2="326.0" y2="143.9"/><line x1="330.3" y1="102.1" x2="326.0" y2="102.1"/><line x1="330.3" y1="60.3" x2="326.0" y2="60.3"/><line x1="330.3" y1="18.5" x2="326.0" y2="18.5"/><line x1="369.0" y1="269.3" x2="369.0" y2="273.2"/><line x1="411.9" y1="269.3" x2="411.9" y2="273.2"/><line x1="454.9" y1="269.3" x2="454.9" y2="273.2"/><line x1="497.8" y1="269.3" x2="497.8" y2="273.2"/><line x1="540.8" y1="269.3" x2="540.8" y2="273.2"/><line x1="583.7" y1="269.3" x2="583.7" y2="273.2"/></g>
<g font-size="12.6px" fill="#111"><text x="322.4" y="274.5" text-anchor="end">0</text><text x="322.4" y="232.7" text-anchor="end">5</text><text x="322.4" y="190.9" text-anchor="end">10</text><text x="322.4" y="149.1" text-anchor="end">15</text><text x="322.4" y="107.3" text-anchor="end">20</text><text x="322.4" y="65.5" text-anchor="end">25</text><text x="322.4" y="23.7" text-anchor="end">30</text><text x="369.0" y="283.5" text-anchor="middle">1</text><text x="411.9" y="283.5" text-anchor="middle">2</text><text x="454.9" y="283.5" text-anchor="middle">3</text><text x="497.8" y="283.5" text-anchor="middle">4</text><text x="540.8" y="283.5" text-anchor="middle">5</text><text x="583.7" y="283.5" text-anchor="middle">6</text></g>
<text x="476.4" y="298.8" font-size="9.7px" text-anchor="middle" fill="#111">average wind speed</text>
<text transform="translate(305.8,144.1) rotate(-90)" font-size="9.9px" text-anchor="middle" fill="#111">Lag (days)</text>
<text x="343.2" y="40.6" font-size="20.2px">(b)</text>
<!-- colour bar -->
<g stroke="#333" stroke-width="0.5"><rect x="637.5" y="256.76" width="15.8" height="12.54" fill="rgb(0,0,255)"/><rect x="637.5" y="244.22" width="15.8" height="12.54" fill="rgb(18,18,255)"/><rect x="637.5" y="231.68" width="15.8" height="12.54" fill="rgb(36,36,255)"/><rect x="637.5" y="219.14" width="15.8" height="12.54" fill="rgb(55,55,255)"/><rect x="637.5" y="206.60" width="15.8" height="12.54" fill="rgb(73,73,255)"/><rect x="637.5" y="194.06" width="15.8" height="12.54" fill="rgb(91,91,255)"/><rect x="637.5" y="181.52" width="15.8" height="12.54" fill="rgb(109,109,255)"/><rect x="637.5" y="168.98" width="15.8" height="12.54" fill="rgb(128,128,255)"/><rect x="637.5" y="156.44" width="15.8" height="12.54" fill="rgb(146,146,255)"/><rect x="637.5" y="143.90" width="15.8" height="12.54" fill="rgb(164,164,255)"/><rect x="637.5" y="131.36" width="15.8" height="12.54" fill="rgb(182,182,255)"/><rect x="637.5" y="118.82" width="15.8" height="12.54" fill="rgb(200,200,255)"/><rect x="637.5" y="106.28" width="15.8" height="12.54" fill="rgb(219,219,255)"/><rect x="637.5" y="93.74" width="15.8" height="12.54" fill="rgb(237,237,255)"/><rect x="637.5" y="81.20" width="15.8" height="12.54" fill="rgb(255,255,255)"/><rect x="637.5" y="68.66" width="15.8" height="12.54" fill="rgb(255,255,255)"/><rect x="637.5" y="56.12" width="15.8" height="12.54" fill="rgb(255,204,204)"/><rect x="637.5" y="43.58" width="15.8" height="12.54" fill="rgb(255,153,153)"/><rect x="637.5" y="31.04" width="15.8" height="12.54" fill="rgb(255,102,102)"/><rect x="637.5" y="18.50" width="15.8" height="12.54" fill="rgb(255,51,51)"/></g>
<g stroke="#666" stroke-width="0.7"><line x1="653.3" y1="269.3" x2="656.9" y2="269.3"/><line x1="653.3" y1="206.6" x2="656.9" y2="206.6"/><line x1="653.3" y1="143.9" x2="656.9" y2="143.9"/><line x1="653.3" y1="81.2" x2="656.9" y2="81.2"/><line x1="653.3" y1="18.5" x2="656.9" y2="18.5"/></g>
<g font-size="12.6px" fill="#111"><text x="661.5" y="274.2">0.85</text><text x="661.5" y="211.5">0.90</text><text x="661.5" y="148.8">0.95</text><text x="661.5" y="86.1">1.00</text><text x="661.5" y="23.4">1.05</text></g>
<text x="645.5" y="6.1" font-size="7.3px" font-weight="bold" text-anchor="middle" fill="#111">RR</text>
</svg>
</body></html>
